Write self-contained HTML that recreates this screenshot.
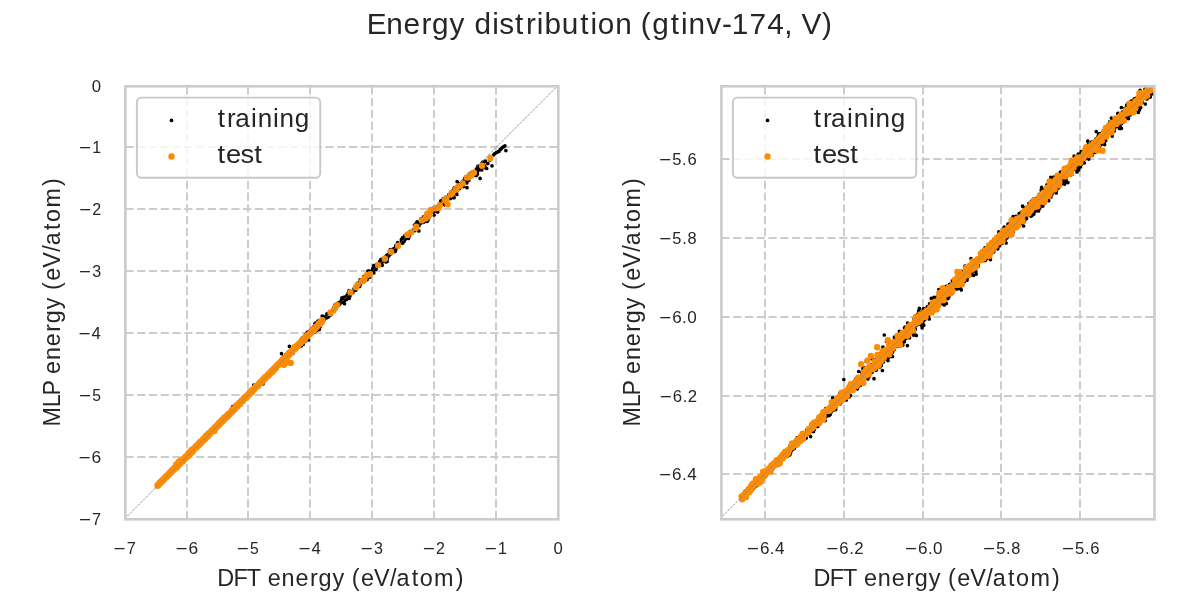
<!DOCTYPE html>
<html><head><meta charset="utf-8"><title>Energy distribution</title><style>html,body{margin:0;padding:0;background:#fff;overflow:hidden}svg{display:block;will-change:transform}</style></head>
<body><svg width="1200" height="600" viewBox="0 0 1200 600">
<style>
.g{stroke:#cccccc;stroke-width:1.95;stroke-dasharray:8.2 3.57;fill:none}
.gv{stroke:#cccccc;stroke-width:1.95;stroke-dasharray:8.23 3.567;fill:none}
.sp{stroke:#cccccc;stroke-width:2.6;fill:none}
text{font-family:"Liberation Sans", sans-serif;fill:#262626}
.tr{fill:none;stroke:#000;stroke-width:3.7;stroke-linecap:round}
.te{fill:none;stroke:#ff8c00;stroke-width:6.4;stroke-linecap:round}
.dg{stroke:#808080;stroke-width:0.85;stroke-dasharray:2.6 1.1;fill:none}
</style>
<rect width="1200" height="600" fill="#fff"/>
<defs><clipPath id="cl"><rect x="125.4" y="86.3" width="432.9" height="433"/></clipPath><clipPath id="cr"><rect x="721.4" y="86.3" width="433.1" height="433"/></clipPath></defs>
<line x1="187" y1="86.3" x2="187" y2="519.3" class="gv"/>
<line x1="248" y1="86.3" x2="248" y2="519.3" class="gv"/>
<line x1="310" y1="86.3" x2="310" y2="519.3" class="gv"/>
<line x1="372" y1="86.3" x2="372" y2="519.3" class="gv"/>
<line x1="434" y1="86.3" x2="434" y2="519.3" class="gv"/>
<line x1="496" y1="86.3" x2="496" y2="519.3" class="gv"/>
<line x1="125.4" y1="147" x2="558.3" y2="147" class="g"/>
<line x1="125.4" y1="209" x2="558.3" y2="209" class="g"/>
<line x1="125.4" y1="271" x2="558.3" y2="271" class="g"/>
<line x1="125.4" y1="333" x2="558.3" y2="333" class="g"/>
<line x1="125.4" y1="395" x2="558.3" y2="395" class="g"/>
<line x1="125.4" y1="457" x2="558.3" y2="457" class="g"/>
<line x1="765" y1="86.3" x2="765" y2="519.3" class="gv"/>
<line x1="844" y1="86.3" x2="844" y2="519.3" class="gv"/>
<line x1="923" y1="86.3" x2="923" y2="519.3" class="gv"/>
<line x1="1001" y1="86.3" x2="1001" y2="519.3" class="gv"/>
<line x1="1080" y1="86.3" x2="1080" y2="519.3" class="gv"/>
<line x1="721.4" y1="159" x2="1154.5" y2="159" class="g"/>
<line x1="721.4" y1="238" x2="1154.5" y2="238" class="g"/>
<line x1="721.4" y1="317" x2="1154.5" y2="317" class="g"/>
<line x1="721.4" y1="396" x2="1154.5" y2="396" class="g"/>
<line x1="721.4" y1="474" x2="1154.5" y2="474" class="g"/>
<g clip-path="url(#cl)">
<path class="tr" d="M199.2 443.5h0M207.1 437.6h0M159.5 483.3h0M217.8 425.7h0M189.0 455.0h0M158.5 484.7h0M176.3 466.8h0M210.9 432.7h0M198.9 443.0h0M171.6 471.5h0M223.3 420.3h0M193.6 447.9h0M171.3 472.2h0M217.3 427.4h0M181.7 461.2h0M177.7 465.2h0M157.8 485.3h0M212.3 430.4h0M178.7 464.5h0M222.8 420.6h0M207.7 434.3h0M182.1 460.9h0M158.2 484.7h0M170.7 471.5h0M219.7 423.8h0M192.7 450.0h0M164.8 478.1h0M160.1 483.4h0M163.7 479.8h0M180.3 463.6h0M194.0 449.3h0M162.8 480.1h0M203.7 439.4h0M223.6 419.5h0M184.7 459.4h0M188.1 455.7h0M161.3 481.5h0M213.6 429.4h0M206.5 437.4h0M164.7 478.7h0M167.6 475.6h0M224.4 418.1h0M222.8 421.4h0M189.6 453.4h0M184.6 459.9h0M221.8 420.1h0M191.0 451.7h0M209.9 433.0h0M181.8 461.2h0M202.0 442.2h0M181.9 461.4h0M209.1 433.4h0M177.2 466.3h0M158.4 484.9h0M174.4 469.6h0M200.9 442.0h0M180.9 462.3h0M181.0 463.3h0M215.7 425.8h0M192.2 451.1h0M168.7 474.0h0M203.8 439.6h0M206.4 436.6h0M202.1 441.9h0M199.3 444.5h0M159.5 483.9h0M187.1 455.9h0M199.8 442.4h0M189.1 453.7h0M178.8 464.2h0M170.5 472.9h0M198.5 444.5h0M173.5 469.1h0M176.2 466.9h0M165.3 477.8h0M198.6 444.4h0M194.0 450.5h0M212.3 431.7h0M211.9 431.5h0M197.4 445.4h0M221.6 422.1h0M217.3 426.7h0M164.8 478.4h0M199.7 443.7h0M182.7 460.3h0M222.6 420.1h0M221.8 421.8h0M223.2 420.3h0M185.4 457.0h0M176.7 466.4h0M165.8 477.6h0M209.9 433.1h0M158.5 484.7h0M209.9 431.8h0M175.5 467.2h0M198.2 444.9h0M200.7 442.5h0M208.4 435.1h0M193.3 450.1h0M188.6 453.7h0M207.4 435.3h0M188.1 455.0h0M217.0 425.1h0M186.2 456.8h0M204.9 439.6h0M183.4 459.6h0M214.5 429.0h0M162.0 480.7h0M204.0 439.4h0M218.5 423.6h0M189.6 454.1h0M167.9 475.2h0M211.9 431.2h0M210.5 431.4h0M159.3 483.1h0M204.5 439.0h0M213.9 430.3h0M205.2 439.2h0M177.2 465.5h0M185.3 457.1h0M199.2 443.4h0M162.4 480.5h0M196.1 446.8h0M186.5 456.9h0M197.7 444.8h0M161.3 481.8h0M167.7 476.1h0M194.7 448.5h0M175.2 467.9h0M192.2 449.9h0M173.3 469.9h0M205.3 438.3h0M163.3 479.7h0M197.3 445.7h0M216.2 427.5h0M159.6 483.2h0M161.2 481.6h0M172.5 470.8h0M222.6 420.4h0M199.4 444.1h0M173.3 470.1h0M183.4 460.1h0M213.2 429.8h0M214.5 429.3h0M197.2 446.0h0M164.1 479.2h0M171.1 471.6h0M208.4 435.8h0M189.0 454.6h0M188.7 454.9h0M167.9 475.4h0M216.4 426.3h0M174.6 468.3h0M173.3 469.5h0M159.7 483.6h0M203.6 438.5h0M189.1 453.3h0M177.1 465.5h0M206.3 436.8h0M173.0 470.0h0M184.4 459.1h0M188.9 453.8h0M206.6 436.4h0M202.5 440.2h0M200.8 442.3h0M161.7 481.4h0M185.0 460.0h0M192.3 451.4h0M163.9 479.0h0M220.1 423.5h0M173.9 469.4h0M174.7 468.3h0M178.1 463.6h0M169.6 473.3h0M184.5 458.1h0M164.8 478.2h0M219.2 423.7h0M158.8 484.4h0M190.1 453.7h0M206.1 436.4h0M178.2 464.8h0M165.3 477.9h0M163.5 479.5h0M166.3 477.0h0M174.0 469.7h0M174.0 468.8h0M204.4 438.6h0M182.6 460.0h0M185.7 457.4h0M217.5 426.5h0M208.4 435.9h0M201.4 441.3h0M206.3 437.0h0M183.2 458.8h0M162.0 481.1h0M176.7 465.6h0M208.7 434.3h0M166.3 476.8h0M215.1 428.5h0M186.3 457.2h0M179.7 465.5h0M206.2 437.6h0M193.0 450.3h0M220.3 423.5h0M165.5 477.3h0M186.6 456.9h0M208.9 435.9h0M197.4 446.1h0M212.0 429.4h0M159.8 483.1h0M189.8 453.7h0M176.1 466.8h0M195.2 447.9h0M181.1 462.5h0M223.3 419.4h0M184.4 459.5h0M213.2 429.6h0M164.2 478.9h0M217.8 425.2h0M203.2 440.5h0M199.2 444.0h0M191.8 451.3h0M170.0 473.2h0M178.5 464.5h0M189.4 455.2h0M212.1 430.0h0M203.9 440.4h0M181.9 461.5h0M203.0 440.2h0M163.4 479.6h0M196.4 446.9h0M219.7 424.0h0M205.5 437.7h0M221.6 422.6h0M203.6 439.7h0M171.6 472.1h0M217.5 424.9h0M183.9 459.5h0M183.7 460.2h0M218.4 425.9h0M183.4 460.0h0M205.4 438.5h0M216.9 426.5h0M199.2 443.5h0M168.8 474.3h0M161.8 481.4h0M213.1 430.2h0M186.0 457.8h0M218.1 425.3h0M222.2 420.1h0M159.6 483.7h0M169.9 473.4h0M197.3 446.2h0M161.7 481.7h0M213.4 430.3h0M200.7 441.3h0M172.9 469.9h0M164.3 479.0h0M168.1 474.8h0M164.6 478.2h0M206.8 436.0h0M219.4 424.8h0M199.4 443.5h0M161.9 481.1h0M182.6 460.9h0M163.2 480.2h0M193.9 448.6h0M182.6 459.9h0M190.7 452.2h0M208.4 434.9h0M177.4 466.2h0M206.9 436.2h0M183.1 461.0h0M210.3 432.8h0M177.4 465.4h0M161.0 482.3h0M173.5 469.3h0M164.0 479.0h0M223.4 420.9h0M163.7 479.0h0M211.8 431.2h0M158.7 484.6h0M188.2 455.1h0M172.2 470.9h0M187.2 455.5h0M221.4 421.5h0M191.5 452.5h0M186.7 455.8h0M217.9 425.4h0M159.2 483.9h0M185.2 457.2h0M182.9 461.5h0M208.1 434.3h0M185.8 456.4h0M224.1 419.6h0M189.0 453.9h0M202.2 440.6h0M162.5 480.3h0M217.6 425.6h0M213.0 430.1h0M197.6 445.4h0M220.3 421.5h0M170.0 473.2h0M182.5 459.5h0M167.8 474.8h0M163.6 479.5h0M200.6 443.0h0M196.5 446.1h0M173.7 469.4h0M206.5 435.9h0M189.8 452.3h0M185.6 457.5h0M198.4 444.0h0M160.2 482.8h0M180.7 462.6h0M201.4 441.1h0M182.4 461.1h0M221.1 423.6h0M177.8 465.1h0M187.6 455.6h0M192.9 449.7h0M194.5 448.9h0M166.8 476.7h0M171.5 471.6h0M161.6 481.5h0M222.3 420.6h0M176.0 467.1h0M213.0 430.7h0M183.6 459.5h0M216.2 426.5h0M217.6 425.5h0M207.0 436.0h0M158.2 484.7h0M215.8 428.0h0M197.0 446.3h0M198.5 445.5h0M221.0 421.2h0M163.8 479.1h0M188.4 454.0h0M162.2 481.1h0M214.0 429.2h0M177.6 466.5h0M208.3 434.3h0M168.0 475.3h0M175.2 467.8h0M181.2 461.7h0M186.0 457.3h0M166.9 476.4h0M203.5 440.9h0M167.3 476.1h0M190.6 451.9h0M201.9 441.8h0M210.0 433.2h0M174.9 468.0h0M217.1 426.7h0M221.5 422.3h0M209.1 433.4h0M214.0 428.6h0M160.9 482.3h0M206.0 436.5h0M184.9 458.0h0M205.5 437.5h0M215.7 427.6h0M220.7 422.1h0M217.5 425.1h0M172.7 470.1h0M195.4 447.2h0M220.0 422.7h0M188.8 454.3h0M193.5 449.9h0M223.6 420.1h0M194.4 448.5h0M186.2 458.4h0M183.1 460.1h0M219.0 423.9h0M166.9 476.5h0M220.4 424.2h0M196.0 446.7h0M176.6 466.5h0M208.3 434.1h0M166.6 476.7h0M164.5 479.0h0M166.5 476.3h0M199.0 443.7h0M168.5 474.2h0M174.4 468.3h0M161.1 481.7h0M180.1 462.3h0M200.3 441.8h0M176.5 467.5h0M216.2 427.5h0M222.9 420.0h0M201.4 441.8h0M220.7 422.5h0M214.6 429.6h0M202.8 439.8h0M206.5 436.9h0M210.8 433.2h0M190.7 451.9h0M213.6 430.7h0M193.4 449.4h0M222.7 420.2h0M173.5 469.8h0M200.7 443.0h0M175.9 468.0h0M207.3 436.6h0M186.7 456.5h0M197.5 446.3h0M187.3 455.3h0M213.8 429.2h0M161.4 481.7h0M188.2 455.2h0M211.3 432.0h0M210.8 432.4h0M199.3 444.6h0M214.5 429.4h0M159.0 484.0h0M162.0 481.1h0M164.3 478.6h0M157.8 485.2h0M177.7 465.7h0M221.3 421.6h0M203.7 440.1h0M184.9 457.8h0M188.1 455.5h0M203.2 441.1h0M215.8 427.2h0M201.7 442.1h0M216.6 427.0h0M179.5 463.5h0M203.2 439.7h0M213.8 428.7h0M163.9 479.2h0M176.9 465.8h0M167.6 475.5h0M194.4 448.7h0M213.3 429.6h0M167.7 475.6h0M161.5 481.6h0M211.3 432.6h0M219.0 424.6h0M186.1 457.1h0M212.6 430.9h0M162.3 480.4h0M172.3 471.0h0M206.4 436.9h0M179.0 464.0h0M202.9 440.8h0M192.3 451.8h0M200.1 444.1h0M191.9 451.6h0M176.2 466.8h0M162.4 480.7h0M163.7 479.2h0M219.8 422.8h0M220.8 422.1h0M180.5 462.9h0M164.2 479.2h0M179.5 464.7h0M161.5 481.5h0M176.7 466.1h0M180.8 463.0h0M214.1 429.9h0M198.7 444.1h0M186.1 458.3h0M178.1 464.6h0M197.9 444.9h0M206.7 435.9h0M164.9 478.1h0M163.0 480.1h0M176.6 465.9h0M168.4 474.6h0M204.0 438.4h0M199.0 445.1h0M169.5 473.9h0M165.0 477.7h0M182.4 459.3h0M183.7 460.0h0M224.2 419.0h0M188.2 456.0h0M169.2 473.6h0M174.7 468.6h0M186.8 456.8h0M160.0 483.1h0M201.6 442.4h0M191.3 451.9h0M209.6 434.0h0M168.5 474.2h0M160.6 482.5h0M160.7 482.2h0M223.7 419.3h0M159.8 483.1h0M170.4 472.8h0M162.0 481.0h0M224.1 418.0h0M209.9 433.8h0M168.9 474.0h0M205.7 437.3h0M158.3 484.6h0M206.4 437.8h0M218.5 425.3h0M176.5 466.2h0M175.0 468.0h0M174.1 468.8h0M221.6 421.1h0M197.2 446.9h0M183.8 460.1h0M210.4 433.7h0M167.6 475.9h0M158.0 485.2h0M172.9 470.5h0M176.4 467.3h0M171.4 471.3h0M204.7 437.8h0M190.2 453.7h0M162.9 480.4h0M188.7 453.5h0M180.8 461.8h0M192.5 450.9h0M198.1 444.3h0M178.5 465.4h0M200.7 442.3h0M187.4 455.6h0M219.7 423.2h0M190.9 451.7h0M168.4 474.6h0M218.4 425.4h0M199.4 443.0h0M172.9 469.8h0M174.8 468.6h0M190.0 453.6h0M189.5 454.5h0M209.1 434.2h0M191.4 451.9h0M179.7 463.9h0M198.7 443.8h0M219.5 424.0h0M173.0 470.7h0M199.1 444.1h0M190.5 453.1h0M205.9 438.8h0M187.2 455.6h0M223.9 419.7h0M163.2 480.4h0M201.2 441.7h0M167.4 476.3h0M198.7 443.3h0M213.0 430.5h0M186.1 456.0h0M179.9 463.5h0M193.1 450.8h0M205.3 438.8h0M190.6 453.0h0M160.9 482.4h0M178.9 463.9h0M219.7 423.4h0M177.6 465.5h0M195.6 446.6h0M189.5 453.7h0M157.6 485.3h0M167.5 475.5h0M181.3 463.3h0M177.2 466.2h0M192.6 450.5h0M167.2 475.6h0M208.8 433.9h0M216.0 427.0h0M217.4 425.8h0M157.8 485.0h0M206.9 436.4h0M158.0 485.4h0M218.3 424.6h0M223.6 419.7h0M186.1 456.7h0M187.9 454.5h0M178.2 465.1h0M173.9 468.9h0M224.2 418.7h0M192.6 450.9h0M182.1 461.7h0M159.6 483.5h0M202.7 440.4h0M173.2 470.2h0M214.6 428.6h0M162.2 480.7h0M177.1 466.5h0M160.7 482.2h0M161.0 482.2h0M213.5 429.5h0M161.9 481.1h0M169.7 472.7h0M190.5 453.5h0M166.6 476.3h0M216.8 426.9h0M223.1 418.9h0M220.1 423.7h0M162.5 480.8h0M203.1 441.2h0M180.8 462.1h0M192.1 450.6h0M175.5 467.0h0M207.9 435.6h0M159.7 483.3h0M207.0 435.9h0M198.7 444.6h0M170.6 472.9h0M165.1 477.3h0M180.9 462.7h0M176.2 467.2h0M216.7 426.5h0M160.7 482.3h0M181.6 460.7h0M177.8 465.9h0M203.1 440.1h0M220.9 421.9h0M199.2 445.4h0M210.4 432.5h0M168.1 474.7h0M203.5 439.6h0M159.1 483.9h0M181.5 462.2h0M204.5 440.0h0M223.7 420.3h0M176.8 466.7h0M198.4 444.0h0M176.8 465.6h0M206.9 436.4h0M223.0 419.6h0M189.1 454.3h0M162.7 480.6h0M196.5 445.7h0M214.6 428.7h0M190.8 453.0h0M208.4 434.6h0M165.8 477.8h0M194.2 449.1h0M196.1 446.3h0M181.0 461.4h0M212.1 431.0h0M166.4 477.0h0M172.0 471.2h0M157.8 485.5h0M210.4 432.3h0M206.5 436.7h0M196.4 446.7h0M198.2 444.1h0M198.0 445.7h0M184.9 459.0h0M203.2 439.6h0M181.6 461.4h0M201.5 441.5h0M181.1 462.5h0M203.0 440.0h0M193.5 449.8h0M216.4 426.5h0M220.1 423.8h0M202.0 440.5h0M183.6 459.5h0M203.3 439.6h0M170.3 472.9h0M190.9 452.5h0M182.2 460.5h0M170.4 472.2h0M175.4 468.2h0M218.1 424.9h0M221.5 420.8h0M167.6 475.6h0M157.7 485.4h0M174.8 467.8h0M202.8 440.0h0M196.5 446.5h0M200.3 443.7h0M212.6 429.6h0M213.4 427.9h0M217.4 425.2h0M182.7 461.2h0M208.7 435.0h0M181.9 461.1h0M188.6 452.8h0M169.4 473.8h0M206.4 437.8h0M175.9 467.1h0M171.2 472.3h0M217.4 426.0h0M218.8 424.5h0M178.7 464.2h0M181.8 460.4h0M169.9 473.3h0M168.8 474.4h0M203.0 439.8h0M177.0 465.9h0M186.9 456.0h0M192.5 450.5h0M214.8 428.9h0M219.7 422.8h0M216.7 426.8h0M193.8 449.3h0M216.7 427.1h0M186.3 456.9h0M182.4 460.1h0M158.0 484.8h0M203.6 440.5h0M197.9 445.1h0M190.7 453.1h0M194.5 449.0h0M190.2 452.0h0M224.4 418.6h0M162.5 480.6h0M212.9 430.3h0M174.3 468.6h0M167.2 475.8h0M199.0 443.7h0M213.3 429.1h0M206.4 437.4h0M185.9 458.4h0M186.7 455.5h0M199.8 443.2h0M210.4 432.0h0M174.3 469.3h0M219.4 423.6h0M176.2 467.2h0M183.8 459.3h0M201.5 441.0h0M183.3 460.3h0M194.7 449.1h0M170.8 472.4h0M213.5 429.9h0M199.7 443.0h0M177.5 466.2h0M216.3 426.4h0M193.6 449.8h0M174.1 469.3h0M167.3 475.8h0M187.8 454.6h0M169.4 473.5h0M207.0 436.1h0M170.6 472.2h0M204.9 438.4h0M224.3 418.1h0M166.4 477.0h0M204.7 436.7h0M219.3 422.8h0M161.8 480.9h0M205.4 437.8h0M199.9 443.5h0M167.3 475.8h0M205.0 437.9h0M203.3 439.6h0M188.5 454.5h0M206.1 438.2h0M190.4 453.3h0M188.9 454.1h0M211.2 432.6h0M180.6 463.4h0M220.5 423.2h0M188.8 454.8h0M215.1 427.7h0M210.9 432.6h0M169.8 473.5h0M217.3 426.1h0M202.6 440.9h0M194.1 448.3h0M193.3 450.0h0M203.3 440.4h0M182.2 461.7h0M183.5 458.8h0M177.5 465.8h0M216.1 426.8h0M185.4 456.8h0M173.9 469.8h0M190.9 452.1h0M165.6 477.2h0M198.0 443.7h0M202.4 441.6h0M208.4 434.3h0M203.8 439.8h0M204.6 438.8h0M182.2 460.6h0M160.1 483.1h0M215.8 426.7h0M164.6 478.7h0M187.9 454.4h0M191.9 451.4h0M221.2 421.8h0M164.1 478.9h0M207.6 436.3h0M167.3 475.7h0M207.5 435.3h0M177.8 465.3h0M187.3 456.3h0M166.3 476.1h0M174.0 470.1h0M186.8 455.5h0M213.9 429.7h0M190.9 451.9h0M214.8 428.0h0M209.9 433.2h0M207.8 436.2h0M172.2 470.4h0M159.7 483.4h0M224.0 419.9h0M199.8 443.4h0M190.2 452.0h0M206.1 437.8h0M170.8 472.3h0M221.1 421.6h0M212.1 431.2h0M169.5 473.6h0M205.0 438.5h0M201.6 441.8h0M209.9 433.3h0M175.4 467.7h0M162.4 480.3h0M195.2 448.2h0M215.7 428.1h0M222.5 420.4h0M167.8 475.5h0M204.0 439.6h0M207.4 435.9h0M218.0 425.3h0M208.5 434.7h0M194.1 449.3h0M189.1 453.4h0M173.5 469.4h0M179.8 461.8h0M161.3 481.7h0M185.7 458.2h0M161.3 481.7h0M158.1 485.1h0M169.5 474.3h0M220.9 421.9h0M215.5 427.4h0M202.1 441.4h0M189.7 453.7h0M189.6 452.5h0M191.6 451.7h0M191.5 451.9h0M171.8 471.6h0M190.0 454.2h0M191.7 450.2h0M188.1 455.7h0M196.4 446.7h0M203.2 440.1h0M200.3 443.4h0M190.0 452.8h0M188.4 454.7h0M211.8 430.7h0M170.7 473.4h0M166.9 476.1h0M166.9 476.0h0M171.6 472.0h0M160.2 483.1h0M193.0 451.3h0M212.6 430.7h0M179.7 463.5h0M200.1 443.0h0M207.5 435.8h0M179.9 464.2h0M200.3 442.3h0M193.1 450.6h0M213.2 430.1h0M192.3 452.1h0M188.6 454.1h0M159.9 483.6h0M189.0 454.7h0M173.7 469.2h0M196.5 446.4h0M198.8 443.7h0M186.2 457.6h0M222.3 420.4h0M214.0 429.8h0M213.3 429.5h0M184.3 458.9h0M175.3 468.2h0M203.5 438.8h0M189.9 453.5h0M166.9 476.0h0M167.8 475.3h0M159.4 483.9h0M213.4 429.1h0M178.1 465.0h0M174.6 468.3h0M187.8 455.0h0M166.6 476.5h0M176.8 466.6h0M220.0 421.8h0M163.9 479.3h0M176.3 467.4h0M161.7 481.3h0M188.8 454.9h0M205.2 438.8h0M177.4 465.1h0M200.5 442.1h0M216.8 426.2h0M184.8 458.5h0M218.8 423.6h0M222.3 420.3h0M182.1 460.8h0M163.0 479.9h0M163.1 480.1h0M168.7 474.3h0M159.7 483.3h0M209.4 434.1h0M210.3 432.9h0M216.1 426.4h0M162.3 480.6h0M177.6 465.7h0M190.7 451.4h0M190.4 452.2h0M193.2 449.3h0M180.3 462.6h0M173.6 469.0h0M170.4 472.4h0M193.8 449.1h0M165.7 477.5h0M184.3 458.4h0M207.5 436.2h0M191.1 452.2h0M203.2 438.9h0M200.9 442.9h0M177.1 465.4h0M191.8 450.0h0M223.4 419.5h0M199.5 442.5h0M216.3 427.1h0M171.2 471.4h0M189.5 453.4h0M196.1 446.8h0M210.9 433.4h0M179.7 463.9h0M218.0 425.8h0M161.1 482.2h0M210.9 433.5h0M160.1 482.7h0M203.1 440.9h0M212.8 430.1h0M169.9 473.0h0M194.1 449.3h0M178.4 464.9h0M185.2 456.9h0M221.9 421.2h0M181.0 462.0h0M168.0 475.1h0M171.9 469.8h0M158.1 484.8h0M174.3 469.0h0M200.5 442.4h0M205.1 437.4h0M195.1 448.2h0M219.3 424.0h0M196.1 447.9h0M196.3 446.2h0M187.2 456.0h0M180.5 463.0h0M171.4 472.0h0M160.8 482.0h0M188.9 453.5h0M211.9 430.8h0M163.8 479.2h0M161.9 481.5h0M218.8 423.3h0M212.4 430.1h0M204.2 438.8h0M206.4 437.1h0M210.3 434.3h0M224.0 418.1h0M191.5 451.1h0M166.4 476.9h0M166.6 476.8h0M200.7 442.8h0M221.0 421.6h0M180.9 462.4h0M222.8 420.0h0M178.7 465.5h0M220.3 421.9h0M195.4 446.8h0M210.6 432.2h0M208.4 434.3h0M190.7 451.8h0M176.2 466.9h0M220.3 423.7h0M202.3 440.2h0M210.1 433.6h0M209.6 433.7h0M164.0 478.6h0M170.5 472.4h0M175.0 468.4h0M194.0 449.5h0M167.6 475.4h0M158.4 484.6h0M222.0 420.8h0M171.5 472.1h0M165.4 477.9h0M173.4 470.3h0M199.8 444.2h0M159.8 483.5h0M223.0 420.7h0M216.4 427.0h0M164.3 479.1h0M171.2 471.7h0M193.3 449.8h0M219.2 424.2h0M174.8 467.5h0M222.7 420.2h0M223.0 419.3h0M219.5 424.6h0M191.6 451.3h0M196.4 446.8h0M169.2 473.9h0M184.3 458.7h0M205.6 436.3h0M174.7 468.7h0M203.9 438.9h0M198.6 444.0h0M218.8 424.4h0M217.6 425.8h0M222.1 420.2h0M164.8 479.0h0M202.0 439.9h0M201.7 441.2h0M167.1 476.2h0M217.8 425.4h0M168.7 475.1h0M223.2 420.9h0M161.2 481.7h0M163.1 479.7h0M198.8 443.2h0M206.5 437.1h0M194.1 448.6h0M203.6 439.4h0M187.7 456.2h0M211.3 431.1h0M173.3 470.4h0M163.4 479.7h0M174.0 469.0h0M198.1 445.7h0M193.5 450.5h0M216.7 425.1h0M165.6 477.9h0M197.9 444.9h0M218.2 424.7h0M162.7 480.5h0M192.0 452.6h0M170.2 473.3h0M196.0 447.4h0M164.3 479.0h0M210.7 432.4h0M203.3 439.9h0M177.5 465.7h0M193.3 448.9h0M169.1 474.0h0M170.1 472.9h0M168.3 474.5h0M208.2 435.0h0M191.8 451.0h0M221.8 421.6h0M215.3 426.9h0M196.3 446.9h0M187.4 454.2h0M167.1 476.1h0M204.4 437.9h0M165.7 477.7h0M203.1 439.5h0M213.5 429.7h0M181.8 461.2h0M186.4 456.7h0M171.2 471.7h0M174.7 468.1h0M185.9 458.8h0M212.8 430.8h0M215.9 426.9h0M198.2 445.3h0M219.5 423.2h0M180.3 462.8h0M195.8 446.4h0M171.5 471.1h0M213.6 430.0h0M220.2 423.0h0M202.2 441.1h0M169.5 473.9h0M208.5 435.6h0M220.1 423.2h0M222.8 419.6h0M195.7 448.2h0M168.8 473.5h0M184.2 458.6h0M187.2 456.0h0M200.3 443.5h0M220.6 421.9h0M167.5 475.8h0M170.9 472.2h0M210.5 432.3h0M217.2 426.2h0M224.3 419.2h0M200.3 443.2h0M189.3 453.1h0M183.2 460.3h0M165.1 478.2h0M202.4 441.0h0M199.4 443.5h0M189.9 453.7h0M159.6 483.3h0M170.6 472.4h0M219.1 423.8h0M190.3 453.1h0M206.8 435.1h0M159.1 483.4h0M159.7 483.3h0M192.2 451.3h0M221.4 420.3h0M193.5 449.8h0M167.0 476.3h0M164.5 478.7h0M163.0 480.1h0M188.2 454.0h0M175.0 468.7h0M176.4 467.1h0M193.8 449.5h0M210.8 432.2h0M158.2 485.0h0M216.5 426.7h0M179.7 462.7h0M176.9 466.1h0M166.7 476.4h0M179.8 463.6h0M213.1 430.1h0M169.8 473.0h0M200.1 442.5h0M173.5 469.2h0M165.6 477.7h0M205.7 438.2h0M159.0 484.3h0M173.7 468.9h0M183.6 461.6h0M193.7 449.8h0M176.8 465.1h0M202.5 439.8h0M201.9 441.0h0M164.4 478.9h0M222.3 420.0h0M186.3 456.2h0M189.0 454.4h0M164.6 478.5h0M196.7 447.2h0M199.2 443.2h0M188.2 455.6h0M220.9 421.9h0M216.4 426.8h0M209.8 433.5h0M165.7 477.2h0M168.9 474.8h0M223.5 420.0h0M169.4 473.4h0M214.1 428.6h0M175.5 466.8h0M207.6 434.8h0M209.6 433.1h0M183.2 460.5h0M188.2 455.0h0M195.2 448.1h0M185.1 458.3h0M181.1 462.8h0M209.6 434.5h0M199.6 444.1h0M163.1 479.9h0M223.4 420.7h0M186.1 457.0h0M183.7 459.1h0M195.5 447.3h0M189.0 453.3h0M210.4 432.8h0M196.0 447.4h0M170.7 472.7h0M163.1 480.0h0M185.3 456.6h0M217.3 426.0h0M191.8 450.3h0M213.5 429.5h0M198.4 444.2h0M188.2 455.1h0M215.8 428.1h0M176.8 466.0h0M199.0 443.4h0M222.4 420.7h0M199.4 443.3h0M222.0 420.9h0M189.3 453.7h0M197.9 445.1h0M160.1 482.9h0M173.8 469.9h0M172.3 471.6h0M194.1 449.5h0M220.5 423.3h0M224.1 417.6h0M215.0 428.1h0M161.5 481.5h0M163.0 479.9h0M165.1 478.7h0M163.2 479.9h0M206.8 436.6h0M189.9 452.5h0M223.4 420.4h0M187.4 454.9h0M166.9 476.5h0M175.6 467.4h0M188.9 454.0h0M205.1 437.1h0M174.3 469.2h0M206.7 435.1h0M169.1 473.9h0M220.9 422.5h0M162.7 480.4h0M199.3 443.8h0M208.8 434.1h0M161.2 481.9h0M195.4 447.4h0M192.7 450.9h0M191.1 452.1h0M171.7 471.8h0M180.5 462.5h0M220.0 424.9h0M157.7 485.2h0M182.2 461.0h0M162.0 481.2h0M223.6 418.9h0M203.0 440.5h0M208.9 434.7h0M174.5 469.3h0M198.3 445.2h0M173.7 469.8h0M171.8 471.7h0M163.8 479.5h0M208.8 434.7h0M162.7 480.4h0M187.0 455.8h0M192.1 450.9h0M220.3 423.3h0M213.4 429.8h0M178.1 465.1h0M187.1 457.4h0M218.9 424.3h0M218.3 425.5h0M215.8 427.5h0M199.9 442.9h0M196.1 447.2h0M203.7 439.8h0M196.1 446.8h0M205.3 437.3h0M217.2 426.4h0M216.7 426.1h0M179.5 464.1h0M159.0 484.0h0M217.0 427.4h0M221.4 421.4h0M207.5 436.1h0M211.2 431.5h0M212.3 430.6h0M180.3 460.9h0M186.2 455.8h0M218.4 424.8h0M181.1 461.7h0M211.0 431.1h0M207.9 435.1h0M208.4 436.2h0M205.2 437.5h0M163.5 479.1h0M205.6 436.8h0M172.1 471.5h0M203.0 441.2h0M178.9 464.8h0M222.1 421.5h0M191.1 451.9h0M202.2 441.0h0M165.8 477.2h0M193.8 450.3h0M190.8 451.3h0M179.9 462.6h0M197.2 445.0h0M190.8 451.6h0M162.5 480.2h0M223.7 417.4h0M161.9 481.3h0M210.6 433.9h0M186.0 457.5h0M162.2 480.8h0M176.5 465.8h0M187.6 455.6h0M186.5 456.6h0M181.7 461.5h0M186.2 457.7h0M198.3 444.8h0M204.6 438.2h0M208.2 434.5h0M219.9 422.9h0M201.2 440.8h0M216.0 427.3h0M217.3 424.1h0M212.4 431.4h0M203.2 439.2h0M163.4 479.4h0M211.4 431.8h0M197.8 445.8h0M216.2 427.9h0M209.7 432.9h0M182.4 461.0h0M175.7 467.5h0M191.8 451.2h0M166.8 476.7h0M210.1 433.1h0M217.7 426.2h0M198.9 443.8h0M204.4 437.8h0M187.8 455.7h0M201.8 441.1h0M199.1 444.3h0M210.9 431.4h0M169.3 473.9h0M203.3 439.3h0M171.5 472.4h0M186.4 457.4h0M162.3 480.7h0M197.5 445.6h0M160.2 483.0h0M182.7 460.7h0M191.4 452.7h0M212.2 432.3h0M164.2 479.1h0M215.3 427.8h0M189.6 453.5h0M175.0 468.3h0M198.6 443.9h0M216.5 427.2h0M198.6 443.6h0M192.0 451.1h0M178.7 465.4h0M206.2 438.2h0M177.9 464.6h0M164.3 478.4h0M223.8 419.8h0M213.8 429.4h0M158.0 484.5h0M191.9 452.2h0M188.7 454.8h0M184.8 458.9h0M210.9 432.5h0M191.2 452.1h0M199.8 442.7h0M168.7 474.5h0M183.7 459.5h0M192.9 450.9h0M178.2 465.5h0M171.7 471.4h0M158.3 484.7h0M223.8 419.8h0M191.7 451.8h0M210.4 434.0h0M216.0 426.7h0M160.4 483.2h0M202.8 440.2h0M219.7 423.4h0M218.5 424.7h0M182.3 461.6h0M205.1 438.0h0M160.9 482.1h0M206.1 435.8h0M217.4 426.1h0M192.1 451.3h0M194.2 449.3h0M190.7 453.4h0M178.5 464.6h0M224.2 419.2h0M210.0 431.9h0M176.6 466.1h0M218.5 424.6h0M199.8 442.6h0M222.5 420.4h0M159.1 484.3h0M163.1 480.3h0M196.7 446.5h0M199.9 443.1h0M168.1 474.6h0M209.5 433.2h0M170.4 472.7h0M170.1 472.5h0M196.5 447.1h0M173.5 469.1h0M184.1 458.7h0M177.6 465.4h0M217.4 425.9h0M222.7 421.7h0M204.4 438.7h0M213.3 430.0h0M197.6 445.5h0M194.6 448.5h0M164.4 478.8h0M196.8 446.2h0M171.9 471.1h0M173.4 469.9h0M202.1 441.4h0M159.0 484.1h0M197.9 446.1h0M171.2 472.5h0M168.9 475.1h0M189.7 452.8h0M205.9 438.0h0M179.8 463.2h0M168.6 474.3h0M224.0 419.3h0M208.4 435.5h0M159.8 483.2h0M174.6 468.8h0M213.6 430.0h0M200.1 443.1h0M215.6 428.0h0M208.3 434.6h0M206.2 435.1h0M176.6 465.2h0M204.3 440.4h0M176.9 465.8h0M195.5 447.6h0M203.7 439.1h0M172.2 470.1h0M201.6 440.6h0M161.9 481.1h0M164.5 478.4h0M171.3 472.1h0M218.9 424.3h0M158.9 484.3h0M197.5 445.4h0M177.5 465.4h0M181.1 462.7h0M201.3 441.1h0M197.0 446.7h0M171.0 471.8h0M181.1 461.5h0M181.1 462.4h0M195.4 446.7h0M181.7 461.5h0M188.7 454.0h0M176.5 465.7h0M160.3 482.8h0M199.9 442.7h0M178.0 465.8h0M169.2 474.0h0M209.1 434.0h0M216.4 426.5h0M184.5 459.8h0M160.5 482.9h0M213.7 428.6h0M157.7 485.2h0M207.2 436.8h0M197.4 445.8h0M181.1 461.9h0M218.9 423.2h0M168.7 474.8h0M183.9 459.6h0M183.7 458.0h0M209.3 432.6h0M174.1 469.0h0M197.4 446.3h0M197.2 445.9h0M179.1 463.6h0M185.5 455.7h0M181.5 461.0h0M217.4 425.6h0M157.8 485.2h0M198.7 444.1h0M200.6 441.9h0M203.3 439.5h0M206.1 436.9h0M204.9 438.1h0M186.0 458.1h0M202.4 440.5h0M180.7 463.0h0M223.1 420.1h0M201.1 441.8h0M189.5 454.2h0M168.2 474.5h0M167.4 476.0h0M178.7 464.4h0M173.3 469.4h0M185.7 457.6h0M190.8 451.9h0M191.2 452.3h0M188.2 454.8h0M174.0 468.7h0M178.6 463.8h0M178.7 464.7h0M200.0 443.3h0M198.1 445.2h0M195.4 448.1h0M175.0 467.7h0M207.3 436.4h0M222.6 420.6h0M195.4 447.2h0M196.7 448.1h0M171.4 472.5h0M159.4 483.5h0M204.3 438.3h0M204.2 439.0h0M170.2 472.5h0M200.2 443.8h0M172.8 470.6h0M204.5 438.8h0M199.3 444.4h0M217.2 427.3h0M219.6 424.0h0M183.6 459.1h0M181.7 461.4h0M219.3 424.6h0M207.1 436.7h0M189.8 452.4h0M202.3 439.8h0M221.4 421.5h0M220.8 421.8h0M188.0 455.4h0M177.7 465.6h0M159.3 483.9h0M217.5 425.2h0M197.7 444.9h0M212.5 431.2h0M184.7 459.4h0M202.8 440.4h0M224.3 419.3h0M203.7 439.3h0M210.0 432.9h0M223.7 419.8h0M214.5 428.3h0M206.3 436.9h0M165.2 477.6h0M198.0 444.9h0M199.6 443.8h0M174.6 469.4h0M172.6 470.5h0M182.9 460.5h0M184.3 459.3h0M162.7 480.6h0M187.0 456.1h0M166.2 477.0h0M171.1 471.7h0M204.3 438.2h0M185.3 457.7h0M207.4 435.4h0M173.7 469.8h0M161.5 481.7h0M200.3 442.6h0M220.6 422.2h0M202.2 440.9h0M173.0 469.1h0M181.9 461.3h0M222.5 422.0h0M196.5 445.9h0M218.0 425.0h0M176.1 466.9h0M205.5 438.2h0M190.2 453.4h0M219.5 422.9h0M220.2 422.6h0M166.2 477.2h0M194.3 449.0h0M186.7 457.2h0M192.1 451.5h0M175.8 467.1h0M161.1 482.0h0M220.5 422.5h0M162.5 480.3h0M162.2 481.0h0M180.5 462.2h0M181.5 460.9h0M213.3 429.7h0M193.9 449.7h0M188.4 454.5h0M170.6 472.9h0M162.3 480.7h0M217.3 425.4h0M215.0 428.7h0M161.4 481.7h0M172.4 470.6h0M213.2 430.0h0M165.5 477.5h0M189.3 454.1h0M199.5 442.9h0M209.3 433.3h0M198.1 445.9h0M178.8 463.5h0M204.5 439.6h0M166.7 476.1h0M176.9 465.9h0M164.0 479.1h0M211.9 430.9h0M189.6 452.9h0M207.6 435.0h0M212.5 430.2h0M163.5 479.1h0M194.1 449.7h0M205.3 438.5h0M160.5 482.8h0M184.7 459.0h0M214.6 429.3h0M164.5 478.5h0M222.7 421.4h0M172.9 470.1h0M173.9 470.0h0M208.3 434.9h0M223.8 419.7h0M158.7 484.3h0M198.6 444.1h0M166.2 476.7h0M190.9 452.7h0M178.9 463.5h0M210.7 433.0h0M191.8 452.2h0M167.6 475.5h0M206.5 436.8h0M197.9 446.4h0M159.3 483.7h0M207.6 435.0h0M160.8 482.3h0M223.5 419.6h0M203.2 440.0h0M177.7 465.8h0M219.1 424.5h0M169.1 474.0h0M215.7 428.2h0M174.2 468.7h0M198.4 445.2h0M193.9 448.4h0M187.3 455.0h0M193.8 449.4h0M179.3 464.3h0M160.5 482.7h0M189.2 455.0h0M184.7 458.2h0M189.0 454.6h0M161.3 481.6h0M158.4 484.9h0M166.2 476.9h0M208.3 434.8h0M212.7 430.4h0M166.0 477.2h0M198.3 444.2h0M214.5 428.1h0M214.4 428.4h0M189.3 454.6h0M212.4 431.0h0M173.4 468.9h0M210.9 432.1h0M191.6 451.4h0M201.1 442.3h0M181.7 461.4h0M223.6 420.1h0M199.0 444.9h0M165.0 478.0h0M177.8 464.8h0M163.9 479.2h0M160.9 482.2h0M183.7 460.3h0M219.4 424.3h0M187.8 455.0h0M214.4 428.0h0M168.4 475.9h0M200.3 441.3h0M222.4 421.6h0M222.6 420.3h0M180.7 463.3h0M178.3 465.4h0M206.0 436.6h0M163.0 480.4h0M165.9 476.6h0M164.6 478.6h0M200.0 442.9h0M170.8 472.6h0M223.3 420.9h0M170.2 473.3h0M201.1 442.1h0M196.6 447.3h0M182.9 459.9h0M194.6 449.1h0M173.1 470.5h0M213.5 429.3h0M190.9 451.7h0M209.1 434.0h0M163.2 479.6h0M208.1 436.0h0M175.2 468.1h0M170.6 472.4h0M214.1 428.8h0M212.8 429.9h0M177.2 466.0h0M197.2 446.7h0M194.4 449.9h0M219.8 422.8h0M198.6 444.1h0M180.1 462.7h0M209.6 434.6h0M181.6 461.9h0M208.9 434.2h0M198.8 444.5h0M204.1 440.0h0M205.1 438.1h0M165.1 478.0h0M187.0 456.3h0M199.9 443.0h0M180.3 462.6h0M190.4 452.8h0M161.7 481.4h0M170.3 473.0h0M195.7 447.3h0M174.0 469.2h0M201.2 441.7h0M221.9 421.0h0M211.5 431.2h0M211.6 432.2h0M192.8 449.8h0M209.5 432.3h0M223.9 417.6h0M207.8 434.3h0M196.4 447.1h0M198.4 444.9h0M215.7 427.7h0M176.3 466.6h0M190.4 452.4h0M222.9 419.9h0M210.8 432.3h0M213.6 430.7h0M182.4 460.2h0M196.3 446.1h0M180.0 463.0h0M160.9 482.2h0M203.0 440.7h0M172.3 471.3h0M194.8 448.9h0M164.3 478.6h0M198.1 445.5h0M173.8 469.0h0M186.4 456.8h0M187.0 456.2h0M185.0 458.1h0M180.4 463.0h0M217.6 426.2h0M198.4 444.7h0M197.7 445.7h0M210.0 433.2h0M212.7 431.7h0M223.4 419.3h0M163.5 479.5h0M167.3 476.0h0M178.6 463.9h0M157.7 485.6h0M162.4 480.4h0M193.4 449.3h0M216.2 427.2h0M182.7 459.6h0M210.8 431.8h0M198.2 444.5h0M199.4 443.2h0M179.4 464.7h0M165.3 478.1h0M173.8 468.7h0M221.6 421.8h0M171.5 471.9h0M218.7 425.3h0M208.9 433.4h0M191.6 451.6h0M179.3 464.9h0M210.0 433.3h0M196.4 445.8h0M183.5 460.4h0M159.6 483.4h0M191.7 450.4h0M163.7 479.4h0M165.4 477.5h0M193.9 449.9h0M161.4 481.6h0M201.7 442.2h0M222.8 421.7h0M178.8 464.2h0M202.1 441.0h0M160.4 482.5h0M184.4 459.5h0M160.7 482.0h0M168.8 474.3h0M159.1 484.1h0M212.1 430.8h0M209.3 434.8h0M211.5 432.9h0M224.4 420.4h0M207.7 435.1h0M187.9 456.0h0M188.9 455.0h0M169.8 473.8h0M218.2 425.6h0M215.5 427.4h0M190.2 452.3h0M203.6 439.2h0M173.8 469.2h0M181.2 461.8h0M194.3 448.4h0M214.0 429.5h0M210.7 433.0h0M219.7 422.6h0M203.2 438.8h0M187.1 455.0h0M211.3 432.5h0M167.8 475.0h0M175.7 466.8h0M175.7 468.4h0M181.4 461.9h0M211.6 431.4h0M204.4 438.7h0M203.6 439.8h0M223.9 420.4h0M167.8 475.5h0M217.6 426.2h0M183.9 458.4h0M204.7 437.1h0M172.1 470.2h0M188.3 455.2h0M200.7 443.0h0M220.0 422.9h0M165.8 477.4h0M196.6 447.0h0M206.6 435.3h0M177.5 466.1h0M201.7 441.4h0M184.8 458.9h0M197.8 444.6h0M177.5 465.0h0M213.7 429.4h0M193.5 449.5h0M163.7 479.6h0M197.3 445.3h0M204.0 439.2h0M196.8 447.1h0M217.9 424.3h0M193.3 449.8h0M173.3 470.2h0M218.8 424.0h0M187.6 455.8h0M183.7 458.9h0M177.1 466.5h0M200.3 442.7h0M189.3 454.8h0M181.4 461.8h0M211.6 431.3h0M198.9 443.8h0M187.7 455.5h0M222.6 420.6h0M182.9 459.9h0M200.4 441.8h0M214.6 428.2h0M206.2 436.2h0M202.9 441.1h0M206.7 436.6h0M209.7 432.9h0M168.7 474.5h0M220.5 422.8h0M203.7 439.2h0M166.7 476.2h0M222.0 422.0h0M169.1 474.2h0M178.4 466.8h0M213.3 429.4h0M221.4 421.2h0M193.8 448.7h0M193.9 449.3h0M220.6 423.3h0M212.0 432.1h0M213.5 430.1h0M194.6 447.9h0M202.7 439.9h0M169.0 474.8h0M168.7 474.4h0M222.8 420.6h0M214.7 430.0h0M180.9 462.6h0M207.1 437.2h0M161.0 482.0h0M181.1 461.2h0M167.8 475.5h0M223.1 420.5h0M165.7 476.9h0M205.3 438.2h0M198.7 443.7h0M176.9 465.0h0M166.4 476.9h0M194.4 450.3h0M180.3 463.7h0M169.0 474.1h0M219.1 423.6h0M179.9 463.3h0M217.0 425.7h0M181.3 462.6h0M201.8 442.1h0M203.7 439.3h0M170.2 473.0h0M212.5 430.9h0M203.8 439.1h0M178.7 464.4h0M165.1 477.8h0M213.6 428.9h0M190.5 453.1h0M204.3 438.9h0M201.5 440.8h0M186.6 456.3h0M201.9 441.0h0M179.7 463.6h0M201.2 441.5h0M159.6 483.4h0M159.3 483.7h0M200.5 442.7h0M220.1 422.7h0M177.4 466.8h0M192.8 450.7h0M163.0 480.0h0M172.0 471.7h0M190.5 451.9h0M210.2 432.8h0M210.8 432.3h0M218.3 423.6h0M192.7 449.1h0M170.3 472.7h0M186.2 456.9h0M213.8 429.0h0M187.0 457.0h0M184.0 460.4h0M162.3 480.9h0M193.1 449.8h0M218.7 425.3h0M202.8 439.2h0M182.6 460.8h0M189.1 455.0h0M191.6 452.0h0M162.5 480.6h0M199.2 444.0h0M223.7 419.6h0M159.6 483.3h0M203.7 439.1h0M189.8 454.9h0M203.7 439.2h0M214.8 427.9h0M181.6 460.2h0M201.9 442.8h0M204.7 439.0h0M199.0 443.8h0M218.7 424.8h0M180.9 462.0h0M213.9 430.2h0M168.9 474.8h0M182.2 460.9h0M190.0 452.3h0M192.1 452.8h0M170.7 471.9h0M173.9 469.1h0M213.0 429.6h0M223.3 420.7h0M175.9 465.6h0M180.8 462.6h0M211.2 431.5h0M210.2 433.0h0M188.8 454.3h0M173.1 469.3h0M199.1 443.8h0M201.5 442.4h0M218.4 424.1h0M217.5 425.4h0M168.7 474.4h0M167.2 476.1h0M172.7 469.8h0M221.9 422.5h0M221.8 421.3h0M191.6 452.1h0M206.4 436.8h0M193.3 450.5h0M223.6 419.1h0M204.3 438.9h0M165.2 478.5h0M172.3 470.9h0M179.9 462.0h0M159.5 483.7h0M181.4 461.4h0M158.4 484.8h0M211.6 430.7h0M212.4 430.8h0M208.4 434.0h0M163.0 479.7h0M220.3 423.0h0M201.8 439.7h0M194.3 448.6h0M192.9 450.4h0M199.9 442.7h0M195.8 446.2h0M160.9 482.3h0M215.3 428.2h0M216.9 425.5h0M187.5 455.5h0M221.3 421.4h0M182.3 461.3h0M178.8 464.2h0M223.4 419.8h0M205.0 437.8h0M167.7 475.5h0M187.8 455.9h0M201.2 441.6h0M214.0 428.2h0M220.1 424.5h0M205.3 437.3h0M177.2 466.4h0M222.5 419.8h0M216.1 426.1h0M207.5 435.5h0M217.4 426.1h0M167.8 475.1h0M215.9 428.6h0M218.9 423.9h0M166.5 476.7h0M171.0 472.6h0M174.5 469.6h0M222.7 420.5h0M187.8 454.0h0M178.8 463.2h0M196.1 447.2h0M168.3 474.8h0M172.6 469.6h0M183.4 460.0h0M158.7 484.4h0M195.9 448.2h0M177.8 465.6h0M222.0 420.9h0M222.8 420.8h0M157.7 485.4h0M189.4 452.4h0M174.3 469.5h0M203.3 440.7h0M159.1 483.6h0M192.9 450.6h0M213.7 428.3h0M201.1 442.1h0M200.2 443.8h0M180.4 462.5h0M187.8 455.1h0M222.8 418.7h0M185.2 457.6h0M199.4 443.7h0M218.2 423.8h0M211.2 432.7h0M175.1 467.7h0M212.7 431.1h0M205.5 437.7h0M168.2 474.9h0M170.1 472.9h0M187.3 455.3h0M170.1 472.5h0M185.4 456.1h0M213.4 429.2h0M163.6 479.6h0M211.0 431.3h0M214.8 429.3h0M207.3 434.7h0M160.5 482.9h0M223.7 420.3h0M211.0 433.1h0M213.6 429.7h0M214.1 429.6h0M164.3 478.9h0M222.7 420.2h0M202.5 441.0h0M189.4 454.2h0M159.1 484.3h0M187.3 456.2h0M210.3 432.8h0M213.1 431.2h0M191.6 451.5h0M163.5 479.8h0M219.5 423.0h0M220.8 422.7h0M190.5 452.6h0M181.2 461.0h0M165.3 477.4h0M174.1 468.9h0M190.6 452.8h0M182.7 460.4h0M224.3 419.1h0M187.2 456.0h0M199.8 444.2h0M198.1 444.4h0M219.8 423.7h0M183.7 459.0h0M185.6 456.5h0M214.7 429.0h0M217.8 425.3h0M221.8 421.5h0M167.2 476.3h0M191.5 452.6h0M174.3 468.9h0M195.5 447.2h0M212.8 429.5h0M204.7 438.1h0M160.1 483.2h0M220.6 422.9h0M206.9 436.3h0M169.2 474.3h0M196.0 446.7h0M202.5 440.1h0M160.8 482.0h0M184.3 458.4h0M171.3 472.0h0M187.8 455.8h0M183.2 460.0h0M161.9 481.1h0M212.1 431.5h0M193.6 449.9h0M175.6 467.1h0M204.5 438.3h0M167.2 475.6h0M223.2 419.6h0M195.4 447.8h0M187.6 454.8h0M187.3 456.4h0M217.9 424.4h0M209.4 433.3h0M220.2 423.9h0M164.1 478.8h0M173.5 469.7h0M170.6 472.9h0M209.0 434.5h0M183.4 460.4h0M185.3 457.4h0M195.7 446.8h0M191.7 452.0h0M182.4 460.0h0M158.3 485.0h0M177.0 466.1h0M215.5 426.4h0M168.5 474.6h0M161.4 481.6h0M183.3 458.7h0M207.4 436.8h0M190.2 453.9h0M160.9 481.8h0M171.5 472.3h0M183.3 458.7h0M168.9 473.9h0M197.8 444.5h0M164.5 478.7h0M161.2 481.9h0M220.3 422.1h0M161.1 482.2h0M170.5 471.9h0M159.5 483.7h0M180.1 462.8h0M182.8 461.0h0M182.6 460.8h0M208.8 434.5h0M224.2 419.7h0M171.0 472.1h0M162.1 480.7h0M206.0 436.8h0M208.9 433.5h0M181.6 461.6h0M211.7 431.6h0M203.0 440.2h0M167.1 476.4h0M182.8 459.4h0M223.9 419.1h0M169.5 474.2h0M213.3 430.5h0M221.9 421.0h0M223.0 420.6h0M205.1 437.9h0M191.6 452.4h0M217.1 425.7h0M196.3 446.8h0M160.7 482.6h0M176.2 467.8h0M221.3 422.8h0M213.9 428.8h0M192.6 451.5h0M215.3 426.9h0M164.1 479.2h0M180.6 463.9h0M159.6 483.2h0M191.7 451.9h0M177.2 466.0h0M184.7 457.4h0M198.7 443.4h0M176.4 467.0h0M185.5 458.2h0M166.9 476.0h0M197.8 445.1h0M161.0 482.1h0M208.6 435.5h0M219.9 423.4h0M166.5 476.1h0M168.1 475.4h0M177.5 466.3h0M203.2 440.8h0M160.1 483.1h0M221.1 421.7h0M168.7 474.5h0M177.1 464.1h0M180.0 459.9h0M173.6 466.9h0M314.7 328.9h0M224.5 418.6h0M267.7 374.6h0M277.7 365.1h0M268.0 374.0h0M322.1 321.5h0M226.9 415.7h0M280.1 362.5h0M321.8 321.6h0M316.0 327.6h0M312.7 329.9h0M292.9 350.7h0M276.1 366.3h0M246.7 396.3h0M225.8 417.3h0M263.0 380.3h0M247.4 395.1h0M315.7 328.6h0M317.0 325.9h0M259.2 383.8h0M314.4 329.7h0M268.3 374.8h0M297.8 344.7h0M256.5 385.5h0M228.6 414.3h0M254.9 388.8h0M267.4 376.0h0M303.5 340.2h0M255.6 388.1h0M261.1 381.1h0M286.3 356.9h0M276.3 367.6h0M280.6 362.9h0M247.5 395.2h0M243.5 399.2h0M277.8 365.5h0M278.4 366.0h0M270.6 373.8h0M245.9 397.7h0M242.7 399.9h0M309.8 333.2h0M288.8 354.2h0M316.6 325.1h0M317.6 328.0h0M228.0 415.6h0M300.7 341.5h0M299.0 344.7h0M279.3 363.0h0M321.7 319.7h0M258.9 385.3h0M279.0 364.1h0M238.6 403.6h0M230.9 412.5h0M234.1 409.5h0M300.3 342.9h0M300.1 341.6h0M308.5 333.7h0M262.4 381.0h0M317.5 327.3h0M236.0 406.8h0M279.7 363.0h0M279.8 362.6h0M302.2 341.3h0M233.0 410.1h0M242.6 400.1h0M259.9 383.4h0M289.7 352.9h0M317.1 330.2h0M283.6 360.1h0M278.1 364.4h0M253.2 389.7h0M270.4 373.0h0M291.5 350.1h0M266.4 377.9h0M310.9 330.6h0M257.3 385.5h0M293.3 351.6h0M240.9 402.3h0M259.4 383.7h0M304.0 338.3h0M253.5 390.1h0M289.5 353.7h0M266.8 376.3h0M319.0 322.1h0M228.9 414.0h0M250.3 393.2h0M289.3 354.8h0M304.1 339.1h0M273.5 369.5h0M247.2 395.5h0M250.4 392.2h0M243.3 400.6h0M307.0 337.2h0M231.5 411.8h0M282.0 361.9h0M255.9 387.4h0M239.0 404.6h0M256.6 386.3h0M254.5 387.7h0M314.3 329.1h0M266.6 376.2h0M319.0 323.7h0M254.1 389.1h0M262.1 381.4h0M294.1 349.6h0M290.8 353.3h0M311.9 330.0h0M296.7 347.8h0M305.0 341.3h0M294.7 346.8h0M260.6 382.5h0M264.3 379.4h0M247.6 395.9h0M316.8 325.0h0M320.3 323.2h0M245.6 398.0h0M240.2 402.8h0M260.2 382.4h0M309.1 333.9h0M313.8 328.5h0M289.2 355.5h0M291.1 352.7h0M231.0 413.0h0M249.7 392.5h0M248.3 393.9h0M293.5 348.9h0M318.9 323.8h0M265.9 377.4h0M305.5 338.1h0M297.2 347.3h0M282.8 358.0h0M303.0 341.1h0M260.5 382.6h0M310.7 331.6h0M283.4 360.8h0M293.0 351.7h0M232.7 410.1h0M290.4 351.0h0M236.0 407.4h0M287.0 356.0h0M228.7 414.7h0M247.5 395.9h0M247.9 394.7h0M311.8 331.1h0M236.4 406.7h0M269.9 374.3h0M246.8 396.0h0M318.4 322.8h0M249.2 394.2h0M283.6 359.0h0M300.2 344.1h0M301.4 342.2h0M236.8 405.6h0M291.1 351.3h0M236.0 407.4h0M277.7 366.8h0M281.5 360.8h0M257.2 386.2h0M261.7 382.0h0M318.6 323.2h0M233.5 409.6h0M311.0 333.9h0M309.5 331.4h0M316.1 327.3h0M311.7 333.1h0M291.6 353.2h0M255.1 387.4h0M304.4 341.4h0M290.8 353.2h0M232.0 411.4h0M240.3 402.3h0M264.9 378.7h0M284.3 359.6h0M319.4 326.8h0M224.5 419.0h0M250.5 391.6h0M249.2 393.3h0M290.2 351.4h0M232.6 410.4h0M315.9 329.1h0M304.2 339.5h0M282.7 360.6h0M258.2 385.1h0M252.4 390.4h0M263.0 380.8h0M306.1 337.5h0M283.5 356.8h0M307.8 336.2h0M310.9 332.8h0M270.0 374.2h0M284.3 358.3h0M245.4 398.0h0M315.8 330.0h0M314.4 332.2h0M296.4 344.8h0M268.9 374.5h0M290.1 354.6h0M264.4 378.4h0M232.6 410.5h0M282.2 360.1h0M266.5 377.0h0M312.8 329.2h0M259.3 383.8h0M252.5 390.9h0M256.3 386.5h0M269.2 374.1h0M276.8 365.8h0M234.3 408.7h0M240.4 403.3h0M317.0 324.4h0M255.2 389.3h0M302.4 340.5h0M252.6 389.6h0M258.2 386.4h0M231.1 411.3h0M318.1 326.0h0M243.0 400.0h0M315.7 327.1h0M318.6 322.9h0M291.0 352.8h0M301.1 342.5h0M246.2 396.5h0M250.7 392.3h0M274.5 368.1h0M225.6 417.8h0M239.2 403.4h0M302.7 341.3h0M294.9 348.3h0M276.2 367.8h0M241.1 401.7h0M291.8 350.6h0M310.9 332.6h0M309.5 334.2h0M255.7 387.8h0M270.1 372.6h0M239.2 403.4h0M250.3 392.4h0M296.2 348.7h0M315.6 323.1h0M270.9 372.0h0M261.2 381.9h0M276.7 368.4h0M303.2 340.7h0M303.7 342.2h0M241.6 402.3h0M267.6 376.3h0M226.5 416.7h0M291.8 352.1h0M302.3 338.0h0M264.0 379.4h0M258.7 385.0h0M301.6 340.6h0M258.7 383.9h0M254.0 389.7h0M287.5 354.7h0M289.2 354.8h0M321.8 321.6h0M249.6 393.4h0M290.2 352.8h0M241.2 402.2h0M293.2 351.1h0M287.9 355.2h0M296.2 345.6h0M299.2 342.8h0M257.2 385.6h0M248.3 395.4h0M269.4 374.4h0M262.9 381.3h0M303.2 338.1h0M304.1 337.3h0M230.3 412.5h0M277.5 366.4h0M279.4 363.3h0M271.7 372.3h0M234.2 408.5h0M254.0 389.6h0M316.1 326.0h0M252.7 391.7h0M301.8 340.7h0M306.0 336.5h0M225.5 417.4h0M259.8 382.4h0M283.6 360.5h0M237.6 406.0h0M277.1 365.3h0M249.2 394.0h0M288.5 355.4h0M224.9 417.7h0M310.0 331.0h0M260.5 383.8h0M260.8 383.0h0M309.2 333.5h0M240.7 403.2h0M259.1 383.8h0M262.0 380.6h0M300.7 340.9h0M237.0 406.6h0M298.9 344.2h0M255.5 387.5h0M307.1 335.6h0M260.5 383.1h0M293.5 348.2h0M308.6 333.1h0M232.9 409.8h0M315.8 330.0h0M237.8 405.3h0M281.8 364.5h0M308.5 336.6h0M285.5 354.9h0M239.0 404.3h0M267.5 376.0h0M233.0 410.2h0M301.2 346.0h0M245.3 397.8h0M318.3 323.4h0M251.9 390.8h0M306.6 336.3h0M313.4 326.9h0M282.5 362.0h0M278.8 363.9h0M243.5 399.7h0M240.9 403.1h0M284.1 358.9h0M304.2 340.2h0M321.3 322.5h0M275.1 368.0h0M316.5 327.1h0M303.3 339.9h0M312.4 331.8h0M259.9 382.9h0M245.2 397.4h0M262.9 379.7h0M314.9 329.3h0M260.2 383.1h0M308.5 334.3h0M302.0 342.4h0M242.0 401.8h0M295.6 347.6h0M314.9 331.6h0M297.7 346.4h0M240.0 403.5h0M316.0 328.2h0M273.8 368.6h0M269.9 373.7h0M245.7 396.3h0M255.5 387.7h0M293.0 353.1h0M287.5 353.9h0M300.8 342.7h0M302.5 340.8h0M285.3 357.3h0M236.1 407.5h0M253.8 389.0h0M265.2 377.1h0M313.0 329.0h0M253.7 385.1h0M305.8 337.2h0M310.5 332.1h0M295.4 348.6h0M305.2 337.6h0M276.7 367.9h0M286.7 357.6h0M279.5 363.2h0M294.4 349.0h0M287.0 355.4h0M295.0 349.1h0M268.1 374.2h0M233.1 410.2h0M251.0 392.4h0M261.9 380.0h0M283.0 359.7h0M288.4 354.1h0M225.4 416.8h0M255.1 387.7h0M273.2 370.3h0M301.1 342.5h0M319.2 325.0h0M288.7 353.4h0M242.7 400.2h0M304.3 340.2h0M242.8 399.9h0M307.2 332.6h0M269.1 375.3h0M248.0 395.1h0M246.1 396.0h0M303.7 340.2h0M317.0 328.6h0M264.1 379.0h0M232.1 410.4h0M297.4 346.5h0M266.5 376.3h0M299.6 345.4h0M233.6 410.4h0M240.6 402.5h0M272.2 371.1h0M276.6 368.2h0M252.3 391.4h0M234.6 408.3h0M288.1 353.2h0M228.5 414.7h0M252.9 390.3h0M321.8 321.9h0M272.4 370.7h0M242.3 401.4h0M319.9 326.2h0M259.3 384.6h0M256.4 386.0h0M229.1 414.3h0M269.9 371.8h0M280.7 363.2h0M300.9 342.6h0M287.7 354.6h0M268.7 372.9h0M269.4 374.5h0M247.0 396.8h0M271.2 371.9h0M233.9 409.7h0M252.3 391.7h0M285.1 358.8h0M235.7 408.3h0M234.9 408.1h0M246.7 396.4h0M277.8 365.9h0M233.5 409.8h0M260.1 382.4h0M298.3 345.1h0M301.2 343.3h0M279.9 362.9h0M281.2 361.7h0M294.8 347.0h0M316.1 326.7h0M312.1 328.4h0M265.7 377.0h0M230.8 412.3h0M230.6 412.2h0M303.7 340.8h0M263.1 383.8h0M312.0 331.3h0M261.4 382.1h0M228.3 414.1h0M297.4 345.2h0M296.8 345.0h0M260.4 383.4h0M240.1 403.5h0M235.5 406.9h0M276.5 365.4h0M230.5 412.4h0M310.8 333.9h0M269.4 374.2h0M322.2 322.5h0M263.4 379.6h0M311.1 331.8h0M282.4 360.9h0M262.3 381.2h0M237.7 405.8h0M259.4 384.1h0M266.8 376.5h0M305.7 338.8h0M287.6 355.2h0M260.3 382.8h0M308.0 334.6h0M320.8 319.9h0M229.7 413.5h0M261.0 381.9h0M317.9 321.2h0M272.0 370.8h0M279.8 363.1h0M230.8 412.2h0M319.3 329.5h0M298.6 345.6h0M257.8 384.9h0M318.8 326.9h0M251.2 391.6h0M276.7 366.7h0M250.6 392.3h0M252.5 390.6h0M224.5 418.7h0M280.4 362.7h0M289.4 346.3h0M250.7 392.2h0M272.9 369.3h0M300.4 342.7h0M235.5 407.9h0M316.1 326.8h0M303.1 344.5h0M228.1 415.0h0M230.4 413.3h0M307.6 332.0h0M273.6 371.0h0M316.1 328.8h0M300.3 346.1h0M303.8 339.6h0M271.0 371.6h0M312.3 332.2h0M236.2 406.8h0M225.5 417.3h0M231.3 412.0h0M313.0 330.7h0M230.6 412.1h0M237.3 405.1h0M304.0 339.1h0M284.0 359.0h0M292.3 352.7h0M315.3 324.5h0M246.5 397.4h0M270.4 371.0h0M307.2 338.7h0M284.8 359.7h0M310.1 333.5h0M259.4 383.8h0M258.1 385.8h0M242.6 400.8h0M283.0 360.4h0M284.5 358.3h0M250.1 393.4h0M268.0 374.2h0M286.1 355.9h0M265.3 377.1h0M285.9 356.8h0M287.6 354.9h0M253.3 389.8h0M256.0 387.1h0M321.7 320.7h0M310.0 330.9h0M249.3 393.4h0M285.3 357.1h0M280.1 364.1h0M225.2 417.4h0M312.2 329.0h0M301.3 339.2h0M262.3 380.4h0M288.1 355.3h0M320.0 320.9h0M255.0 388.3h0M266.5 377.0h0M303.1 343.2h0M316.1 330.6h0M306.1 335.6h0M234.5 408.3h0M242.6 399.6h0M273.5 368.8h0M264.7 377.2h0M314.8 323.8h0M308.8 334.9h0M283.5 360.6h0M279.0 363.9h0M321.3 322.4h0M314.0 330.1h0M260.6 382.8h0M300.5 343.8h0M248.1 395.3h0M226.6 416.9h0M287.1 354.6h0M231.0 412.1h0M249.7 393.6h0M250.6 391.5h0M271.2 370.7h0M252.9 390.4h0M272.6 371.0h0M284.9 356.9h0M243.7 399.8h0M293.0 349.4h0M251.3 391.7h0M255.8 386.3h0M266.9 377.1h0M231.0 412.7h0M292.0 351.0h0M312.1 329.3h0M248.8 394.2h0M278.3 364.8h0M235.5 407.4h0M257.8 385.2h0M267.9 375.0h0M256.2 386.8h0M275.7 367.5h0M245.2 397.8h0M308.1 333.9h0M302.5 340.3h0M302.8 341.0h0M256.1 387.0h0M302.1 340.9h0M232.7 406.7h0M297.3 348.1h0M302.5 343.1h0M301.6 340.0h0M301.3 342.2h0M271.1 372.3h0M277.4 367.0h0M228.5 413.9h0M284.3 358.8h0M304.5 338.1h0M236.6 406.4h0M240.3 403.2h0M322.2 321.4h0M257.0 386.7h0M265.9 376.7h0M232.6 410.0h0M272.7 370.2h0M227.4 415.8h0M320.2 326.8h0M243.4 399.6h0M273.8 370.6h0M285.8 356.2h0M249.8 393.0h0M230.0 412.9h0M312.2 332.1h0M248.9 394.5h0M313.8 331.1h0M277.1 366.6h0M247.4 396.2h0M317.5 329.2h0M244.2 399.1h0M287.3 357.4h0M280.8 362.6h0M322.0 321.0h0M299.3 345.0h0M308.0 333.1h0M272.9 370.6h0M229.0 413.9h0M262.7 380.3h0M314.3 328.4h0M287.4 355.3h0M251.3 392.0h0M240.0 403.4h0M316.0 329.2h0M234.5 408.8h0M245.4 398.1h0M316.1 328.2h0M233.8 408.9h0M321.5 320.7h0M265.6 378.2h0M317.8 324.9h0M293.3 350.0h0M268.1 374.9h0M230.0 412.3h0M291.4 351.5h0M231.5 412.1h0M252.7 390.1h0M254.5 389.1h0M304.5 337.6h0M274.7 369.9h0M239.5 403.3h0M284.2 357.0h0M267.0 375.7h0M262.9 380.3h0M308.5 340.0h0M271.8 370.3h0M307.8 336.3h0M310.1 331.3h0M298.2 345.2h0M233.2 409.7h0M278.0 364.7h0M232.4 411.1h0M283.3 361.9h0M293.1 350.0h0M277.1 366.1h0M314.7 328.8h0M263.3 379.7h0M314.8 328.5h0M261.8 381.9h0M293.0 349.1h0M230.9 413.1h0M287.5 353.0h0M305.6 334.6h0M287.2 353.8h0M235.1 408.2h0M238.2 404.3h0M264.4 378.8h0M261.2 382.5h0M306.5 335.0h0M305.5 336.6h0M306.2 337.1h0M294.3 348.8h0M267.9 376.5h0M263.4 379.2h0M251.6 392.0h0M224.9 418.3h0M313.4 330.2h0M244.7 398.5h0M322.0 322.3h0M301.2 343.9h0M316.5 328.9h0M286.1 357.8h0M290.8 353.0h0M231.3 412.1h0M294.9 346.8h0M290.4 352.0h0M321.6 321.5h0M290.4 353.5h0M237.9 405.1h0M242.0 401.8h0M269.3 374.2h0M255.3 386.8h0M318.9 323.2h0M245.2 397.7h0M266.6 376.6h0M249.2 393.2h0M246.6 396.4h0M239.1 404.2h0M232.2 410.8h0M281.5 353.6h0M321.1 322.4h0M323.6 318.4h0M323.5 320.1h0M323.7 316.9h0M323.6 319.0h0M324.0 319.7h0M322.3 319.4h0M322.2 316.0h0M324.1 318.5h0M323.7 316.6h0M321.2 321.5h0M323.9 319.7h0M326.9 313.8h0M328.7 315.8h0M326.6 317.8h0M327.4 315.6h0M325.8 317.3h0M326.8 314.3h0M328.5 316.0h0M329.7 314.2h0M329.2 314.1h0M330.1 314.7h0M331.2 314.2h0M329.9 315.1h0M329.9 312.4h0M328.6 316.8h0M328.9 313.1h0M330.6 315.1h0M328.3 313.7h0M335.1 304.9h0M333.7 307.7h0M334.9 309.6h0M337.0 305.0h0M338.9 302.6h0M338.3 303.9h0M337.6 303.4h0M337.1 303.5h0M339.3 302.5h0M341.3 300.0h0M339.4 304.6h0M340.7 303.0h0M339.9 302.5h0M342.0 299.1h0M341.8 302.2h0M343.4 298.6h0M344.3 297.0h0M344.5 303.7h0M341.9 297.9h0M344.0 299.9h0M345.6 297.2h0M344.7 298.9h0M342.7 298.1h0M346.6 299.4h0M344.9 300.3h0M344.9 298.2h0M347.0 295.4h0M347.7 296.4h0M348.1 293.4h0M347.0 297.6h0M349.3 298.3h0M348.5 296.5h0M346.4 296.7h0M347.1 296.0h0M346.3 297.6h0M349.1 297.2h0M352.2 291.7h0M349.9 294.2h0M349.2 295.8h0M349.4 295.0h0M349.0 290.6h0M351.2 293.6h0M349.9 296.2h0M352.7 292.7h0M348.9 296.1h0M352.0 292.9h0M355.2 286.5h0M355.7 290.2h0M355.0 288.1h0M354.1 288.7h0M355.3 287.8h0M354.4 288.0h0M353.7 290.5h0M356.9 284.9h0M357.6 287.1h0M354.9 290.4h0M357.9 283.2h0M359.7 286.5h0M359.5 282.8h0M358.2 285.4h0M357.3 287.2h0M357.3 284.4h0M357.6 286.5h0M360.3 284.3h0M359.4 286.5h0M363.7 276.5h0M364.1 277.4h0M360.1 281.9h0M363.6 279.5h0M360.1 279.8h0M359.9 283.3h0M362.9 280.0h0M364.3 277.5h0M363.8 279.2h0M364.1 279.5h0M364.8 276.6h0M365.1 278.8h0M362.5 279.5h0M363.0 281.2h0M364.0 279.7h0M364.5 279.8h0M364.1 277.2h0M364.8 277.7h0M363.2 282.2h0M364.8 279.0h0M366.0 279.9h0M366.0 277.6h0M366.9 278.2h0M367.1 276.6h0M366.6 277.9h0M364.0 281.5h0M365.8 277.8h0M366.1 277.2h0M368.0 271.1h0M367.5 274.5h0M369.0 275.8h0M367.1 279.5h0M366.6 278.5h0M369.4 274.2h0M368.6 274.6h0M369.6 273.9h0M367.9 275.4h0M370.4 272.1h0M371.3 272.9h0M371.6 271.9h0M367.7 274.7h0M369.4 271.0h0M369.8 277.1h0M374.9 268.8h0M373.1 271.3h0M373.8 272.9h0M372.5 270.6h0M372.7 268.7h0M373.7 270.1h0M373.9 269.7h0M375.2 268.4h0M373.7 265.5h0M375.9 269.5h0M376.4 264.7h0M380.2 262.0h0M377.3 265.7h0M376.3 268.1h0M382.3 261.8h0M379.6 261.6h0M379.3 265.0h0M381.9 263.0h0M381.3 260.5h0M380.8 259.7h0M382.1 261.6h0M379.5 262.3h0M379.7 265.4h0M382.7 258.9h0M383.2 260.8h0M380.0 261.4h0M380.1 263.6h0M379.1 263.2h0M382.2 265.3h0M385.0 260.6h0M386.1 257.7h0M385.1 257.2h0M386.0 262.0h0M384.6 258.0h0M386.0 256.6h0M384.0 258.0h0M388.8 255.9h0M389.4 251.5h0M387.0 255.1h0M387.3 257.0h0M386.4 255.8h0M387.2 261.5h0M388.8 255.6h0M387.3 258.8h0M390.9 253.8h0M389.0 254.1h0M390.3 249.6h0M392.7 249.4h0M390.4 254.1h0M392.0 252.3h0M391.7 249.8h0M394.1 248.4h0M394.8 251.5h0M394.6 250.6h0M394.3 249.1h0M395.8 248.6h0M395.4 251.2h0M394.2 251.7h0M396.8 245.4h0M395.8 249.3h0M395.7 247.1h0M397.9 246.8h0M397.4 245.3h0M395.8 247.6h0M395.7 247.6h0M395.8 246.1h0M397.9 244.4h0M396.0 249.1h0M396.7 245.5h0M398.0 243.8h0M395.9 245.3h0M395.9 247.1h0M397.7 246.3h0M398.9 245.0h0M397.6 242.6h0M401.9 238.8h0M404.8 235.8h0M402.6 239.1h0M401.3 239.9h0M403.0 238.5h0M401.6 241.7h0M404.7 236.1h0M402.7 243.2h0M403.1 239.7h0M404.2 241.2h0M405.1 239.5h0M404.0 241.0h0M406.1 235.9h0M402.7 237.7h0M404.9 239.8h0M404.5 239.2h0M406.0 236.5h0M407.2 238.0h0M409.4 235.9h0M406.7 236.1h0M406.6 234.3h0M406.6 237.0h0M409.1 232.4h0M408.5 238.5h0M410.0 231.9h0M406.8 236.8h0M409.3 234.5h0M413.2 230.0h0M410.7 231.5h0M411.8 233.3h0M411.3 232.3h0M416.8 225.6h0M414.5 228.0h0M416.6 228.1h0M416.8 224.1h0M414.8 227.7h0M416.8 225.0h0M418.8 222.6h0M414.5 230.7h0M416.3 229.5h0M417.3 225.5h0M414.4 225.0h0M416.4 223.0h0M417.1 221.8h0M417.4 226.5h0M417.1 227.1h0M414.9 225.8h0M419.0 225.7h0M418.5 222.7h0M420.3 222.0h0M418.8 230.9h0M418.6 225.3h0M420.7 219.2h0M421.2 222.0h0M422.1 220.5h0M421.0 223.1h0M423.5 216.8h0M421.5 221.0h0M422.9 220.2h0M422.7 220.0h0M423.5 222.3h0M424.4 220.0h0M421.2 218.9h0M426.7 221.5h0M425.8 221.1h0M425.8 216.0h0M427.6 221.0h0M427.6 217.3h0M425.7 218.2h0M428.8 212.2h0M427.9 220.2h0M430.5 215.0h0M429.2 216.9h0M429.9 215.9h0M429.9 212.6h0M428.4 218.8h0M427.7 213.6h0M432.6 212.1h0M431.5 213.7h0M433.5 209.6h0M433.5 208.1h0M431.6 211.5h0M432.0 209.9h0M431.6 210.8h0M434.1 215.0h0M434.9 209.4h0M434.6 211.3h0M436.1 207.4h0M435.8 208.3h0M436.1 208.8h0M435.9 210.4h0M434.2 210.3h0M438.7 206.8h0M441.0 202.8h0M439.7 207.2h0M442.2 201.6h0M440.5 202.0h0M440.8 200.8h0M438.0 207.7h0M442.2 203.4h0M445.0 204.7h0M444.8 198.6h0M442.5 204.3h0M442.6 202.4h0M443.2 198.8h0M446.7 202.0h0M445.6 199.1h0M446.7 199.6h0M445.1 205.1h0M445.0 202.9h0M446.5 198.8h0M445.6 198.5h0M448.9 194.8h0M450.6 194.0h0M448.0 198.4h0M449.2 196.7h0M451.6 195.8h0M451.9 195.9h0M451.7 196.8h0M451.9 195.2h0M450.9 195.5h0M450.3 198.6h0M450.6 192.8h0M451.4 191.6h0M454.1 192.0h0M453.8 192.8h0M454.8 189.7h0M453.5 189.7h0M454.2 187.9h0M454.1 197.7h0M453.8 193.8h0M457.1 190.0h0M457.6 190.0h0M457.1 181.6h0M456.4 188.3h0M454.8 192.7h0M453.0 197.6h0M455.0 191.5h0M456.4 192.6h0M456.7 186.8h0M458.9 183.5h0M459.6 188.5h0M458.4 188.6h0M458.7 185.0h0M459.1 187.9h0M460.4 187.4h0M460.1 184.7h0M462.3 184.4h0M463.1 181.0h0M464.0 180.9h0M463.0 184.1h0M464.6 178.3h0M463.6 186.6h0M467.1 181.8h0M466.2 179.2h0M466.0 180.4h0M467.3 176.4h0M469.1 174.2h0M468.6 177.2h0M468.8 176.5h0M466.8 182.9h0M467.5 180.0h0M468.8 180.3h0M468.4 179.5h0M469.9 176.9h0M466.2 179.7h0M469.8 177.3h0M467.6 178.4h0M474.4 174.8h0M472.3 173.4h0M471.9 172.4h0M476.3 175.6h0M477.4 173.9h0M476.6 175.2h0M474.5 172.3h0M477.4 173.2h0M477.4 169.7h0M476.5 168.9h0M476.1 172.7h0M475.9 171.4h0M475.4 171.5h0M477.6 166.9h0M478.3 168.6h0M477.9 166.3h0M478.9 166.1h0M480.7 165.9h0M480.1 178.4h0M478.7 168.7h0M482.0 163.0h0M483.4 162.6h0M482.6 166.5h0M481.7 169.9h0M484.0 161.8h0M483.8 167.5h0M483.6 164.2h0M503.4 146.9h0M502.2 147.5h0M500.3 149.4h0M499.1 151.2h0M496.6 152.5h0M493.5 154.9h0M491.0 157.4h0M489.8 159.9h0M485.5 161.1h0M483.6 164.2h0M481.1 167.9h0M479.3 169.8h0M477.4 171.0h0M484.8 166.1h0M482.4 162.4h0M504.9 145.8h0M505.9 150.6h0M501.3 148.7h0M497.9 151.8h0M494.8 153.7h0M492.0 165.8h0M487.9 163.6h0M486.7 168.5h0M467.0 187.7h0M456.9 194.5h0M437.7 211.9h0M427.2 221.2h0"/>
<path class="te" d="M190.0 453.0h0M198.6 445.2h0M214.6 428.4h0M178.9 464.1h0M193.4 449.7h0M173.7 469.4h0M211.7 430.8h0M220.9 422.4h0M171.9 470.7h0M194.1 449.2h0M210.7 432.2h0M185.5 457.4h0M205.3 437.7h0M178.4 465.1h0M187.9 455.2h0M175.0 467.9h0M158.6 484.1h0M202.6 440.7h0M190.1 452.5h0M179.5 463.9h0M206.7 435.9h0M206.1 436.2h0M172.6 470.5h0M170.0 472.7h0M160.6 482.4h0M183.4 459.6h0M179.6 463.7h0M192.9 449.6h0M223.2 419.6h0M203.1 440.0h0M159.0 484.1h0M200.3 442.4h0M160.5 482.2h0M187.6 455.6h0M178.9 463.1h0M169.0 473.7h0M173.4 469.7h0M223.6 418.8h0M208.8 434.6h0M178.5 464.8h0M172.0 470.7h0M162.6 480.1h0M187.2 456.0h0M196.5 447.5h0M206.7 436.1h0M184.8 458.1h0M220.2 422.1h0M181.8 461.3h0M219.2 423.8h0M214.4 428.7h0M210.8 432.8h0M195.3 448.1h0M209.8 433.6h0M195.4 447.5h0M199.0 443.6h0M194.2 448.6h0M164.8 478.2h0M204.5 438.3h0M164.8 478.4h0M185.7 457.2h0M159.0 484.1h0M206.8 437.0h0M209.4 433.6h0M197.6 445.5h0M184.3 458.6h0M196.9 446.7h0M163.5 480.1h0M170.1 472.8h0M162.1 481.3h0M202.2 440.8h0M159.3 483.3h0M160.4 482.7h0M174.7 468.2h0M165.4 477.4h0M221.5 421.4h0M174.0 469.6h0M175.9 466.6h0M183.3 459.6h0M192.1 450.6h0M200.0 441.9h0M167.1 475.7h0M194.0 449.0h0M168.7 474.3h0M198.6 443.9h0M185.6 457.3h0M167.4 475.6h0M219.8 423.4h0M173.1 469.7h0M223.7 418.4h0M175.9 467.5h0M201.8 442.0h0M175.4 467.7h0M172.9 470.3h0M211.5 431.8h0M187.1 456.3h0M168.2 474.7h0M214.1 428.7h0M191.1 451.2h0M219.9 423.4h0M197.2 445.4h0M177.1 466.3h0M177.3 465.2h0M159.0 483.7h0M161.1 481.4h0M179.8 462.5h0M166.1 477.2h0M174.1 468.8h0M190.2 452.5h0M221.6 421.5h0M185.7 457.6h0M173.0 469.6h0M195.2 447.7h0M201.4 441.6h0M210.4 432.1h0M212.2 430.8h0M196.4 446.3h0M189.2 453.5h0M161.0 481.7h0M217.7 425.2h0M200.0 444.1h0M222.8 419.9h0M215.0 428.7h0M205.5 437.4h0M181.8 461.4h0M209.3 434.5h0M182.0 460.8h0M165.5 476.9h0M164.8 478.1h0M204.3 438.9h0M200.2 443.2h0M180.8 463.0h0M169.0 474.0h0M222.2 421.2h0M178.2 464.8h0M184.9 458.1h0M197.6 445.4h0M184.1 458.6h0M215.7 427.2h0M164.2 478.5h0M193.9 449.0h0M213.6 430.2h0M187.7 455.1h0M159.1 484.0h0M187.2 455.6h0M195.5 447.1h0M215.8 426.6h0M181.2 461.5h0M178.1 465.1h0M178.5 464.1h0M203.9 439.1h0M224.1 417.7h0M178.5 464.6h0M164.0 479.3h0M195.3 447.6h0M198.8 444.1h0M221.1 422.4h0M199.0 444.3h0M208.7 434.1h0M206.0 437.8h0M187.5 455.4h0M189.6 453.6h0M166.8 476.3h0M216.9 425.9h0M203.1 440.2h0M157.5 485.3h0M215.6 427.8h0M196.5 446.4h0M185.0 458.0h0M185.2 457.5h0M200.4 442.5h0M178.5 464.5h0M179.1 463.9h0M195.1 447.9h0M193.3 449.9h0M208.5 434.3h0M193.5 449.0h0M212.5 431.0h0M177.5 465.4h0M190.0 452.7h0M169.0 474.0h0M192.4 450.5h0M206.1 436.1h0M203.6 438.7h0M189.2 454.1h0M177.4 465.4h0M206.6 436.7h0M186.3 456.4h0M191.9 451.6h0M204.5 438.1h0M180.8 462.8h0M188.2 455.9h0M161.1 481.7h0M167.5 475.4h0M176.1 466.9h0M201.0 441.6h0M188.1 454.7h0M185.9 457.0h0M201.4 441.4h0M196.3 446.8h0M191.6 452.0h0M218.6 423.5h0M161.4 481.6h0M220.4 422.7h0M220.2 422.0h0M198.6 444.6h0M210.7 432.0h0M181.5 461.5h0M168.7 474.4h0M166.2 476.7h0M204.2 439.1h0M193.1 449.7h0M209.5 432.6h0M193.8 449.6h0M192.3 450.5h0M207.5 436.4h0M202.2 440.8h0M203.6 439.3h0M204.6 438.0h0M190.3 452.5h0M191.4 451.8h0M199.1 443.6h0M196.3 446.3h0M200.6 442.5h0M163.6 479.6h0M185.5 457.4h0M194.2 448.8h0M195.3 447.7h0M210.3 432.6h0M173.7 469.0h0M217.4 425.4h0M161.5 481.5h0M215.7 426.8h0M210.1 432.7h0M198.1 444.4h0M171.8 471.1h0M209.4 434.2h0M195.8 447.6h0M176.7 466.7h0M193.2 449.4h0M160.1 483.3h0M183.7 458.8h0M218.9 423.9h0M161.2 482.0h0M201.9 440.7h0M159.9 482.9h0M173.4 469.7h0M192.2 450.9h0M194.6 448.2h0M170.4 472.9h0M177.8 465.3h0M169.4 473.4h0M174.6 468.6h0M202.7 440.8h0M192.4 451.1h0M157.6 485.7h0M218.8 424.5h0M195.4 447.5h0M204.9 438.4h0M165.4 477.6h0M196.9 446.1h0M179.9 462.6h0M177.6 466.1h0M184.0 459.0h0M173.2 469.1h0M209.5 433.0h0M194.0 449.4h0M171.1 471.9h0M176.8 465.8h0M192.3 450.6h0M193.8 449.1h0M197.7 444.7h0M175.4 467.2h0M212.9 429.8h0M206.2 437.0h0M181.5 461.4h0M204.7 438.6h0M203.9 439.7h0M176.4 466.9h0M179.9 463.4h0M220.2 423.5h0M175.8 467.5h0M173.2 470.2h0M203.7 438.8h0M162.7 480.2h0M158.8 484.3h0M182.7 460.3h0M216.4 425.9h0M198.1 445.1h0M224.1 418.3h0M184.6 458.2h0M180.5 462.6h0M215.2 427.9h0M171.3 471.5h0M222.9 419.8h0M188.4 454.7h0M205.3 438.6h0M199.2 443.7h0M222.5 419.7h0M172.2 470.6h0M160.7 482.5h0M211.9 431.2h0M217.3 425.3h0M222.6 420.7h0M185.6 457.4h0M198.2 444.2h0M160.6 482.9h0M205.7 437.1h0M184.8 458.0h0M214.9 427.7h0M211.6 431.6h0M220.3 422.2h0M196.5 446.2h0M214.2 429.4h0M188.9 454.3h0M159.0 483.9h0M195.6 447.4h0M202.9 440.4h0M194.5 448.5h0M169.8 472.9h0M218.2 424.7h0M171.6 471.5h0M201.6 441.6h0M171.8 470.6h0M166.3 477.0h0M168.1 474.8h0M178.2 465.1h0M185.7 457.4h0M194.2 448.4h0M215.0 427.8h0M207.8 434.9h0M182.2 460.7h0M182.1 460.0h0M193.2 449.3h0M189.2 452.6h0M183.7 458.8h0M178.2 465.3h0M160.1 482.9h0M187.4 456.4h0M178.5 464.7h0M189.3 453.9h0M218.9 424.2h0M219.6 423.1h0M211.9 430.8h0M165.3 477.5h0M188.5 455.1h0M205.8 438.0h0M171.7 471.2h0M197.4 445.0h0M174.2 468.6h0M223.1 420.6h0M163.0 479.6h0M203.4 439.5h0M194.3 449.3h0M178.9 464.1h0M161.6 481.4h0M182.2 461.3h0M180.9 462.6h0M195.3 447.1h0M205.0 438.6h0M166.0 477.2h0M215.8 428.1h0M195.5 447.5h0M195.5 446.8h0M212.7 430.7h0M196.7 445.9h0M201.7 441.4h0M208.4 435.0h0M178.8 464.2h0M187.5 456.1h0M194.5 449.1h0M171.1 471.6h0M166.7 476.1h0M213.6 429.6h0M219.2 424.8h0M175.0 468.1h0M175.8 467.7h0M179.6 463.2h0M191.5 451.6h0M194.1 449.0h0M205.4 437.6h0M204.7 438.7h0M171.6 471.3h0M210.4 432.5h0M172.7 470.5h0M210.2 432.8h0M188.5 454.8h0M209.2 433.7h0M193.1 450.1h0M168.6 474.6h0M213.4 429.4h0M198.9 443.8h0M208.7 434.0h0M199.5 443.0h0M178.7 464.9h0M165.4 477.1h0M218.8 423.7h0M218.2 425.0h0M161.8 480.9h0M172.4 470.2h0M185.4 457.0h0M168.2 474.6h0M178.5 464.2h0M183.9 459.4h0M167.1 475.4h0M222.1 421.1h0M197.7 445.4h0M219.1 424.2h0M160.4 483.1h0M212.4 430.2h0M163.5 479.3h0M222.7 420.7h0M172.9 470.0h0M192.4 451.1h0M208.9 434.2h0M220.2 422.6h0M168.7 474.3h0M192.1 451.2h0M211.9 431.0h0M180.1 462.3h0M221.8 420.8h0M176.1 466.7h0M208.4 433.8h0M184.4 458.5h0M179.1 463.3h0M196.5 445.8h0M158.4 484.5h0M184.5 458.5h0M185.9 457.0h0M215.7 427.6h0M177.0 465.7h0M214.9 427.3h0M170.0 472.7h0M177.9 465.3h0M218.5 424.3h0M185.0 457.8h0M223.3 420.1h0M165.9 477.1h0M214.2 428.6h0M207.6 435.9h0M196.9 446.0h0M180.4 462.9h0M209.4 434.5h0M166.9 475.8h0M170.8 471.9h0M168.1 475.1h0M158.2 484.7h0M200.9 441.6h0M173.7 469.0h0M160.3 482.7h0M162.2 480.4h0M212.0 431.3h0M193.1 449.7h0M179.6 463.3h0M157.8 485.5h0M206.5 436.9h0M168.6 474.0h0M159.8 483.1h0M221.9 420.1h0M221.1 421.8h0M173.3 469.7h0M181.6 461.6h0M189.3 454.5h0M162.4 480.5h0M176.3 467.0h0M211.5 431.7h0M210.3 432.8h0M169.6 473.8h0M182.9 459.7h0M188.2 455.8h0M172.2 471.1h0M212.0 430.6h0M191.7 451.0h0M165.5 477.2h0M180.7 462.5h0M166.8 476.5h0M157.9 485.0h0M173.0 469.8h0M186.9 456.4h0M177.2 465.3h0M211.8 430.4h0M159.8 482.6h0M161.7 481.4h0M194.2 449.0h0M212.5 430.8h0M204.0 438.7h0M171.1 471.9h0M160.6 482.6h0M189.3 453.9h0M180.7 461.5h0M197.1 446.4h0M165.3 477.4h0M163.3 479.6h0M193.8 449.5h0M174.7 467.6h0M199.7 443.9h0M220.4 423.0h0M196.4 446.6h0M216.4 426.5h0M162.7 480.3h0M223.9 418.5h0M165.5 477.5h0M198.3 444.6h0M161.9 480.8h0M177.3 465.9h0M174.4 468.5h0M180.7 462.7h0M212.2 430.9h0M187.4 456.2h0M191.9 451.2h0M192.9 449.8h0M174.4 468.1h0M214.3 430.9h0M193.9 448.4h0M194.1 448.5h0M210.9 432.5h0M167.2 476.2h0M218.0 424.6h0M191.5 450.9h0M199.8 443.6h0M161.8 481.4h0M220.0 422.6h0M181.4 461.8h0M223.2 419.5h0M182.8 459.9h0M217.7 426.2h0M214.2 428.7h0M174.1 469.4h0M185.7 456.7h0M193.0 450.1h0M212.8 430.5h0M197.5 445.6h0M202.5 440.1h0M172.7 469.8h0M212.7 430.5h0M184.4 459.1h0M224.3 419.3h0M192.0 451.4h0M169.8 473.0h0M197.5 445.6h0M165.0 478.0h0M188.7 454.0h0M192.1 450.7h0M159.9 483.0h0M177.5 465.6h0M206.2 437.3h0M212.8 430.5h0M176.1 466.7h0M195.2 448.1h0M182.3 460.2h0M184.1 458.4h0M176.6 466.6h0M179.7 463.0h0M209.9 432.9h0M181.1 462.0h0M219.1 424.0h0M204.3 438.6h0M159.3 483.6h0M159.0 483.8h0M158.0 485.1h0M195.5 447.3h0M170.4 472.5h0M169.7 472.9h0M182.3 460.9h0M164.4 478.3h0M167.1 476.2h0M183.8 459.4h0M158.5 484.4h0M182.2 460.7h0M170.4 472.6h0M193.0 449.9h0M166.3 476.5h0M191.5 450.0h0M180.3 462.6h0M207.0 435.6h0M200.3 442.7h0M164.0 478.8h0M215.9 427.5h0M193.0 449.3h0M182.9 459.6h0M159.7 483.0h0M171.1 471.8h0M212.3 431.6h0M211.4 431.5h0M189.6 453.0h0M213.5 430.9h0M191.2 452.0h0M183.4 460.0h0M171.1 471.7h0M208.4 434.5h0M185.0 457.9h0M165.9 477.1h0M223.3 420.4h0M206.9 435.5h0M163.8 479.1h0M207.4 436.3h0M205.1 439.0h0M167.0 476.2h0M217.1 426.1h0M184.8 457.8h0M195.9 447.3h0M215.3 427.2h0M188.6 453.3h0M218.9 424.7h0M176.1 466.9h0M219.4 423.4h0M220.7 422.3h0M196.9 445.4h0M178.5 464.9h0M200.4 442.7h0M206.4 436.0h0M197.9 445.1h0M185.2 457.2h0M208.8 433.6h0M183.4 459.7h0M188.3 454.9h0M215.3 427.7h0M202.9 440.0h0M210.4 432.5h0M184.4 459.0h0M166.7 476.3h0M179.5 463.8h0M168.2 474.6h0M177.9 464.9h0M171.9 471.4h0M177.3 465.3h0M218.9 424.3h0M210.1 433.0h0M219.3 423.8h0M203.1 439.7h0M180.8 462.2h0M188.4 454.8h0M213.8 429.0h0M216.6 426.6h0M198.1 444.8h0M195.6 447.8h0M183.9 459.5h0M195.5 447.8h0M206.0 435.8h0M181.6 461.2h0M160.8 482.1h0M194.9 448.2h0M157.8 485.5h0M200.2 442.9h0M178.8 464.3h0M163.8 479.3h0M165.6 477.0h0M164.9 477.9h0M210.1 432.6h0M179.1 464.0h0M196.8 445.9h0M158.1 485.0h0M213.2 429.5h0M183.6 460.0h0M168.0 475.2h0M215.0 428.1h0M168.8 474.4h0M210.0 432.4h0M182.8 459.6h0M203.7 439.7h0M208.5 434.5h0M209.4 434.1h0M208.9 434.2h0M170.0 473.0h0M221.1 422.3h0M191.6 451.2h0M220.4 421.9h0M211.4 431.4h0M179.1 464.4h0M162.9 479.9h0M176.8 466.4h0M172.8 470.6h0M208.8 434.3h0M193.2 450.5h0M224.2 418.5h0M170.3 473.2h0M179.6 462.8h0M170.9 471.7h0M169.4 473.8h0M223.1 420.2h0M172.2 471.0h0M191.4 451.6h0M185.3 457.9h0M223.4 420.0h0M197.5 445.9h0M200.6 443.0h0M199.7 443.2h0M181.1 461.2h0M176.6 466.5h0M202.3 440.7h0M215.6 427.4h0M206.8 436.2h0M223.8 418.8h0M193.5 449.6h0M206.2 436.9h0M204.1 439.7h0M181.1 461.8h0M202.2 440.8h0M208.2 434.4h0M201.0 442.7h0M200.6 442.0h0M219.4 424.3h0M208.9 434.1h0M181.8 460.9h0M179.1 463.5h0M173.0 470.0h0M189.8 453.4h0M173.1 469.8h0M200.8 443.0h0M179.1 464.6h0M217.1 426.3h0M159.6 483.3h0M196.0 446.6h0M160.9 481.4h0M222.9 420.2h0M191.8 450.8h0M205.6 436.8h0M164.6 478.8h0M209.4 433.0h0M191.8 451.3h0M205.1 437.5h0M214.1 428.8h0M180.3 462.4h0M203.1 440.3h0M184.9 457.7h0M222.2 420.9h0M179.7 463.4h0M197.2 446.3h0M205.6 437.9h0M183.8 458.6h0M175.6 467.9h0M205.3 437.6h0M186.5 457.1h0M168.2 474.8h0M221.4 422.3h0M163.0 480.2h0M189.6 453.2h0M175.8 466.8h0M211.5 431.8h0M198.8 443.5h0M207.3 434.9h0M177.7 465.4h0M218.1 424.9h0M159.0 484.1h0M204.2 438.7h0M158.9 483.9h0M207.5 435.2h0M215.0 427.6h0M199.8 443.9h0M190.4 452.4h0M192.4 450.5h0M186.6 456.1h0M212.2 430.9h0M195.9 446.7h0M193.2 449.7h0M200.9 442.3h0M177.6 464.9h0M219.4 423.7h0M176.1 467.0h0M192.2 451.9h0M205.4 437.4h0M220.1 422.8h0M214.6 428.0h0M216.5 426.7h0M172.9 469.9h0M190.2 453.3h0M181.4 461.9h0M208.9 434.0h0M221.5 420.6h0M209.3 434.3h0M173.7 469.5h0M173.5 469.0h0M194.7 448.3h0M174.8 468.2h0M176.7 466.2h0M192.0 451.1h0M168.6 474.0h0M202.8 439.9h0M212.9 430.8h0M208.6 434.6h0M178.3 464.8h0M216.4 426.7h0M222.7 420.7h0M211.3 432.1h0M181.6 461.1h0M171.7 471.3h0M204.7 438.2h0M203.1 439.8h0M180.9 461.8h0M220.9 422.2h0M158.8 484.4h0M172.3 470.5h0M183.5 459.5h0M166.1 476.8h0M206.0 436.6h0M180.9 461.8h0M160.3 482.6h0M182.5 461.5h0M183.6 459.0h0M184.1 458.6h0M183.4 459.9h0M202.1 440.6h0M196.8 445.9h0M215.3 427.0h0M166.3 476.4h0M221.9 421.5h0M158.2 485.4h0M184.5 459.2h0M197.4 445.8h0M184.0 458.8h0M204.3 438.8h0M187.9 455.9h0M162.8 480.3h0M220.5 422.4h0M183.1 459.9h0M218.6 423.8h0M173.5 469.8h0M185.0 457.1h0M212.6 430.4h0M194.7 448.3h0M170.3 472.7h0M219.0 424.9h0M197.9 444.5h0M195.2 447.1h0M175.0 468.6h0M180.4 462.3h0M200.8 442.1h0M190.4 453.3h0M194.0 449.4h0M176.7 467.5h0M188.5 455.3h0M168.5 474.5h0M174.0 469.0h0M213.2 430.2h0M172.6 470.4h0M217.1 425.6h0M191.5 450.8h0M185.8 457.1h0M197.2 446.0h0M193.9 449.0h0M187.9 454.8h0M205.8 436.8h0M223.9 419.0h0M183.9 459.6h0M168.7 474.1h0M187.2 456.4h0M158.9 484.2h0M171.7 471.2h0M208.4 434.8h0M191.8 450.0h0M173.3 469.0h0M200.0 442.7h0M222.8 420.9h0M192.1 451.4h0M158.5 484.4h0M221.4 421.5h0M202.1 440.4h0M219.6 423.8h0M177.2 465.3h0M173.6 468.9h0M190.7 453.0h0M199.1 443.9h0M171.3 471.8h0M188.2 455.6h0M198.1 445.3h0M190.8 452.1h0M188.3 454.8h0M187.6 454.8h0M214.8 427.9h0M213.2 430.0h0M161.0 481.9h0M203.2 439.2h0M162.1 480.9h0M213.2 430.0h0M217.4 425.6h0M170.4 472.1h0M213.4 429.7h0M181.0 462.1h0M177.3 466.1h0M192.8 450.5h0M192.3 450.5h0M206.7 436.3h0M164.6 478.5h0M205.1 437.6h0M202.6 440.0h0M199.5 443.6h0M163.9 478.8h0M210.8 432.5h0M220.7 422.1h0M158.6 484.6h0M171.7 470.5h0M158.7 484.6h0M162.3 480.8h0M205.6 437.2h0M202.9 440.2h0M169.9 473.5h0M175.7 467.6h0M210.5 432.7h0M200.5 442.7h0M194.6 448.0h0M182.4 460.7h0M176.3 464.5h0M177.9 463.2h0M178.9 461.8h0M180.5 460.7h0M177.3 463.9h0M235.5 407.6h0M228.8 414.2h0M315.9 327.5h0M263.7 379.6h0M225.6 416.9h0M224.8 418.8h0M295.8 347.0h0M281.8 360.5h0M268.5 375.1h0M264.2 378.2h0M254.4 388.6h0M288.7 354.9h0M272.5 370.2h0M300.4 343.0h0M287.4 355.4h0M276.1 366.7h0M244.3 398.7h0M228.8 414.5h0M318.3 324.6h0M297.0 346.4h0M254.4 388.4h0M257.1 385.9h0M235.7 407.4h0M248.0 394.8h0M234.1 409.2h0M275.1 367.4h0M262.3 380.6h0M231.8 411.2h0M273.6 370.1h0M251.4 391.6h0M284.9 357.8h0M303.4 340.2h0M253.1 389.8h0M305.3 337.0h0M273.9 369.1h0M227.3 415.2h0M290.9 352.2h0M318.6 323.9h0M227.3 415.8h0M303.7 339.8h0M320.0 323.9h0M261.2 381.9h0M311.1 332.8h0M245.6 397.5h0M296.7 346.0h0M240.7 402.2h0M294.4 347.3h0M260.3 382.2h0M249.7 393.1h0M280.4 362.6h0M309.3 333.9h0M287.7 355.7h0M297.6 346.1h0M279.5 363.6h0M271.7 370.8h0M306.1 337.2h0M267.0 376.2h0M235.4 407.7h0M246.1 397.0h0M250.5 392.1h0M305.9 336.9h0M291.8 351.4h0M315.9 327.4h0M254.1 388.9h0M321.0 322.6h0M320.9 323.1h0M260.5 382.9h0M232.1 410.6h0M228.4 414.0h0M267.9 375.7h0M311.5 330.6h0M243.6 399.2h0M315.3 327.7h0M233.5 409.6h0M287.4 355.9h0M282.1 361.0h0M259.5 383.4h0M301.4 341.9h0M305.9 337.5h0M255.3 387.1h0M263.0 379.4h0M321.9 321.8h0M286.5 356.4h0M226.5 416.9h0M238.5 404.1h0M225.9 417.3h0M240.1 404.0h0M227.2 415.3h0M263.2 379.8h0M240.6 402.1h0M322.4 320.8h0M316.9 326.3h0M312.7 331.0h0M306.5 336.5h0M273.6 369.7h0M300.5 343.3h0M296.7 346.6h0M322.2 321.1h0M298.7 344.8h0M321.0 322.6h0M224.9 418.8h0M307.0 336.0h0M313.6 329.7h0M227.4 416.2h0M259.7 383.8h0M302.3 341.0h0M258.9 383.9h0M242.2 400.6h0M278.6 364.8h0M290.3 353.0h0M304.2 339.3h0M226.5 416.8h0M289.3 353.8h0M270.5 372.3h0M287.4 355.3h0M293.8 349.6h0M303.5 339.2h0M296.3 347.4h0M304.8 338.3h0M297.8 346.1h0M312.3 330.8h0M309.2 334.6h0M229.3 414.5h0M244.4 398.6h0M242.4 401.3h0M244.2 398.8h0M300.6 342.1h0M317.0 326.6h0M287.7 355.1h0M306.1 337.2h0M283.2 360.8h0M293.7 349.6h0M282.8 360.5h0M296.7 346.4h0M309.3 334.5h0M277.1 365.3h0M286.8 356.0h0M320.5 322.6h0M249.5 394.2h0M226.5 416.5h0M239.8 403.3h0M239.2 403.9h0M276.6 366.3h0M227.4 416.8h0M314.6 329.0h0M269.1 373.7h0M320.5 322.4h0M306.7 336.2h0M304.9 339.0h0M318.9 324.4h0M293.6 349.1h0M255.5 388.1h0M233.6 409.0h0M315.6 327.0h0M313.9 330.6h0M245.3 397.5h0M237.6 405.8h0M245.2 398.1h0M231.9 411.1h0M277.6 365.4h0M236.8 406.7h0M297.9 345.1h0M224.6 418.3h0M253.7 389.0h0M269.1 373.7h0M231.0 412.5h0M245.3 397.6h0M283.0 359.9h0M278.3 364.9h0M256.9 386.3h0M258.3 385.2h0M228.6 414.9h0M261.7 381.8h0M307.8 336.1h0M280.5 363.2h0M263.5 380.0h0M258.8 384.3h0M225.6 418.0h0M235.6 407.3h0M315.2 327.7h0M320.3 322.5h0M303.3 339.9h0M289.9 353.6h0M266.0 377.1h0M251.7 391.2h0M228.3 415.3h0M279.8 363.7h0M279.6 363.5h0M322.4 320.3h0M291.1 352.4h0M260.7 382.8h0M246.2 397.3h0M272.2 370.9h0M298.9 344.0h0M316.8 326.8h0M302.2 340.8h0M296.5 346.1h0M274.0 369.9h0M321.0 322.1h0M268.4 375.0h0M319.3 323.5h0M248.0 395.1h0M294.6 349.5h0M229.3 414.3h0M256.2 386.5h0M305.5 337.3h0M272.8 370.9h0M284.2 358.8h0M284.4 358.1h0M264.7 378.9h0M290.4 352.9h0M321.4 321.0h0M310.4 333.0h0M289.5 354.3h0M316.8 326.8h0M291.1 352.9h0M251.6 391.5h0M304.8 338.1h0M291.0 351.7h0M313.3 329.9h0M231.6 411.3h0M235.6 406.8h0M231.9 412.1h0M310.2 333.7h0M272.8 369.7h0M251.8 392.3h0M307.7 335.4h0M268.1 374.5h0M305.2 337.6h0M243.1 400.4h0M268.5 374.7h0M300.7 342.7h0M315.7 327.3h0M233.0 410.3h0M258.3 385.7h0M259.5 383.2h0M251.5 391.0h0M302.0 341.2h0M292.2 350.7h0M302.6 340.5h0M255.0 388.2h0M261.3 381.9h0M312.9 330.7h0M255.5 387.5h0M239.8 403.2h0M272.2 370.9h0M268.3 375.3h0M295.0 348.0h0M288.5 354.8h0M236.2 405.8h0M265.4 377.5h0M236.0 407.0h0M271.7 372.5h0M263.0 379.7h0M275.5 367.5h0M280.1 362.6h0M289.4 353.8h0M319.3 323.8h0M312.5 330.9h0M245.5 398.1h0M256.7 386.5h0M312.2 331.6h0M230.1 412.9h0M280.5 363.4h0M260.8 382.7h0M319.2 324.0h0M269.1 374.1h0M316.7 326.4h0M256.8 386.6h0M313.4 330.5h0M248.0 394.9h0M283.9 360.4h0M244.3 398.8h0M282.9 359.2h0M268.0 375.9h0M306.9 336.0h0M230.2 413.2h0M315.7 327.3h0M253.5 389.4h0M303.0 340.0h0M237.8 405.0h0M287.8 354.7h0M305.8 337.2h0M275.9 366.9h0M304.0 339.2h0M273.7 370.2h0M226.3 416.6h0M250.8 391.6h0M251.4 391.5h0M262.3 381.3h0M284.6 358.2h0M316.1 326.7h0M315.0 328.8h0M238.5 405.0h0M250.1 392.1h0M279.7 363.4h0M230.8 412.3h0M256.4 387.0h0M226.3 416.7h0M265.9 376.6h0M271.8 371.9h0M231.9 410.5h0M237.6 406.2h0M273.2 370.1h0M290.5 352.1h0M321.3 321.4h0M299.9 343.2h0M313.2 329.5h0M317.8 325.4h0M254.4 388.2h0M282.6 360.8h0M226.5 416.8h0M264.8 377.4h0M288.2 355.8h0M279.2 364.3h0M244.4 398.2h0M291.4 351.1h0M235.6 407.3h0M262.8 380.0h0M241.0 401.3h0M232.5 409.9h0M279.6 363.0h0M290.6 352.6h0M251.1 392.3h0M271.2 372.5h0M280.4 362.3h0M278.0 365.2h0M242.0 400.1h0M265.6 377.9h0M271.7 371.1h0M244.1 397.6h0M250.4 392.4h0M257.9 385.6h0M276.1 367.6h0M309.1 334.2h0M265.5 377.2h0M270.7 372.4h0M304.4 338.6h0M268.4 375.0h0M235.7 407.5h0M266.4 376.5h0M261.2 381.4h0M311.6 331.3h0M294.3 348.7h0M267.6 376.0h0M311.7 331.0h0M232.5 410.2h0M225.6 416.9h0M231.9 411.5h0M268.0 375.5h0M228.4 415.5h0M311.4 331.9h0M278.6 363.9h0M305.6 336.8h0M303.9 339.3h0M305.5 338.1h0M272.6 371.5h0M279.0 364.5h0M248.5 394.4h0M274.5 368.5h0M289.0 354.1h0M256.9 385.9h0M320.5 322.4h0M271.1 372.1h0M292.0 351.7h0M227.9 415.0h0M285.5 357.4h0M231.3 411.9h0M265.6 377.7h0M277.8 365.1h0M259.1 383.5h0M286.8 357.2h0M270.8 372.2h0M254.5 389.0h0M259.6 383.2h0M242.3 400.5h0M316.1 327.1h0M232.2 411.1h0M310.3 332.9h0M321.6 322.2h0M230.4 412.4h0M289.3 353.8h0M290.3 352.6h0M313.1 330.2h0M249.1 394.0h0M257.1 385.6h0M226.9 416.0h0M265.4 377.7h0M302.2 341.0h0M239.6 404.1h0M246.3 396.6h0M256.0 386.2h0M237.8 405.2h0M231.9 410.7h0M234.6 409.5h0M311.1 332.4h0M277.3 364.9h0M279.8 363.5h0M285.9 356.9h0M236.1 406.5h0M237.4 404.6h0M290.9 352.3h0M249.0 393.8h0M321.5 321.3h0M239.4 402.6h0M297.5 345.7h0M240.4 403.0h0M322.0 321.2h0M228.5 414.6h0M228.7 414.5h0M241.4 401.8h0M280.7 362.2h0M232.6 411.0h0M281.5 361.3h0M253.3 389.9h0M246.4 397.3h0M302.5 341.0h0M275.3 368.2h0M247.5 395.5h0M313.5 329.8h0M275.2 368.7h0M232.3 409.7h0M303.3 340.0h0M283.0 359.8h0M272.0 370.9h0M266.5 376.4h0M303.6 339.6h0M266.3 376.5h0M267.7 375.7h0M228.4 414.8h0M321.1 321.9h0M238.4 404.7h0M248.1 394.9h0M254.2 388.9h0M267.1 375.6h0M252.6 389.8h0M249.4 393.0h0M271.4 371.7h0M285.1 358.2h0M248.9 393.8h0M258.3 384.9h0M319.5 323.8h0M280.5 362.9h0M303.3 339.6h0M301.6 341.2h0M244.1 399.0h0M316.7 326.9h0M289.3 352.6h0M233.7 410.1h0M231.7 411.1h0M290.9 352.2h0M230.6 412.4h0M291.4 351.9h0M283.4 359.0h0M247.5 394.9h0M228.5 414.9h0M306.8 336.2h0M271.7 371.6h0M300.2 342.8h0M291.5 352.1h0M270.7 372.5h0M314.4 328.6h0M269.8 374.0h0M292.5 351.0h0M258.2 384.6h0M276.4 366.0h0M262.9 380.8h0M247.3 396.6h0M260.6 383.3h0M262.3 380.9h0M316.3 326.5h0M308.4 335.3h0M274.4 368.3h0M297.6 345.3h0M270.1 372.7h0M308.7 334.6h0M287.2 356.1h0M226.3 417.6h0M263.1 380.3h0M261.8 381.9h0M273.0 370.4h0M239.6 403.5h0M255.5 387.1h0M269.0 374.4h0M314.4 329.1h0M240.2 403.4h0M313.3 329.5h0M265.5 377.6h0M300.9 342.0h0M293.0 350.2h0M289.5 353.7h0M246.7 396.2h0M255.4 387.9h0M279.7 363.4h0M256.7 386.5h0M266.0 377.6h0M242.1 401.3h0M297.6 345.2h0M229.0 414.2h0M231.3 411.4h0M290.8 362.9h0M284.0 364.8h0M287.7 362.3h0M330.6 313.3h0M330.5 312.5h0M333.3 310.6h0M335.4 307.5h0M337.2 305.1h0M350.5 292.2h0M356.1 287.3h0M357.6 284.6h0M363.9 279.4h0M362.1 281.2h0M364.2 279.4h0M364.5 278.5h0M366.8 275.3h0M370.1 274.3h0M378.2 265.1h0M384.9 258.8h0M391.1 251.8h0M398.1 245.8h0M407.4 234.9h0M411.2 232.1h0M416.2 226.6h0M415.9 228.1h0M425.6 218.0h0M425.4 218.6h0M427.7 216.7h0M427.8 216.6h0M430.0 213.9h0M435.9 207.9h0M435.9 208.4h0M439.9 205.1h0M446.3 198.3h0M444.7 200.2h0M451.8 193.5h0M452.4 192.7h0M456.6 188.8h0M455.5 189.7h0M460.0 185.9h0M462.7 183.4h0M470.0 175.1h0M468.0 177.6h0M470.9 175.7h0M471.7 173.8h0M473.9 172.7h0M490.4 158.0h0M482.0 165.8h0M466.7 177.6h0M458.7 186.2h0M451.1 194.6h0M445.2 200.4h0M447.6 204.4h0M438.6 207.9h0M430.9 210.0h0M427.2 213.7h0M421.8 220.4h0"/>
</g>
<g clip-path="url(#cr)">
<path class="tr" d="M1006.6 230.5h0M1056.2 193.0h0M754.5 483.7h0M1124.6 117.3h0M941.3 303.7h0M747.7 492.5h0M860.8 378.8h0M1080.5 161.7h0M1004.2 227.2h0M831.1 408.7h0M1159.2 83.2h0M971.0 258.5h0M829.1 413.1h0M1121.5 128.3h0M895.5 343.4h0M870.1 368.7h0M743.6 496.7h0M1089.6 147.2h0M876.2 363.9h0M1156.1 85.1h0M1060.4 172.1h0M897.6 341.4h0M746.0 492.5h0M825.6 408.6h0M1136.8 105.2h0M964.9 271.7h0M788.0 450.8h0M757.7 484.3h0M780.9 461.5h0M886.5 358.8h0M973.6 267.3h0M775.4 463.6h0M1034.7 204.4h0M1161.0 77.7h0M914.4 331.8h0M935.6 308.5h0M765.8 472.6h0M1098.0 140.8h0M1052.7 192.0h0M787.4 454.5h0M805.5 434.9h0M1166.3 69.1h0M1156.4 90.0h0M945.5 293.8h0M913.6 335.1h0M1149.6 81.6h0M954.1 282.9h0M1074.1 163.9h0M895.5 343.3h0M1024.0 222.1h0M896.4 344.2h0M1068.9 166.2h0M866.9 375.5h0M747.1 494.0h0M848.6 396.5h0M1017.0 221.1h0M889.8 350.5h0M890.7 356.3h0M1111.4 118.1h0M962.1 279.2h0M812.7 424.8h0M1035.6 205.9h0M1052.2 186.6h0M1024.7 220.5h0M1006.9 237.2h0M753.9 487.3h0M929.4 309.2h0M1009.9 223.7h0M942.3 295.4h0M876.9 362.3h0M824.2 417.9h0M1001.8 237.1h0M843.1 393.8h0M860.4 379.4h0M791.0 449.1h0M1002.6 236.4h0M973.6 275.3h0M1089.6 155.3h0M1087.2 154.1h0M995.1 243.0h0M1148.5 94.3h0M1121.4 123.7h0M788.0 452.5h0M1009.3 232.0h0M901.7 337.6h0M1154.9 81.5h0M1150.1 92.3h0M1158.6 83.1h0M918.5 316.5h0M863.7 376.4h0M793.9 447.3h0M1074.0 164.6h0M747.8 492.4h0M1074.1 156.2h0M855.8 381.4h0M1000.3 239.8h0M1015.9 224.0h0M1064.9 176.9h0M968.6 272.6h0M939.3 295.7h0M1058.4 178.3h0M935.6 303.5h0M1119.1 113.6h0M923.7 315.4h0M1042.8 206.1h0M905.8 333.0h0M1103.8 138.3h0M770.2 467.3h0M1037.0 204.4h0M1128.7 104.1h0M945.2 298.3h0M807.3 432.4h0M1086.8 152.1h0M1078.2 154.0h0M753.0 482.6h0M1039.8 201.9h0M1099.6 146.4h0M1044.6 203.3h0M866.3 370.8h0M917.9 317.3h0M1006.4 230.3h0M772.7 466.2h0M986.3 251.8h0M925.4 315.9h0M996.9 239.1h0M765.8 474.4h0M806.3 438.0h0M977.7 262.4h0M853.9 386.0h0M961.6 271.3h0M841.7 398.3h0M1044.9 197.4h0M778.3 460.8h0M994.3 244.3h0M1114.4 128.7h0M754.7 483.2h0M764.9 473.1h0M836.9 404.2h0M1155.0 83.8h0M1007.4 234.5h0M841.9 399.8h0M905.9 336.4h0M1094.9 143.4h0M1103.6 140.3h0M993.7 246.3h0M783.3 458.0h0M828.1 409.5h0M1064.9 181.6h0M941.7 301.2h0M939.8 303.0h0M807.8 433.4h0M1115.8 121.1h0M850.0 388.5h0M842.0 395.8h0M755.8 485.9h0M1034.1 198.6h0M942.4 292.9h0M865.7 370.7h0M1051.7 187.8h0M840.0 399.2h0M912.4 329.7h0M940.8 296.3h0M1053.0 185.2h0M1027.5 209.7h0M1016.3 223.0h0M768.0 471.8h0M916.3 335.4h0M962.4 281.1h0M782.0 456.4h0M1139.3 103.3h0M845.5 395.1h0M850.6 388.6h0M872.0 358.7h0M818.3 420.0h0M912.9 323.7h0M788.0 451.1h0M1133.2 104.8h0M749.6 490.9h0M948.7 295.2h0M1050.2 185.6h0M872.7 365.9h0M791.3 449.6h0M779.4 459.9h0M797.3 444.0h0M846.1 397.1h0M846.3 391.8h0M1039.5 199.2h0M900.8 335.8h0M920.7 319.0h0M1122.5 122.5h0M1064.6 182.3h0M1020.4 216.7h0M1051.2 189.4h0M904.5 327.8h0M770.1 469.8h0M863.4 371.5h0M1066.4 172.1h0M797.4 442.3h0M1107.1 135.0h0M924.2 317.5h0M882.4 370.5h0M1050.7 193.0h0M967.3 273.7h0M1140.5 103.6h0M792.3 445.8h0M926.4 315.7h0M1067.9 182.6h0M995.1 246.9h0M1087.8 141.2h0M756.1 482.6h0M946.8 295.3h0M859.8 378.6h0M980.9 258.9h0M891.5 351.2h0M1159.2 77.3h0M912.3 332.1h0M1095.2 142.2h0M784.1 455.5h0M1124.3 114.5h0M1032.0 211.3h0M1006.6 233.6h0M959.4 280.0h0M820.6 419.4h0M874.6 364.4h0M944.3 305.0h0M1088.3 144.5h0M1036.2 210.8h0M896.2 345.3h0M1030.6 209.6h0M779.2 460.0h0M988.5 252.1h0M1136.6 106.7h0M1046.1 193.5h0M1148.3 97.6h0M1034.1 206.1h0M830.8 412.6h0M1122.5 112.1h0M909.2 332.4h0M907.8 337.1h0M1128.5 118.6h0M906.3 335.5h0M1045.8 198.9h0M1118.6 122.3h0M1006.3 230.5h0M813.2 426.4h0M768.8 471.9h0M1094.6 145.8h0M922.7 321.3h0M1126.2 114.7h0M1152.4 81.8h0M755.1 486.2h0M820.2 420.8h0M994.5 247.7h0M768.2 473.4h0M1096.4 146.7h0M1016.0 216.4h0M839.4 398.7h0M784.9 456.4h0M808.7 429.4h0M786.7 451.2h0M1054.7 183.0h0M1134.4 111.6h0M1007.5 230.8h0M769.5 469.9h0M901.1 341.5h0M777.7 464.2h0M972.8 262.8h0M901.1 335.0h0M952.5 285.8h0M1064.7 175.7h0M867.8 375.2h0M1055.1 184.2h0M904.3 341.8h0M1077.1 162.7h0M867.8 369.6h0M763.6 477.4h0M843.1 394.6h0M782.9 456.3h0M1160.1 87.0h0M781.1 456.3h0M1086.3 152.6h0M749.1 491.8h0M936.7 304.5h0M834.9 404.9h0M930.0 306.9h0M1147.4 90.7h0M957.7 287.7h0M926.7 308.6h0M1125.2 115.3h0M752.3 487.8h0M917.6 318.0h0M902.8 345.1h0M1063.2 172.3h0M921.3 312.7h0M1164.2 78.5h0M941.6 296.6h0M1025.1 212.5h0M773.5 464.9h0M1123.1 116.4h0M1093.7 145.3h0M996.4 242.6h0M1140.1 90.4h0M820.6 419.6h0M900.5 332.5h0M806.7 429.9h0M780.4 459.8h0M1015.3 227.7h0M989.1 247.3h0M844.4 395.7h0M1052.6 182.0h0M946.4 286.3h0M919.9 319.5h0M1001.3 233.9h0M758.4 480.9h0M888.9 352.1h0M1020.1 215.3h0M899.4 342.6h0M1145.3 104.0h0M870.3 368.3h0M932.6 307.8h0M966.6 270.1h0M976.3 265.0h0M800.7 441.6h0M830.2 409.5h0M767.6 472.6h0M1152.8 85.0h0M859.2 380.7h0M1094.1 148.9h0M907.1 332.6h0M1114.2 122.3h0M1123.0 115.9h0M1056.2 182.6h0M746.3 492.9h0M1112.0 132.1h0M992.1 248.7h0M1002.0 243.4h0M1145.0 89.0h0M781.6 457.3h0M937.5 297.1h0M771.6 469.5h0M1100.3 139.4h0M868.9 376.7h0M1064.0 172.0h0M808.1 433.0h0M853.9 385.5h0M891.9 346.3h0M922.6 318.6h0M801.1 439.7h0M1033.9 214.1h0M803.7 438.0h0M951.7 283.8h0M1023.3 219.6h0M1075.1 165.3h0M852.2 386.2h0M1119.8 124.1h0M1148.0 96.0h0M1068.9 166.2h0M1100.6 135.7h0M763.3 477.7h0M1049.5 186.4h0M915.5 323.1h0M1046.4 192.5h0M1111.3 129.3h0M1142.6 94.7h0M1122.6 113.8h0M838.2 399.9h0M982.0 254.0h0M1138.3 98.4h0M940.0 299.5h0M970.3 271.5h0M1161.2 81.6h0M976.0 262.5h0M923.8 325.2h0M904.2 336.4h0M1132.1 105.8h0M801.4 440.7h0M1140.7 107.7h0M985.8 250.8h0M862.8 377.2h0M1064.1 171.0h0M799.1 441.7h0M785.7 456.5h0M798.8 439.3h0M1005.2 232.2h0M811.4 426.1h0M849.1 388.3h0M764.4 473.9h0M885.0 350.4h0M1013.4 219.8h0M861.9 383.1h0M1114.4 129.1h0M1156.6 81.1h0M1020.2 219.6h0M1142.7 97.3h0M1104.3 142.5h0M1029.0 207.0h0M1052.8 188.4h0M1080.0 165.3h0M952.1 283.7h0M1097.5 149.2h0M969.3 268.4h0M1155.7 82.1h0M843.3 398.2h0M1015.8 227.3h0M858.4 386.5h0M1057.7 186.6h0M926.7 313.4h0M995.5 248.3h0M930.8 306.0h0M1099.0 139.6h0M766.3 473.4h0M936.6 305.1h0M1083.0 157.7h0M1079.7 160.2h0M1006.8 237.9h0M1103.4 140.7h0M750.8 488.2h0M770.2 469.6h0M784.7 454.2h0M743.6 495.8h0M869.5 371.9h0M1146.8 91.3h0M1034.7 208.8h0M915.6 321.5h0M935.6 307.0h0M1032.0 215.4h0M1111.8 126.9h0M1022.2 221.7h0M1116.8 125.5h0M881.2 357.8h0M1031.6 206.4h0M1098.8 136.2h0M782.4 458.0h0M864.4 372.3h0M805.4 434.3h0M975.6 263.9h0M1096.2 142.1h0M806.0 434.6h0M767.0 472.7h0M1083.1 161.3h0M1132.1 110.1h0M923.2 317.2h0M1091.4 150.5h0M772.3 465.2h0M835.4 405.4h0M1052.1 188.7h0M878.3 360.9h0M1029.8 213.5h0M962.4 283.2h0M1012.3 234.6h0M960.0 282.0h0M860.3 378.9h0M772.3 467.4h0M780.7 457.8h0M1137.4 99.3h0M1143.3 94.3h0M887.5 354.0h0M783.9 457.5h0M881.4 365.5h0M766.8 472.2h0M863.4 374.7h0M889.3 354.5h0M1101.2 144.4h0M1003.2 234.7h0M923.1 324.5h0M872.1 365.1h0M998.2 239.5h0M1053.7 182.1h0M788.3 450.9h0M776.7 463.4h0M862.9 373.3h0M810.8 428.5h0M1036.5 198.4h0M1005.1 241.0h0M817.5 423.7h0M789.4 448.2h0M899.4 331.3h0M907.8 335.4h0M1165.4 74.5h0M936.4 310.0h0M815.8 421.9h0M850.6 390.5h0M927.8 315.2h0M757.2 482.3h0M1021.9 223.4h0M955.9 283.9h0M1072.7 170.1h0M811.1 426.2h0M761.4 478.6h0M761.5 476.8h0M1162.0 77.0h0M755.9 482.6h0M823.6 416.9h0M769.9 469.0h0M1164.6 68.2h0M1074.4 169.2h0M813.9 424.6h0M1047.7 191.0h0M746.6 491.8h0M1051.8 194.5h0M1129.2 114.6h0M862.0 374.9h0M852.5 386.4h0M847.1 391.8h0M1148.4 87.8h0M993.6 252.0h0M908.8 336.4h0M1077.7 168.1h0M805.6 437.0h0M744.5 495.7h0M839.1 402.5h0M861.7 381.7h0M829.8 407.5h0M1041.4 194.7h0M949.0 295.2h0M775.7 465.6h0M939.9 294.3h0M889.3 347.0h0M963.7 277.8h0M999.2 235.6h0M874.7 369.8h0M1015.8 222.9h0M931.5 307.6h0M1136.5 101.5h0M953.8 282.7h0M810.7 428.8h0M1128.3 115.2h0M1007.4 227.3h0M839.3 398.2h0M851.5 390.3h0M948.1 295.0h0M944.7 300.8h0M1069.2 171.5h0M956.6 284.0h0M882.6 360.6h0M1002.9 232.7h0M1135.0 106.4h0M840.0 404.0h0M1005.5 234.2h0M951.0 291.7h0M1048.7 200.7h0M930.2 307.6h0M1163.0 79.1h0M778.0 465.3h0M1018.9 218.9h0M804.4 439.3h0M1003.4 229.2h0M1093.8 147.9h0M923.1 310.1h0M883.8 358.1h0M967.8 277.3h0M1045.3 200.8h0M951.7 291.1h0M763.0 478.1h0M877.5 360.1h0M1136.4 102.7h0M868.9 370.6h0M983.4 250.2h0M944.6 295.5h0M742.2 496.5h0M805.3 433.9h0M892.5 356.5h0M866.6 374.8h0M964.5 275.0h0M803.3 434.8h0M1067.3 169.8h0M1113.0 125.6h0M1122.1 118.1h0M743.5 494.4h0M1055.1 185.1h0M744.9 497.4h0M1127.6 110.3h0M1161.3 79.1h0M923.3 314.9h0M934.6 300.7h0M872.8 368.3h0M845.9 392.2h0M1165.3 72.6h0M964.4 277.7h0M897.8 346.3h0M754.7 485.3h0M1028.5 210.9h0M841.3 400.4h0M1104.0 135.7h0M771.3 467.2h0M865.8 376.8h0M761.7 476.5h0M763.6 476.9h0M1097.4 141.6h0M769.2 469.7h0M819.2 416.6h0M950.9 294.3h0M799.1 439.3h0M1118.2 125.1h0M1158.3 74.5h0M1138.8 104.6h0M773.3 468.2h0M1031.2 216.1h0M889.7 348.8h0M961.3 275.9h0M855.5 380.3h0M1061.3 180.3h0M755.3 483.8h0M1056.0 182.2h0M1003.1 237.4h0M824.7 417.7h0M790.0 445.8h0M890.1 352.5h0M860.5 381.3h0M1117.5 122.2h0M761.9 477.6h0M894.4 339.8h0M870.5 373.2h0M1031.0 208.8h0M1144.1 93.2h0M1006.1 243.0h0M1077.4 160.9h0M808.8 429.0h0M1033.9 205.9h0M751.7 487.8h0M894.1 349.6h0M1039.7 208.2h0M1162.0 83.0h0M864.2 377.9h0M1001.1 233.7h0M864.1 370.9h0M1055.0 185.2h0M1157.4 78.7h0M942.2 299.4h0M774.4 466.3h0M989.2 244.8h0M1104.2 136.3h0M952.9 290.8h0M1064.8 174.3h0M794.2 448.6h0M974.5 266.4h0M986.7 248.5h0M890.5 344.7h0M1088.3 151.1h0M798.1 443.6h0M833.7 406.8h0M743.1 497.6h0M1077.6 159.2h0M1052.5 187.6h0M988.5 250.7h0M1000.0 234.6h0M998.5 244.7h0M915.3 329.2h0M1031.8 205.5h0M894.5 344.7h0M1020.7 217.6h0M891.2 351.8h0M1030.5 208.6h0M969.8 270.6h0M1115.3 122.7h0M1139.1 105.4h0M1024.2 211.8h0M907.5 332.5h0M1032.4 206.1h0M823.1 417.8h0M953.7 287.8h0M898.6 338.7h0M823.6 413.4h0M855.0 388.0h0M1126.3 112.4h0M1148.2 86.0h0M805.6 434.7h0M742.7 497.3h0M851.4 384.9h0M1028.9 208.5h0M989.1 249.4h0M1013.0 232.0h0M1091.5 142.1h0M1096.2 131.6h0M1121.7 114.1h0M901.8 343.0h0M1066.8 176.3h0M896.7 342.5h0M938.8 289.6h0M817.2 423.1h0M1051.9 194.1h0M858.1 380.9h0M828.8 413.6h0M1121.9 119.2h0M1131.1 109.8h0M876.3 362.0h0M895.8 337.9h0M820.4 419.9h0M813.1 427.4h0M1030.7 206.9h0M865.6 373.1h0M928.4 309.8h0M964.0 275.4h0M1105.5 137.5h0M1136.8 98.8h0M1117.7 124.1h0M971.8 267.8h0M1117.3 126.4h0M924.2 316.1h0M899.3 336.2h0M744.4 493.1h0M1034.5 211.7h0M998.0 240.6h0M952.5 291.7h0M976.4 265.6h0M949.5 284.6h0M1166.5 72.1h0M773.1 466.8h0M1093.1 146.8h0M848.3 390.1h0M803.1 436.3h0M1005.3 232.2h0M1095.9 139.1h0M1052.3 192.1h0M921.6 325.3h0M927.2 306.8h0M1009.9 228.6h0M1077.2 157.3h0M848.2 394.6h0M1134.8 103.9h0M860.2 381.5h0M908.5 331.4h0M1020.8 214.5h0M905.4 337.7h0M978.0 266.5h0M825.9 414.6h0M1097.1 144.2h0M1009.7 227.4h0M868.6 375.1h0M1115.0 121.6h0M970.5 270.8h0M847.0 394.7h0M803.9 436.1h0M933.7 301.2h0M816.9 421.6h0M1055.8 183.5h0M825.0 413.1h0M1042.2 197.9h0M1165.7 69.3h0M798.0 443.5h0M1041.6 187.4h0M1134.2 98.9h0M769.1 468.5h0M1045.8 194.5h0M1010.5 230.9h0M803.8 436.0h0M1043.3 195.3h0M1032.1 206.1h0M938.7 300.5h0M1050.3 196.7h0M950.5 292.9h0M941.2 297.8h0M1082.4 161.1h0M888.5 357.5h0M1141.3 101.3h0M940.2 302.5h0M1107.0 130.4h0M1080.4 161.4h0M819.6 421.7h0M1121.4 119.8h0M1028.2 214.0h0M974.1 261.1h0M968.8 272.0h0M1032.3 210.6h0M898.7 346.1h0M906.8 327.9h0M868.3 372.3h0M1113.5 124.4h0M918.8 315.0h0M845.9 397.8h0M953.3 285.5h0M792.9 445.2h0M998.8 231.9h0M1026.6 218.6h0M1064.6 172.2h0M1035.8 207.1h0M1040.4 200.7h0M898.6 339.3h0M757.8 482.4h0M1111.7 123.9h0M786.4 454.8h0M934.3 299.8h0M959.8 281.0h0M1146.2 92.9h0M783.6 455.8h0M1060.0 184.6h0M803.9 435.5h0M1059.4 178.3h0M870.7 369.4h0M931.0 312.3h0M797.2 437.8h0M846.3 400.0h0M927.9 307.1h0M1099.5 142.7h0M953.8 283.9h0M1105.7 132.0h0M1074.1 164.9h0M1061.1 184.3h0M835.1 401.7h0M755.8 484.7h0M1163.9 80.4h0M1009.9 229.7h0M949.5 284.9h0M1050.1 194.4h0M826.0 414.0h0M1145.4 91.6h0M1088.1 152.4h0M817.4 422.1h0M1043.3 198.5h0M1021.4 219.8h0M1074.4 165.7h0M855.2 384.6h0M772.9 464.9h0M980.9 260.6h0M1111.0 132.5h0M1154.1 83.9h0M806.6 434.3h0M1037.0 205.8h0M1058.6 182.4h0M1125.6 115.0h0M1065.2 174.9h0M974.1 267.7h0M942.2 293.6h0M843.0 395.5h0M882.9 347.0h0M765.6 473.7h0M920.3 323.9h0M765.8 473.4h0M745.3 495.1h0M817.7 426.4h0M1144.3 93.2h0M1109.6 128.1h0M1024.6 217.1h0M946.2 295.4h0M945.6 287.9h0M958.0 282.7h0M957.4 284.0h0M832.3 409.4h0M948.0 298.6h0M958.6 273.1h0M936.1 307.9h0M988.6 251.3h0M1031.9 208.9h0M1013.2 230.3h0M948.1 289.6h0M937.6 302.0h0M1086.6 149.5h0M825.2 420.6h0M801.0 438.1h0M800.9 437.3h0M831.1 412.1h0M758.5 482.3h0M967.1 280.1h0M1091.3 149.2h0M882.6 358.0h0M1012.3 227.3h0M1059.1 181.4h0M883.4 362.0h0M1013.6 223.0h0M967.6 275.6h0M1095.0 145.2h0M962.5 285.2h0M938.8 298.1h0M756.9 485.4h0M941.6 301.7h0M844.4 394.4h0M989.0 249.4h0M1004.0 231.9h0M923.8 320.0h0M1152.7 83.5h0M1100.6 143.6h0M1096.0 141.7h0M911.8 328.4h0M854.6 387.8h0M1033.7 201.0h0M947.4 294.5h0M801.0 437.0h0M806.7 433.2h0M753.8 487.9h0M1096.7 139.0h0M872.3 367.6h0M850.4 388.7h0M934.2 303.6h0M799.1 440.8h0M864.3 377.9h0M1138.7 92.8h0M782.1 458.3h0M861.1 382.7h0M768.3 470.9h0M940.1 303.4h0M1044.7 200.5h0M868.1 367.8h0M1014.7 221.5h0M1118.2 120.3h0M915.0 326.1h0M1130.6 103.9h0M1153.3 83.1h0M897.7 340.6h0M776.7 462.5h0M777.0 463.2h0M812.9 426.6h0M755.4 483.6h0M1071.4 170.6h0M1076.5 163.1h0M1113.5 122.1h0M771.8 466.4h0M869.3 371.7h0M952.4 280.8h0M950.7 286.2h0M968.1 267.4h0M886.3 352.0h0M843.9 392.5h0M823.2 414.8h0M971.9 266.4h0M793.5 446.8h0M911.6 325.5h0M1059.1 184.3h0M954.9 285.9h0M1031.8 201.2h0M1016.8 226.9h0M865.9 369.8h0M959.6 271.9h0M1159.9 78.0h0M1008.0 224.1h0M1114.7 126.0h0M828.5 408.1h0M944.6 293.4h0M986.7 251.4h0M1080.4 166.1h0M882.4 360.1h0M1125.7 117.9h0M764.3 476.6h0M1080.5 167.0h0M758.3 480.3h0M1031.1 213.9h0M1092.6 145.5h0M820.0 418.6h0M974.3 267.6h0M874.1 366.9h0M917.1 315.6h0M1150.5 88.5h0M891.0 348.2h0M808.0 431.9h0M832.7 397.9h0M745.2 493.4h0M848.1 392.6h0M1014.5 223.4h0M1044.0 191.7h0M980.4 260.5h0M1133.8 106.4h0M986.6 258.7h0M987.7 247.9h0M930.3 310.0h0M887.3 354.8h0M829.6 411.8h0M762.8 475.2h0M941.1 294.3h0M1086.7 149.6h0M781.6 457.8h0M769.4 472.5h0M1130.8 101.9h0M1090.2 145.3h0M1037.9 200.5h0M1052.1 190.0h0M1077.0 171.9h0M1163.8 68.9h0M957.1 279.2h0M798.2 443.2h0M799.3 442.5h0M1015.5 226.3h0M1144.7 91.5h0M890.1 350.6h0M1156.3 81.2h0M875.9 370.3h0M1140.5 93.4h0M982.5 251.4h0M1078.8 158.5h0M1065.0 171.8h0M952.4 283.7h0M860.2 379.6h0M1140.2 104.7h0M1025.8 209.4h0M1075.6 167.3h0M1072.2 168.4h0M782.5 454.2h0M824.0 414.4h0M852.5 388.8h0M973.0 268.6h0M805.6 433.8h0M747.4 491.9h0M1151.0 86.1h0M830.3 412.5h0M791.5 449.6h0M842.7 401.0h0M1010.0 235.1h0M756.0 485.0h0M1157.7 85.4h0M1115.7 125.8h0M784.6 457.2h0M828.7 409.9h0M969.0 270.8h0M1133.1 107.8h0M851.2 383.4h0M1155.3 82.7h0M1157.4 77.0h0M1135.1 110.6h0M958.0 280.1h0M988.8 251.5h0M816.1 423.8h0M911.9 327.3h0M1047.0 184.8h0M850.9 390.8h0M1036.2 201.2h0M1002.8 234.1h0M1130.8 109.4h0M1123.3 118.0h0M1151.8 82.1h0M787.6 456.3h0M1024.2 207.9h0M1022.4 215.9h0M802.7 438.4h0M1124.2 115.5h0M812.5 431.5h0M1158.7 86.7h0M765.3 473.4h0M777.2 460.7h0M1003.5 228.4h0M1052.9 189.7h0M974.2 262.9h0M1034.5 204.8h0M933.6 311.2h0M1083.4 152.0h0M841.8 401.7h0M778.8 460.6h0M846.4 392.8h0M999.2 244.6h0M970.2 275.4h0M1117.8 113.4h0M792.6 449.5h0M998.2 239.6h0M1126.7 111.0h0M774.4 466.2h0M960.7 288.7h0M822.4 420.4h0M985.7 255.7h0M784.9 456.7h0M1079.4 160.3h0M1032.6 207.6h0M868.3 371.7h0M968.7 265.3h0M815.1 424.9h0M821.6 417.5h0M809.8 428.0h0M1063.7 176.7h0M959.1 278.0h0M1149.6 91.2h0M1108.8 125.0h0M988.1 252.2h0M931.3 298.4h0M802.2 438.2h0M1039.4 195.0h0M793.4 448.3h0M1031.1 205.4h0M1097.0 142.8h0M895.9 343.1h0M924.8 314.3h0M828.7 410.0h0M850.9 387.3h0M922.1 327.8h0M1092.8 149.7h0M1112.2 125.0h0M1000.2 242.2h0M1135.0 101.8h0M886.4 353.4h0M984.9 249.0h0M830.1 405.9h0M1097.6 144.7h0M1139.5 100.0h0M1025.7 215.1h0M818.0 424.0h0M1065.5 180.3h0M1138.8 101.5h0M1156.4 78.6h0M984.3 260.4h0M813.4 421.8h0M911.2 326.9h0M930.0 310.1h0M1013.2 230.5h0M1142.4 93.0h0M804.8 436.3h0M826.6 413.3h0M1078.1 159.5h0M1120.8 120.5h0M1165.8 75.9h0M1013.2 228.7h0M943.2 291.9h0M904.6 337.5h0M790.0 451.0h0M1026.5 215.0h0M1007.9 230.9h0M947.4 295.7h0M754.9 483.8h0M824.6 414.6h0M1132.4 105.6h0M950.0 291.5h0M1054.5 177.2h0M751.5 484.2h0M755.3 484.1h0M962.2 280.5h0M1147.2 83.2h0M970.2 270.5h0M801.6 439.5h0M786.2 454.4h0M776.7 463.7h0M936.4 297.4h0M852.6 390.8h0M861.4 380.7h0M971.8 268.7h0M1080.3 159.0h0M745.9 494.7h0M1116.4 123.5h0M882.7 352.7h0M864.5 374.4h0M799.9 439.9h0M883.2 358.7h0M1094.3 145.4h0M819.6 418.0h0M1012.3 224.3h0M843.3 393.8h0M793.0 447.9h0M1047.6 196.9h0M750.8 490.3h0M844.4 392.4h0M907.4 345.6h0M971.7 270.4h0M864.3 368.0h0M1027.5 207.2h0M1023.2 214.5h0M785.4 455.7h0M1153.3 81.1h0M924.6 311.1h0M941.8 299.8h0M786.9 453.4h0M990.2 254.1h0M1006.1 228.7h0M936.5 307.8h0M1143.8 93.5h0M1115.5 124.3h0M1073.6 166.7h0M793.7 445.0h0M814.1 430.0h0M1160.9 80.9h0M817.1 420.6h0M1100.8 135.8h0M855.9 378.7h0M1059.5 175.5h0M1072.2 164.6h0M905.0 339.0h0M936.2 303.9h0M981.0 259.9h0M916.7 324.9h0M891.5 353.5h0M1072.4 173.1h0M1008.9 234.2h0M777.2 462.2h0M1160.2 85.3h0M923.0 316.6h0M907.9 329.9h0M983.1 254.5h0M941.4 293.1h0M1077.7 162.9h0M985.8 255.7h0M825.1 416.6h0M777.1 462.8h0M917.9 314.0h0M1121.1 119.4h0M959.5 273.8h0M1097.1 141.5h0M1001.0 234.8h0M936.8 304.7h0M1111.7 132.4h0M863.9 373.8h0M1005.1 229.8h0M1153.5 85.7h0M1007.5 229.7h0M1150.8 86.6h0M943.7 295.4h0M998.1 241.1h0M758.1 481.5h0M845.3 398.4h0M835.7 409.6h0M973.6 269.0h0M1141.8 102.1h0M1164.2 65.6h0M1106.7 132.3h0M766.8 472.1h0M776.6 462.0h0M789.9 454.8h0M777.4 461.9h0M1054.8 186.8h0M947.0 288.1h0M1160.0 83.4h0M931.6 302.8h0M801.1 440.8h0M856.7 382.3h0M940.6 297.7h0M1043.9 190.0h0M848.1 394.2h0M1053.8 177.0h0M815.2 424.1h0M1144.1 97.3h0M774.8 465.1h0M1006.7 232.5h0M1067.1 171.1h0M765.0 475.0h0M982.2 255.2h0M965.2 277.7h0M955.1 285.5h0M831.7 410.8h0M887.5 351.3h0M1138.3 112.4h0M742.5 496.2h0M898.2 342.0h0M770.3 470.5h0M1161.3 73.9h0M1030.5 211.3h0M1067.7 174.6h0M849.2 394.9h0M1000.8 241.5h0M844.1 397.6h0M832.1 410.2h0M781.3 459.4h0M1067.4 174.3h0M774.6 465.1h0M928.8 308.8h0M961.1 277.6h0M1140.4 102.3h0M1096.2 143.8h0M872.1 368.2h0M929.2 318.9h0M1131.2 108.2h0M1127.5 115.8h0M1112.1 128.8h0M1010.7 226.5h0M986.9 253.9h0M1034.6 206.9h0M986.5 251.5h0M1045.3 191.3h0M1120.6 122.1h0M1117.5 119.8h0M881.4 361.5h0M751.1 488.4h0M1119.5 128.4h0M1147.5 89.8h0M1058.9 183.3h0M1082.5 154.4h0M1089.6 148.3h0M886.5 341.4h0M923.6 308.7h0M1128.1 111.4h0M891.5 346.7h0M1081.3 151.6h0M1061.4 177.3h0M1064.6 184.1h0M1044.5 192.5h0M779.7 456.9h0M1047.0 187.9h0M834.1 408.5h0M1030.8 216.1h0M877.2 366.0h0M1151.8 90.8h0M954.6 284.0h0M1025.4 214.9h0M794.3 444.7h0M971.9 274.0h0M953.1 280.5h0M884.1 352.2h0M993.4 240.2h0M952.9 282.0h0M773.3 463.8h0M1162.2 64.9h0M769.5 471.4h0M1078.7 169.8h0M922.3 319.8h0M771.4 467.9h0M862.1 372.6h0M932.8 307.4h0M925.8 314.0h0M895.1 345.0h0M923.6 320.9h0M1000.5 239.1h0M1040.7 196.9h0M1063.3 173.3h0M1137.9 99.8h0M1019.1 213.5h0M1112.7 127.4h0M1121.4 107.5h0M1089.9 153.9h0M1031.5 203.3h0M779.2 459.1h0M1084.1 155.9h0M997.7 245.5h0M1114.2 131.1h0M1072.9 163.3h0M899.4 342.1h0M857.2 383.2h0M959.6 279.7h0M800.4 442.0h0M1075.6 164.7h0M1123.7 120.8h0M1004.5 232.7h0M1039.2 194.4h0M933.7 307.9h0M1022.8 215.3h0M1005.7 235.4h0M1080.7 153.6h0M816.6 423.9h0M1032.6 203.9h0M830.2 414.5h0M925.0 319.2h0M772.2 467.1h0M995.8 243.8h0M758.7 481.7h0M901.2 339.8h0M956.7 288.9h0M1088.8 159.1h0M784.3 457.2h0M1108.6 131.0h0M945.7 294.5h0M852.8 388.1h0M1002.5 233.2h0M1116.1 126.7h0M1002.7 231.0h0M960.6 279.0h0M876.4 369.7h0M1050.9 196.9h0M871.2 364.8h0M784.8 452.4h0M1162.6 80.0h0M1098.7 140.9h0M745.0 491.3h0M960.2 286.0h0M939.7 302.4h0M914.8 328.3h0M1080.5 160.5h0M955.5 285.0h0M1009.9 225.4h0M812.9 428.0h0M908.0 332.4h0M966.5 277.4h0M873.3 370.5h0M831.9 407.8h0M746.5 492.6h0M1162.7 79.8h0M958.4 283.7h0M1077.2 170.0h0M1112.8 123.9h0M759.7 483.3h0M1029.4 209.8h0M1136.3 102.8h0M1129.1 110.8h0M898.7 345.5h0M1043.6 195.6h0M763.2 476.4h0M1049.9 181.5h0M1121.7 120.0h0M961.1 280.4h0M974.4 267.3h0M952.1 293.3h0M874.9 365.1h0M1165.1 76.1h0M1075.2 157.0h0M862.8 374.5h0M1128.8 110.7h0M1010.2 224.7h0M1154.1 84.0h0M751.9 490.0h0M777.4 464.6h0M990.4 249.8h0M1011.0 227.9h0M808.8 428.6h0M1071.9 164.8h0M823.2 416.5h0M821.7 414.9h0M989.3 253.7h0M843.0 393.2h0M910.6 327.3h0M869.3 369.9h0M1121.7 118.6h0M1155.7 91.8h0M1039.4 200.4h0M1096.1 144.9h0M995.9 243.5h0M977.1 262.5h0M785.2 455.3h0M990.8 247.7h0M833.2 406.3h0M842.5 398.5h0M1024.9 217.0h0M750.7 488.8h0M997.9 247.0h0M828.7 414.8h0M813.6 431.4h0M946.0 289.7h0M1048.7 195.6h0M882.8 355.9h0M811.8 426.8h0M1164.0 76.9h0M1064.6 179.5h0M756.3 483.3h0M849.8 391.6h0M1097.5 144.8h0M1011.8 228.3h0M1110.6 132.0h0M1064.3 174.3h0M1050.8 177.4h0M862.9 368.5h0M1038.6 211.0h0M864.5 372.3h0M982.6 257.0h0M1034.9 202.6h0M835.0 399.6h0M1021.4 212.0h0M769.5 470.1h0M786.1 452.3h0M828.9 412.5h0M1131.5 108.5h0M750.5 490.2h0M995.4 243.0h0M868.5 369.8h0M891.2 352.8h0M1019.5 215.1h0M992.1 251.3h0M827.0 410.5h0M891.3 344.9h0M891.6 350.7h0M982.4 251.1h0M894.9 345.1h0M939.4 297.4h0M862.4 372.0h0M759.4 480.8h0M1011.1 225.8h0M872.0 372.3h0M815.8 424.6h0M1069.0 170.0h0M1115.7 122.5h0M913.0 334.1h0M760.3 480.9h0M1098.3 135.9h0M742.7 495.8h0M1057.2 188.2h0M994.8 245.5h0M891.2 347.9h0M1131.3 101.2h0M812.3 429.5h0M909.3 332.9h0M907.6 323.0h0M1070.7 161.1h0M847.2 393.1h0M994.6 248.2h0M993.8 246.1h0M878.5 358.5h0M919.4 308.4h0M893.6 341.9h0M1122.0 116.6h0M743.4 495.6h0M1003.2 234.2h0M1015.1 220.2h0M1032.7 205.3h0M1049.9 188.8h0M1042.8 196.1h0M922.6 323.6h0M1026.6 211.5h0M888.5 354.4h0M1158.3 82.0h0M1018.2 219.7h0M945.0 298.5h0M809.6 428.1h0M804.5 437.4h0M876.0 363.7h0M842.0 395.2h0M920.6 320.0h0M953.3 284.2h0M955.4 286.4h0M936.3 302.3h0M846.4 391.1h0M875.7 359.5h0M876.2 365.2h0M1011.3 229.6h0M999.1 241.2h0M982.1 260.1h0M852.6 384.8h0M1058.0 185.2h0M1155.3 84.7h0M981.9 254.4h0M990.4 259.6h0M829.5 415.3h0M753.7 485.4h0M1038.4 197.7h0M1037.8 201.8h0M821.9 415.2h0M1012.6 232.3h0M838.8 403.2h0M1040.2 201.0h0M1006.8 236.3h0M1120.4 127.3h0M1135.6 106.8h0M907.5 330.1h0M895.0 344.7h0M1134.0 110.3h0M1056.6 187.5h0M946.8 287.5h0M1026.3 207.3h0M1147.3 90.5h0M1143.5 92.5h0M935.3 306.2h0M870.1 371.4h0M753.0 487.7h0M1122.5 114.0h0M996.8 239.3h0M1091.1 152.7h0M913.9 331.9h0M1029.3 210.7h0M1165.6 76.5h0M1035.1 203.7h0M1074.6 163.4h0M1161.8 80.1h0M1103.3 133.9h0M1051.3 189.0h0M790.6 447.4h0M998.9 239.4h0M1009.1 232.3h0M850.4 395.5h0M837.5 402.7h0M902.5 339.0h0M912.0 331.1h0M774.7 466.5h0M929.1 310.5h0M797.0 443.4h0M827.9 410.2h0M1038.7 196.7h0M918.4 320.7h0M1058.2 178.9h0M844.5 398.1h0M766.8 473.3h0M1013.1 225.2h0M1142.3 94.9h0M1025.2 213.9h0M839.8 393.6h0M896.8 343.9h0M1154.1 94.1h0M989.4 245.7h0M1125.4 113.2h0M859.8 379.2h0M1046.3 197.1h0M948.9 293.6h0M1135.0 99.5h0M1139.8 98.0h0M796.6 444.9h0M975.0 265.8h0M926.7 317.5h0M961.5 281.3h0M857.5 380.9h0M764.3 475.7h0M1141.7 97.1h0M773.0 465.0h0M771.1 469.4h0M887.5 349.7h0M893.9 341.5h0M1096.0 142.8h0M972.7 270.2h0M938.0 300.9h0M825.0 417.4h0M772.0 467.5h0M1121.5 115.3h0M1106.6 136.6h0M766.1 473.9h0M836.0 403.1h0M1095.3 144.8h0M792.0 446.9h0M943.6 298.0h0M1008.3 226.9h0M1070.7 165.7h0M999.3 245.7h0M877.0 357.7h0M1040.1 205.6h0M800.2 437.7h0M865.0 373.1h0M783.0 457.1h0M1087.2 150.2h0M945.1 290.5h0M1059.5 176.5h0M1090.5 146.1h0M779.7 456.9h0M973.6 269.8h0M1045.4 198.8h0M760.5 480.9h0M914.0 328.9h0M1104.0 140.0h0M786.1 453.5h0M1155.7 90.0h0M839.1 399.7h0M845.9 399.1h0M1064.3 175.9h0M1162.5 79.2h0M748.9 490.4h0M1002.3 234.2h0M796.7 441.6h0M953.7 289.4h0M877.4 357.7h0M1079.6 164.0h0M959.6 285.9h0M805.8 434.3h0M1053.0 187.7h0M997.8 248.8h0M753.1 486.6h0M1059.5 176.5h0M762.7 477.7h0M1160.6 78.6h0M1031.8 208.6h0M870.0 372.6h0M1132.4 109.6h0M815.2 424.4h0M1111.2 133.3h0M847.7 390.7h0M1001.2 241.6h0M972.5 261.9h0M930.9 303.8h0M971.8 268.1h0M880.2 362.9h0M760.7 480.2h0M942.7 303.6h0M914.0 324.4h0M941.8 301.2h0M765.7 472.9h0M747.4 494.1h0M796.6 443.4h0M1063.9 175.4h0M1091.9 147.3h0M795.3 445.0h0M1000.8 235.2h0M1103.4 132.6h0M1103.1 134.7h0M943.3 301.0h0M1090.0 150.9h0M842.4 392.1h0M1080.9 158.0h0M958.2 280.7h0M1018.7 223.0h0M895.0 344.6h0M1161.5 81.9h0M1005.1 239.5h0M788.9 450.3h0M870.3 366.0h0M782.0 457.9h0M763.3 476.9h0M908.2 337.4h0M1134.7 108.7h0M934.0 303.7h0M1103.1 131.8h0M810.6 436.6h0M1013.1 216.6h0M1153.6 91.5h0M1154.9 83.1h0M888.8 356.8h0M873.6 369.8h0M1049.8 186.8h0M776.2 465.2h0M795.0 441.2h0M786.8 454.0h0M1011.7 226.7h0M826.3 415.7h0M1159.7 87.0h0M822.1 420.5h0M1018.6 221.4h0M989.5 254.5h0M903.1 335.2h0M976.8 266.0h0M840.8 402.3h0M1097.0 140.1h0M953.6 282.7h0M1068.9 170.0h0M777.8 460.0h0M1062.8 182.6h0M853.9 386.8h0M824.8 414.5h0M1101.2 137.1h0M1093.0 144.1h0M866.5 373.8h0M993.9 251.3h0M975.8 271.4h0M1137.3 98.7h0M1002.6 234.4h0M884.9 352.6h0M1072.2 174.2h0M894.6 347.8h0M1068.2 171.5h0M1003.8 236.7h0M1037.3 208.3h0M1044.0 196.4h0M789.8 450.2h0M929.0 311.8h0M1010.6 227.3h0M886.5 352.0h0M950.2 290.0h0M767.9 471.7h0M823.0 418.2h0M984.2 254.5h0M846.5 394.2h0M1019.2 219.3h0M1150.3 87.8h0M1084.2 152.6h0M1085.0 159.0h0M965.9 270.9h0M1071.4 159.6h0M1163.2 65.7h0M1061.2 172.1h0M988.9 253.5h0M1001.4 239.8h0M1111.1 129.9h0M860.8 377.8h0M950.4 287.1h0M1156.5 80.7h0M1080.0 159.6h0M1097.7 149.1h0M899.5 337.0h0M987.9 247.2h0M884.1 355.0h0M763.0 476.9h0M1030.8 212.6h0M835.8 407.4h0M978.1 264.9h0M784.8 453.9h0M999.2 243.5h0M844.8 392.7h0M925.0 315.0h0M928.6 311.5h0M916.0 323.5h0M886.9 354.7h0M1123.3 120.5h0M1001.3 238.5h0M997.0 244.4h0M1075.1 164.9h0M1092.0 155.3h0M1160.2 76.7h0M779.3 459.8h0M803.9 437.5h0M875.5 360.5h0M742.8 498.3h0M772.8 465.7h0M969.2 267.7h0M1114.4 126.8h0M901.3 333.3h0M1080.0 156.5h0M1000.0 237.0h0M1007.4 229.0h0M880.7 365.7h0M791.2 450.9h0M844.7 391.0h0M1148.6 92.3h0M830.3 411.3h0M1130.2 115.0h0M1067.9 166.4h0M957.8 281.9h0M880.0 366.9h0M1075.2 166.0h0M988.7 245.2h0M906.7 337.8h0M754.5 484.3h0M958.9 274.7h0M780.6 458.9h0M791.7 447.1h0M973.0 271.1h0M766.1 473.0h0M1022.1 222.4h0M1156.0 91.7h0M876.6 362.0h0M1024.5 214.6h0M760.1 478.7h0M912.2 332.5h0M762.1 475.4h0M813.5 426.6h0M751.5 488.8h0M1088.1 149.9h0M1070.4 175.3h0M1084.2 162.9h0M1166.4 83.4h0M1060.4 177.3h0M934.9 310.2h0M941.1 303.7h0M819.9 423.5h0M1126.8 116.5h0M1110.0 128.4h0M948.9 286.7h0M1034.1 203.5h0M845.0 394.4h0M891.7 347.1h0M975.2 262.0h0M1100.5 141.6h0M1079.4 164.1h0M1136.8 97.9h0M1031.6 201.0h0M929.5 303.9h0M1083.4 160.7h0M807.1 431.0h0M857.2 378.7h0M857.4 388.8h0M893.3 347.8h0M1084.8 153.9h0M1039.1 199.9h0M1034.4 207.1h0M1163.0 83.5h0M806.7 433.9h0M1123.1 120.5h0M909.0 325.2h0M1041.2 190.2h0M834.3 400.4h0M937.4 305.1h0M1016.1 227.5h0M1138.3 99.6h0M794.3 446.3h0M989.6 252.7h0M1053.2 178.7h0M868.8 374.7h0M1022.4 217.6h0M915.1 328.3h0M997.5 237.4h0M868.6 367.6h0M1098.5 141.1h0M970.4 268.5h0M780.6 460.4h0M994.3 242.2h0M1037.1 203.2h0M991.1 253.4h0M1125.0 108.3h0M968.6 270.6h0M842.0 400.3h0M1130.8 106.9h0M932.4 308.9h0M908.2 328.9h0M866.2 377.2h0M1013.1 225.6h0M943.3 302.5h0M893.4 346.9h0M1084.9 153.1h0M1004.7 232.8h0M933.3 306.8h0M1155.2 84.8h0M903.1 335.0h0M1014.1 220.0h0M1103.9 133.6h0M1050.6 184.3h0M1029.5 215.1h0M1053.9 186.6h0M1072.8 163.4h0M812.7 427.7h0M1141.5 99.1h0M1034.6 203.4h0M800.1 438.6h0M1151.2 93.9h0M815.3 426.1h0M874.0 378.7h0M1095.9 140.6h0M1147.4 89.0h0M971.9 264.0h0M972.9 267.3h0M1142.2 102.0h0M1087.7 158.2h0M1097.1 145.4h0M977.4 258.4h0M1028.4 207.5h0M814.3 429.5h0M812.6 427.1h0M1155.9 84.9h0M1104.6 144.6h0M890.0 351.8h0M1056.5 190.7h0M763.9 475.5h0M891.6 343.0h0M807.0 434.2h0M1157.9 84.0h0M793.7 443.0h0M1045.3 196.9h0M1003.1 231.9h0M864.8 367.5h0M798.0 443.1h0M976.2 274.1h0M886.5 359.0h0M814.5 425.1h0M1132.5 104.2h0M883.6 356.3h0M1119.3 117.6h0M892.5 352.3h0M1022.8 221.8h0M1035.0 204.0h0M822.3 418.4h0M1091.0 150.6h0M1035.8 202.5h0M876.0 363.8h0M789.8 448.9h0M1097.5 137.7h0M950.9 291.5h0M1038.8 201.3h0M1020.7 213.2h0M926.6 312.0h0M1023.5 214.8h0M882.3 358.3h0M1019.1 217.7h0M754.6 484.4h0M752.8 486.3h0M1014.4 225.6h0M1139.2 98.2h0M867.8 378.9h0M965.8 276.4h0M776.1 462.8h0M833.9 409.8h0M950.9 284.0h0M1075.9 162.8h0M1080.3 159.4h0M1127.5 104.1h0M965.0 266.0h0M822.8 416.6h0M924.1 316.0h0M1098.9 138.2h0M928.6 316.4h0M909.5 337.8h0M771.7 468.3h0M967.7 270.9h0M1130.2 115.0h0M1029.0 203.3h0M900.6 340.7h0M942.1 303.7h0M958.1 284.6h0M773.2 466.6h0M1006.4 234.1h0M1162.1 78.5h0M754.8 484.0h0M1035.0 202.6h0M946.4 303.4h0M1034.6 203.4h0M1105.4 131.7h0M894.4 337.1h0M1023.6 226.0h0M1041.2 202.0h0M1005.2 232.5h0M1130.3 111.5h0M889.8 348.6h0M1099.6 146.2h0M813.6 429.9h0M898.6 341.6h0M947.8 286.6h0M961.3 289.9h0M825.4 411.0h0M845.9 393.7h0M1093.8 142.5h0M1159.2 85.4h0M858.7 371.5h0M889.3 351.9h0M1082.4 154.6h0M1076.3 163.9h0M940.3 299.3h0M840.7 394.7h0M1005.9 232.6h0M1020.7 223.5h0M1128.0 107.4h0M1122.6 115.6h0M812.7 427.1h0M802.8 437.9h0M837.9 398.2h0M1150.3 97.0h0M1150.2 89.3h0M958.3 285.3h0M1052.0 188.0h0M968.7 275.4h0M1161.3 75.4h0M1038.5 201.2h0M790.4 453.3h0M835.6 404.6h0M883.6 348.3h0M754.0 486.7h0M893.5 344.6h0M747.1 493.5h0M1085.1 149.2h0M1090.1 149.9h0M1064.7 170.0h0M776.6 460.9h0M1140.5 100.4h0M1022.6 206.2h0M975.4 262.9h0M966.4 274.3h0M1011.0 225.3h0M985.0 247.9h0M763.3 477.3h0M1108.7 133.2h0M1119.0 116.2h0M932.1 307.0h0M1146.7 89.9h0M899.1 343.6h0M876.6 362.1h0M1159.9 79.6h0M1043.3 194.1h0M806.4 434.1h0M934.0 309.7h0M1019.2 218.3h0M1100.0 133.5h0M1139.3 110.1h0M1045.3 191.4h0M866.7 376.5h0M1154.0 79.6h0M1113.9 119.7h0M1059.2 179.6h0M1121.9 119.7h0M807.1 431.4h0M1112.2 136.1h0M1131.6 105.9h0M798.6 441.7h0M827.3 415.9h0M849.2 396.8h0M1155.3 84.3h0M934.0 297.4h0M876.9 355.8h0M986.3 253.9h0M810.2 429.7h0M837.6 396.7h0M906.1 335.7h0M749.0 491.0h0M985.2 260.5h0M870.2 371.0h0M1151.3 87.0h0M1156.4 86.2h0M742.5 497.5h0M944.3 287.3h0M848.1 395.8h0M1032.6 212.9h0M751.9 485.4h0M966.3 275.9h0M1098.6 134.2h0M1018.6 221.5h0M1012.4 232.2h0M887.1 351.4h0M934.2 304.3h0M1156.3 73.0h0M917.4 320.2h0M1007.3 231.7h0M1126.7 105.0h0M1082.4 162.0h0M853.6 384.8h0M1092.0 151.8h0M1046.6 194.0h0M809.7 430.5h0M821.5 417.8h0M930.5 305.5h0M821.5 415.3h0M918.7 310.9h0M1096.6 139.4h0M780.5 460.3h0M1081.3 153.3h0M1105.7 140.6h0M1057.8 174.7h0M760.4 481.4h0M1162.0 83.0h0M1081.4 164.6h0M1098.1 142.6h0M1100.9 142.3h0M784.5 455.8h0M1155.6 82.4h0M1027.5 215.0h0M944.1 298.6h0M751.4 489.8h0M930.8 311.2h0M1077.0 162.6h0M1094.8 152.4h0M958.1 281.2h0M779.8 461.5h0M1135.1 100.4h0M1143.2 98.6h0M951.0 288.8h0M892.3 342.0h0M790.8 446.3h0M847.1 392.1h0M951.5 289.8h0M901.5 338.0h0M1165.8 75.6h0M930.0 310.4h0M1010.1 234.8h0M999.6 236.3h0M1137.0 104.4h0M907.9 329.0h0M920.1 313.4h0M1104.6 138.5h0M1124.5 114.7h0M1150.0 90.6h0M802.9 439.1h0M957.4 288.8h0M848.2 392.2h0M982.8 254.1h0M1093.0 141.9h0M1041.2 196.0h0M757.8 483.4h0M1142.4 99.5h0M1055.0 185.1h0M815.6 426.7h0M986.3 250.7h0M1027.3 209.1h0M762.6 475.7h0M911.5 325.5h0M829.4 412.0h0M933.7 309.1h0M904.8 335.5h0M769.4 470.1h0M1088.1 154.6h0M971.0 271.2h0M856.5 380.6h0M1040.1 197.3h0M803.0 434.6h0M1158.5 78.7h0M982.3 257.9h0M932.7 302.6h0M930.8 312.6h0M1125.3 109.3h0M1071.2 165.4h0M1139.5 105.7h0M783.2 455.4h0M842.8 397.1h0M824.9 417.5h0M1068.4 173.6h0M905.9 338.2h0M917.8 319.3h0M984.1 251.6h0M958.8 284.5h0M899.9 335.5h0M746.6 494.8h0M865.5 374.7h0M1109.6 121.9h0M811.2 428.4h0M766.3 472.9h0M905.1 327.1h0M1058.7 187.8h0M948.9 297.0h0M762.8 474.3h0M830.3 413.7h0M905.1 327.5h0M814.1 423.8h0M997.5 237.0h0M786.0 454.5h0M765.3 474.9h0M1140.2 94.4h0M764.6 476.9h0M824.3 411.1h0M754.5 486.3h0M885.3 353.4h0M901.9 341.6h0M901.0 341.0h0M1067.3 173.1h0M1165.2 79.1h0M827.3 412.7h0M770.9 467.6h0M1049.3 187.7h0M1068.1 167.1h0M894.4 345.9h0M1085.4 154.8h0M1030.4 209.5h0M802.5 440.0h0M902.4 331.5h0M1163.3 75.6h0M817.6 425.8h0M1095.6 148.2h0M1150.2 87.2h0M1157.2 85.1h0M1043.8 194.9h0M958.0 287.4h0M1119.9 117.6h0M987.9 251.3h0M762.0 479.1h0M860.4 385.3h0M1147.0 98.9h0M1099.6 137.1h0M964.4 281.5h0M1108.8 125.2h0M783.7 458.0h0M888.0 360.6h0M754.8 482.9h0M958.6 284.1h0M866.9 374.0h0M914.1 319.0h0M1003.4 229.9h0M861.7 379.9h0M919.2 323.9h0M801.2 437.5h0M997.4 240.7h0M763.9 476.3h0M1066.1 179.9h0M1137.7 102.9h0M798.8 438.0h0M809.0 433.7h0M868.5 376.0h0M1031.5 213.4h0M757.9 482.7h0M1145.4 91.8h0M812.4 428.1h0M866.2 361.4h0M884.3 335.0h0M843.8 379.5h0M1166.8 72.0h0M1167.0 74.6h0M1173.7 67.2h0M1173.2 64.5h0M1169.3 66.5h0M1167.0 72.6h0M1171.2 64.9h0M1169.6 70.1h0"/>
<path class="te" d="M947.7 291.3h0M1002.6 241.3h0M1104.2 134.5h0M877.3 361.4h0M969.6 270.3h0M844.2 395.3h0M1085.5 149.5h0M1144.1 96.5h0M832.8 403.5h0M973.7 266.6h0M1079.3 159.0h0M919.1 319.1h0M1044.8 194.0h0M874.4 367.9h0M934.9 305.0h0M852.4 386.1h0M748.7 489.1h0M1028.2 212.7h0M948.7 287.6h0M881.3 360.5h0M1053.7 182.4h0M1050.1 184.3h0M837.4 402.3h0M820.9 416.2h0M761.3 478.4h0M905.8 333.3h0M882.1 359.3h0M966.2 269.2h0M1158.6 78.7h0M1031.0 208.4h0M751.3 489.2h0M1013.5 223.7h0M760.4 476.9h0M932.7 307.9h0M877.4 355.0h0M814.3 422.4h0M842.7 397.2h0M1161.1 73.7h0M1067.3 174.0h0M875.2 366.1h0M833.9 403.9h0M773.6 463.6h0M930.2 309.9h0M989.5 255.8h0M1053.8 183.9h0M914.9 323.4h0M1139.8 94.6h0M895.9 344.2h0M1133.2 105.2h0M1102.6 136.4h0M1080.2 162.7h0M981.6 260.1h0M1073.6 167.6h0M981.9 256.0h0M1005.0 231.0h0M974.6 263.1h0M788.2 451.1h0M1039.7 197.4h0M788.1 452.9h0M920.7 318.1h0M751.0 488.6h0M1054.6 189.3h0M1071.1 167.6h0M996.3 243.6h0M911.7 326.9h0M991.5 251.0h0M779.7 463.2h0M821.4 416.8h0M770.7 471.3h0M1025.7 213.5h0M752.7 483.6h0M759.8 479.8h0M850.7 387.5h0M791.6 446.5h0M1147.9 90.2h0M846.1 396.8h0M858.1 377.8h0M905.1 332.9h0M961.2 275.7h0M1011.6 220.2h0M802.6 435.4h0M973.4 265.7h0M812.9 426.8h0M1002.5 232.9h0M919.7 318.5h0M804.4 434.7h0M1136.9 102.6h0M840.8 397.5h0M1162.1 71.0h0M858.5 383.0h0M1022.7 221.2h0M854.9 384.3h0M839.2 400.9h0M1084.2 156.2h0M929.3 312.1h0M809.7 428.9h0M1101.1 136.5h0M954.9 279.7h0M1137.7 102.9h0M993.4 242.8h0M866.0 375.4h0M867.3 368.8h0M751.0 486.2h0M764.6 471.4h0M882.8 351.5h0M796.1 444.9h0M846.7 391.9h0M948.9 288.1h0M1148.7 90.5h0M920.5 320.4h0M839.8 396.7h0M981.1 257.6h0M1020.5 218.8h0M1077.2 158.0h0M1088.8 150.2h0M988.3 248.6h0M942.6 293.9h0M763.8 473.6h0M1124.0 114.3h0M1011.5 234.5h0M1156.5 80.3h0M1106.4 136.4h0M1046.5 192.0h0M895.6 344.3h0M1070.5 173.7h0M897.3 340.6h0M792.1 443.4h0M788.0 450.5h0M1039.0 201.4h0M1012.9 228.7h0M889.2 354.6h0M814.2 424.9h0M1152.4 88.5h0M872.9 366.2h0M915.2 323.6h0M995.9 242.6h0M910.4 326.9h0M1110.9 126.9h0M784.0 453.4h0M972.5 265.4h0M1097.7 145.8h0M933.0 304.5h0M751.4 488.1h0M930.3 307.4h0M982.7 253.3h0M1111.5 123.0h0M892.1 345.3h0M872.6 368.3h0M874.7 361.8h0M1036.1 202.9h0M1164.6 66.7h0M875.0 364.9h0M782.8 458.2h0M981.7 256.9h0M1003.9 234.2h0M1145.3 96.5h0M1005.3 235.5h0M1066.6 171.1h0M1049.5 194.1h0M932.2 306.1h0M945.3 294.7h0M800.7 439.1h0M1119.0 118.7h0M1031.4 209.4h0M741.6 496.5h0M1110.6 130.4h0M989.4 249.4h0M916.1 322.6h0M917.5 319.7h0M1013.8 224.0h0M874.6 364.0h0M878.4 360.4h0M980.3 258.7h0M968.7 271.2h0M1065.7 171.9h0M969.9 265.8h0M1090.6 151.2h0M868.6 370.2h0M948.2 289.1h0M814.6 424.6h0M963.4 274.9h0M1050.0 183.2h0M1034.2 200.3h0M942.5 297.8h0M868.1 370.0h0M1053.1 187.6h0M924.3 312.8h0M960.0 282.1h0M1039.7 196.2h0M889.3 353.4h0M936.7 309.2h0M764.4 473.8h0M805.1 433.8h0M859.7 379.4h0M1017.7 218.6h0M935.5 301.6h0M922.0 316.8h0M1020.4 217.4h0M988.1 251.7h0M958.1 284.9h0M1129.5 103.7h0M766.2 472.8h0M1141.1 98.5h0M1139.4 93.5h0M1002.8 237.7h0M1079.5 157.5h0M893.7 345.4h0M812.9 427.1h0M796.8 442.1h0M1038.3 202.6h0M967.3 270.3h0M1071.7 161.2h0M971.8 269.4h0M962.7 275.3h0M1059.1 185.2h0M1025.1 213.5h0M1034.2 204.0h0M1040.5 195.8h0M949.8 288.1h0M956.7 283.3h0M1005.5 231.1h0M988.2 248.3h0M1015.3 224.6h0M780.0 460.5h0M919.3 318.9h0M974.3 264.4h0M981.4 257.6h0M1076.9 161.2h0M844.4 393.1h0M1121.6 115.2h0M766.7 472.6h0M1111.1 124.2h0M1075.5 162.1h0M999.7 236.4h0M832.0 406.2h0M1071.0 171.3h0M984.6 256.9h0M863.3 378.3h0M967.9 267.9h0M757.9 483.6h0M908.2 327.8h0M1131.5 105.9h0M765.0 475.2h0M1023.4 212.6h0M757.0 481.3h0M842.2 397.5h0M962.0 277.4h0M977.0 260.5h0M823.4 417.9h0M870.5 369.1h0M817.2 421.1h0M850.2 390.5h0M1028.6 213.6h0M963.1 279.1h0M742.1 499.3h0M1130.8 109.6h0M982.3 255.8h0M1042.8 198.3h0M791.7 447.3h0M991.5 247.3h0M883.7 352.3h0M868.9 374.3h0M909.8 329.4h0M841.5 393.7h0M1071.8 164.0h0M973.0 268.0h0M827.8 411.0h0M864.1 372.3h0M962.3 275.6h0M972.1 266.0h0M996.7 238.3h0M855.4 381.6h0M1093.3 143.6h0M1050.7 189.2h0M893.7 344.6h0M1041.0 199.3h0M1035.9 206.8h0M861.6 379.3h0M884.0 357.3h0M1139.7 103.3h0M858.0 383.5h0M841.5 400.3h0M1035.0 200.5h0M774.3 464.0h0M749.8 490.1h0M901.8 337.7h0M1115.5 118.5h0M999.6 240.7h0M1164.7 70.6h0M913.3 324.3h0M887.3 352.2h0M1107.7 131.2h0M829.2 408.5h0M1157.0 79.6h0M937.7 301.7h0M1045.0 199.6h0M1006.6 232.1h0M1154.5 79.4h0M835.0 403.2h0M761.9 478.7h0M1086.7 152.4h0M1121.3 114.7h0M1154.6 85.7h0M920.2 319.3h0M1000.2 235.3h0M760.9 481.4h0M1047.4 190.2h0M915.0 323.2h0M1106.1 130.4h0M1085.0 155.0h0M1140.0 95.3h0M989.0 248.0h0M1101.8 140.7h0M941.1 299.3h0M751.1 487.6h0M983.6 255.7h0M1030.1 211.1h0M976.6 262.2h0M819.7 417.9h0M1127.0 111.2h0M831.3 408.4h0M1021.9 218.8h0M832.6 403.0h0M797.6 443.8h0M808.6 429.8h0M873.0 368.0h0M920.3 318.9h0M974.7 261.7h0M1106.6 130.9h0M1060.7 176.2h0M898.5 339.8h0M897.6 335.6h0M968.3 267.4h0M942.7 288.2h0M907.9 328.0h0M873.1 369.0h0M757.8 481.3h0M931.7 312.5h0M874.7 365.4h0M943.2 296.7h0M1131.5 107.8h0M1136.0 101.0h0M1087.2 149.7h0M791.3 446.7h0M938.2 304.5h0M1048.4 195.9h0M831.9 407.1h0M995.0 240.4h0M847.4 390.2h0M1157.9 84.9h0M776.7 460.1h0M1032.7 205.1h0M975.2 267.2h0M877.7 361.5h0M767.3 472.0h0M898.5 343.9h0M890.1 351.9h0M981.6 253.6h0M1043.3 199.7h0M795.3 444.8h0M1111.5 132.4h0M982.5 256.1h0M982.5 251.9h0M1091.8 148.9h0M990.7 246.1h0M1022.2 217.1h0M1064.5 176.4h0M876.5 362.1h0M932.1 310.7h0M976.2 266.2h0M828.1 409.4h0M800.1 438.2h0M1097.7 142.5h0M1133.5 111.9h0M852.8 387.1h0M857.6 384.8h0M882.1 355.6h0M957.7 282.3h0M974.1 265.5h0M1046.0 193.1h0M1041.4 200.2h0M831.3 407.6h0M1077.7 160.7h0M838.1 402.3h0M1076.5 162.6h0M938.5 302.2h0M1069.7 168.2h0M967.6 272.6h0M811.9 428.5h0M1096.3 141.1h0M1004.7 232.6h0M1066.6 170.1h0M1008.5 227.6h0M876.2 366.6h0M791.8 444.5h0M1130.7 104.8h0M1127.1 113.2h0M768.9 468.8h0M836.0 400.8h0M918.5 316.8h0M809.2 428.8h0M875.0 362.2h0M909.1 331.6h0M802.7 433.6h0M1151.7 88.2h0M997.1 242.9h0M1132.7 107.9h0M759.7 482.6h0M1090.2 146.2h0M779.9 458.4h0M1155.3 85.8h0M839.3 399.3h0M963.2 278.9h0M1068.0 171.3h0M1139.7 97.5h0M812.7 426.5h0M961.5 279.7h0M1086.7 150.8h0M885.2 350.2h0M1149.6 86.5h0M859.5 378.4h0M1064.6 168.8h0M912.1 326.1h0M878.8 356.8h0M989.2 245.3h0M747.1 491.5h0M912.7 325.8h0M921.7 316.6h0M1110.9 129.3h0M865.6 371.8h0M1105.8 127.9h0M820.9 416.4h0M871.1 369.5h0M1129.1 108.8h0M916.0 321.8h0M1159.5 82.1h0M794.8 444.3h0M1101.7 135.8h0M1059.4 182.0h0M992.0 246.5h0M887.0 354.0h0M1071.0 173.3h0M801.1 436.2h0M826.2 411.0h0M808.7 431.6h0M745.7 493.0h0M1017.1 218.7h0M844.3 392.7h0M759.0 480.0h0M771.4 465.5h0M1087.9 152.8h0M967.8 270.0h0M881.8 356.7h0M743.2 497.8h0M1053.0 188.8h0M812.0 424.8h0M755.9 482.6h0M1150.8 81.6h0M1145.1 92.7h0M841.8 397.0h0M894.5 345.7h0M943.6 300.3h0M772.8 465.9h0M861.0 379.9h0M1084.6 155.8h0M1076.7 162.3h0M818.5 423.2h0M903.1 333.6h0M936.3 309.1h0M834.7 405.9h0M1087.3 148.8h0M958.5 278.4h0M792.1 445.2h0M888.7 351.6h0M800.7 440.7h0M743.8 494.7h0M840.0 397.8h0M928.0 312.7h0M866.3 369.3h0M1086.2 147.3h0M755.9 479.3h0M767.9 471.7h0M974.3 265.5h0M1090.5 149.8h0M1036.8 200.3h0M828.0 411.1h0M761.1 479.2h0M943.2 296.5h0M889.1 345.3h0M993.1 248.8h0M791.3 446.2h0M778.6 460.2h0M972.0 268.7h0M850.8 384.1h0M1009.4 233.4h0M1140.7 100.1h0M988.6 250.2h0M1115.9 122.2h0M774.8 464.8h0M1163.3 71.7h0M792.1 447.2h0M1000.8 237.6h0M769.5 468.2h0M867.2 373.4h0M849.0 389.8h0M889.1 352.5h0M1088.6 150.5h0M931.5 311.2h0M959.8 279.5h0M966.2 270.8h0M849.1 387.1h0M1102.5 150.7h0M972.6 261.5h0M974.2 262.5h0M1080.5 160.7h0M802.9 438.4h0M1126.0 110.3h0M957.4 277.8h0M1009.9 231.4h0M768.5 472.0h0M1138.7 97.6h0M893.0 346.8h0M1158.9 78.0h0M902.3 334.9h0M1123.9 120.6h0M1101.4 136.7h0M847.0 395.4h0M920.4 314.5h0M967.1 272.9h0M1092.5 147.7h0M995.3 243.9h0M1027.4 208.7h0M837.8 397.9h0M1092.0 148.2h0M912.3 329.7h0M1165.9 76.8h0M960.8 280.9h0M819.7 418.1h0M995.4 244.0h0M789.1 450.0h0M939.3 297.2h0M961.2 276.7h0M756.9 482.1h0M868.6 371.3h0M1050.7 191.1h0M1092.7 148.1h0M859.8 378.0h0M980.8 259.9h0M899.3 336.6h0M910.2 325.2h0M862.7 377.3h0M882.6 354.4h0M1074.0 163.4h0M891.6 348.6h0M1133.0 106.4h0M1038.7 199.6h0M753.2 486.0h0M750.8 486.8h0M744.7 495.2h0M982.8 254.7h0M823.4 415.1h0M819.2 417.5h0M898.9 341.0h0M785.2 451.8h0M802.7 438.4h0M908.2 331.8h0M747.9 490.6h0M898.3 339.8h0M823.4 415.7h0M966.7 271.3h0M797.7 440.7h0M957.4 272.0h0M886.6 352.1h0M1056.0 180.5h0M1013.5 225.6h0M782.7 455.3h0M1112.2 128.9h0M966.7 267.7h0M902.7 333.1h0M755.5 481.9h0M828.2 410.6h0M1089.8 155.0h0M1083.7 154.6h0M945.2 291.0h0M1097.4 150.6h0M955.3 284.8h0M905.7 335.5h0M827.6 410.3h0M1065.0 173.1h0M916.0 322.1h0M795.0 444.2h0M1159.3 83.4h0M1055.5 180.0h0M781.4 457.1h0M1058.3 184.7h0M1043.7 202.0h0M801.6 438.6h0M1119.7 120.0h0M914.8 321.7h0M985.2 255.0h0M1108.5 127.1h0M939.3 293.0h0M1131.4 111.2h0M859.7 379.4h0M1134.8 102.7h0M1142.6 95.6h0M991.9 243.0h0M874.9 366.7h0M1013.9 225.9h0M1052.2 183.0h0M998.0 240.6h0M917.5 317.9h0M1067.4 168.0h0M906.1 333.7h0M937.3 302.9h0M1108.5 130.1h0M1029.9 208.5h0M1077.3 160.7h0M912.2 329.0h0M800.2 439.3h0M881.4 360.0h0M809.7 428.6h0M871.3 366.7h0M832.9 407.9h0M867.3 369.3h0M1131.8 108.7h0M1075.4 163.7h0M1133.7 105.4h0M1030.9 206.7h0M889.2 349.8h0M937.8 302.5h0M1099.1 138.7h0M1116.8 122.8h0M999.4 238.8h0M983.4 258.2h0M909.4 332.6h0M983.0 258.2h0M1049.6 181.5h0M894.5 343.1h0M762.5 476.5h0M978.8 260.3h0M743.4 498.0h0M1012.4 226.8h0M877.1 362.8h0M781.6 458.5h0M793.1 444.0h0M788.6 449.6h0M1075.5 161.0h0M878.6 360.9h0M991.0 245.9h0M745.0 494.6h0M1095.5 141.8h0M907.3 335.7h0M808.2 432.4h0M1106.9 132.8h0M813.3 427.0h0M1074.8 160.3h0M902.3 333.2h0M1034.7 206.2h0M1065.6 173.5h0M1070.8 171.1h0M1067.7 171.3h0M820.9 418.0h0M1145.2 96.1h0M957.8 279.7h0M1140.8 93.2h0M1084.1 153.6h0M878.7 363.3h0M775.6 462.3h0M864.2 376.1h0M838.5 403.0h0M1067.5 171.9h0M968.4 275.0h0M1164.9 71.6h0M823.0 419.5h0M882.0 353.4h0M826.8 410.2h0M817.0 423.4h0M1158.2 82.5h0M834.5 405.4h0M957.1 282.0h0M918.4 322.1h0M1160.0 81.3h0M995.6 245.7h0M1015.0 227.3h0M1009.2 228.5h0M891.5 343.2h0M862.7 377.2h0M1025.7 212.8h0M1110.8 128.3h0M1054.8 183.9h0M1162.7 73.4h0M970.3 269.6h0M1051.0 188.4h0M1037.5 206.3h0M891.7 346.7h0M1025.3 213.2h0M1063.8 172.8h0M1018.0 225.2h0M1015.2 220.8h0M1134.7 108.4h0M1067.7 170.6h0M895.7 341.6h0M878.5 358.2h0M840.0 399.2h0M946.5 293.9h0M840.9 397.8h0M1016.4 227.3h0M878.8 364.9h0M1120.1 121.4h0M754.8 484.0h0M985.7 250.2h0M763.1 471.8h0M1156.9 82.7h0M959.5 277.2h0M1047.0 187.9h0M786.3 455.1h0M1070.9 164.1h0M959.1 280.0h0M1043.6 192.7h0M1100.8 136.8h0M886.1 351.1h0M1031.0 210.1h0M915.3 321.2h0M1152.5 86.6h0M882.3 357.5h0M993.5 248.4h0M1046.8 194.8h0M908.6 326.9h0M856.2 386.0h0M1044.9 193.2h0M925.5 317.0h0M809.2 429.4h0M1147.2 95.6h0M776.5 464.2h0M945.5 292.4h0M857.7 378.8h0M1084.3 156.2h0M1003.6 230.7h0M1057.5 175.8h0M869.8 370.1h0M1126.5 112.1h0M751.1 488.7h0M1038.0 199.9h0M750.3 487.9h0M1059.2 177.9h0M1106.7 129.7h0M1010.4 233.0h0M950.7 287.2h0M963.3 275.4h0M926.6 310.6h0M1088.7 150.6h0M985.1 250.9h0M967.9 269.9h0M1017.3 223.2h0M869.3 367.0h0M1134.6 104.4h0M859.5 380.1h0M961.8 284.2h0M1045.5 192.1h0M1138.8 98.9h0M1104.1 131.7h0M1116.5 124.0h0M839.5 398.8h0M949.0 293.2h0M893.0 347.7h0M1067.8 170.1h0M1147.9 84.8h0M1070.4 172.3h0M844.4 395.8h0M843.4 392.5h0M977.7 261.0h0M851.3 388.0h0M863.6 375.2h0M960.8 279.0h0M811.9 424.8h0M1028.9 207.8h0M1093.4 149.6h0M1065.9 174.3h0M873.6 366.0h0M1115.5 124.0h0M1155.3 85.7h0M1083.2 158.1h0M894.5 342.4h0M831.9 407.6h0M1041.1 197.1h0M1030.8 207.4h0M890.0 346.9h0M1144.4 95.3h0M749.8 491.0h0M835.7 402.2h0M906.4 332.4h0M796.4 442.2h0M1049.5 186.8h0M889.9 347.2h0M759.0 479.3h0M900.1 344.9h0M907.4 329.1h0M910.3 326.8h0M905.9 334.9h0M1025.0 211.9h0M991.0 245.7h0M1108.8 125.8h0M797.3 439.9h0M1150.2 90.6h0M746.0 496.9h0M913.0 330.6h0M995.1 245.4h0M909.7 328.2h0M1038.9 200.8h0M934.7 309.6h0M774.9 464.8h0M1141.3 96.1h0M904.3 334.8h0M1129.6 105.2h0M843.4 398.2h0M915.9 317.0h0M1091.4 147.2h0M978.0 261.0h0M822.8 416.4h0M1131.9 112.6h0M998.3 236.8h0M980.8 253.8h0M852.8 390.2h0M887.2 350.1h0M1016.5 221.4h0M950.4 293.2h0M973.3 268.3h0M863.3 383.1h0M938.2 305.6h0M811.2 427.7h0M846.5 392.9h0M1095.4 146.2h0M837.5 401.7h0M1119.9 116.8h0M957.6 277.4h0M921.4 317.2h0M993.9 246.5h0M972.4 265.7h0M934.8 302.3h0M1048.4 187.9h0M1163.3 74.6h0M908.8 332.8h0M812.8 425.4h0M930.3 312.5h0M750.1 489.3h0M831.4 406.6h0M1065.0 175.0h0M959.5 272.2h0M841.5 392.8h0M1011.1 225.7h0M1156.3 86.6h0M961.0 280.8h0M747.6 490.9h0M1147.2 90.4h0M1024.6 211.0h0M1135.6 105.1h0M866.5 369.1h0M843.9 392.2h0M952.4 290.9h0M1005.7 233.3h0M829.3 410.7h0M936.2 307.5h0M999.3 242.0h0M952.8 285.2h0M937.3 302.3h0M932.7 302.6h0M1105.4 131.5h0M1095.4 144.9h0M763.4 475.1h0M1031.5 203.4h0M771.0 468.3h0M1095.0 144.8h0M1122.0 117.0h0M823.2 412.2h0M1096.2 142.7h0M890.7 348.8h0M867.4 374.7h0M965.5 275.4h0M962.8 275.0h0M1054.2 184.7h0M786.5 453.1h0M1044.0 193.1h0M1027.7 208.5h0M1007.9 231.3h0M782.4 454.9h0M1080.0 160.4h0M1143.1 94.2h0M748.4 492.0h0M831.8 402.2h0M749.2 492.3h0M771.7 468.1h0M1047.2 190.3h0M1029.6 209.6h0M820.0 421.2h0M857.2 383.7h0M1078.0 161.9h0M1014.8 225.3h0M977.4 259.4h0M899.9 340.1h0M861.1 364.1h0M870.9 355.9h0M877.2 347.2h0M887.9 340.1h0M867.4 360.6h0M1168.9 73.7h0M1169.9 73.8h0M1167.7 70.2h0M1173.8 68.4h0"/>
</g>
<line class="dg" clip-path="url(#cl)" x1="122.20" y1="521.3" x2="559.20" y2="84.3"/>
<line class="dg" clip-path="url(#cr)" x1="717.40" y1="521.3" x2="1154.40" y2="84.3"/>
<rect x="125.4" y="86.3" width="432.90" height="433.00" class="sp"/>
<rect x="721.4" y="86.3" width="433.10" height="433.00" class="sp"/>
<text transform="translate(368.05,33.80) scale(1.0105,1)" x="-1.25 17.95 35.11 52.92 63.33 80.65 96.42 105.26 122.89 129.96 145.47 156.29 166.89 174.65 191.81 210.00 220.13 227.40 244.57 261.66 269.80 281.21 299.48 309.61 317.25 334.79 350.39 359.89 377.46 395.00 411.86 420.91 428.95 449.34" y="0" style="font-size:29.45px;">Energy distribution (gtinv-174, V)</text>
<text transform="translate(217.11,585.50) scale(0.9951,1)" x="0.14 16.41 29.74 43.62 50.83 64.78 78.76 93.23 101.77 115.85 128.64 135.34 144.57 157.71 173.74 180.22 195.54 203.53 218.08 239.73" y="0" style="font-size:23.55px;">DFT energy (eV/atom)</text>
<text transform="translate(813.41,585.50) scale(0.9951,1)" x="0.14 16.41 29.74 43.62 50.83 64.78 78.76 93.23 101.77 115.85 128.64 135.34 144.57 157.71 173.74 180.22 195.54 203.53 218.08 239.73" y="0" style="font-size:23.55px;">DFT energy (eV/atom)</text>
<text transform="translate(59.60,426.49) rotate(-90) scale(0.9888,1)" x="-0.11 19.59 31.25 45.82 53.09 67.13 81.20 95.75 104.35 118.52 131.38 138.12 147.43 160.66 176.76 183.30 198.69 206.76 221.42 243.17" y="0" style="font-size:23.55px;">MLP energy (eV/atom)</text>
<text transform="translate(639.60,426.49) rotate(-90) scale(0.9888,1)" x="-0.11 19.59 31.25 45.82 53.09 67.13 81.20 95.75 104.35 118.52 131.38 138.12 147.43 160.66 176.76 183.30 198.69 206.76 221.42 243.17" y="0" style="font-size:23.55px;">MLP energy (eV/atom)</text>
<rect x="114.56" y="547.95" width="9.94" height="1.3" fill="#262626"/><text transform="translate(126.18,553.70) scale(0.9675,1)" x="0.48" y="0" style="font-size:16.85px;">7</text>
<rect x="176.62" y="547.95" width="9.94" height="1.3" fill="#262626"/><text transform="translate(188.24,553.70) scale(1.0323,1)" x="0.21" y="0" style="font-size:16.85px;">6</text>
<rect x="237.84" y="547.95" width="9.94" height="1.3" fill="#262626"/><text transform="translate(249.46,553.70) scale(0.9297,1)" x="0.66" y="0" style="font-size:16.85px;">5</text>
<rect x="299.59" y="547.95" width="9.94" height="1.3" fill="#262626"/><text transform="translate(311.21,553.70) scale(0.9926,1)" x="0.38" y="0" style="font-size:16.85px;">4</text>
<rect x="361.78" y="547.95" width="9.94" height="1.3" fill="#262626"/><text transform="translate(373.40,553.70) scale(0.9531,1)" x="0.62" y="0" style="font-size:16.85px;">3</text>
<rect x="423.94" y="547.95" width="9.94" height="1.3" fill="#262626"/><text transform="translate(435.55,553.70) scale(0.9512,1)" x="0.37" y="0" style="font-size:16.85px;">2</text>
<rect x="485.88" y="547.95" width="9.94" height="1.3" fill="#262626"/><text transform="translate(497.49,553.70) scale(0.9483,1)" x="0.53" y="0" style="font-size:16.85px;">1</text>
<text transform="translate(553.24,553.70) scale(0.9922,1)" x="0.38" y="0" style="font-size:16.85px;">0</text>
<rect x="80.03" y="519.00" width="9.94" height="1.3" fill="#262626"/><text transform="translate(91.64,524.75) scale(0.9675,1)" x="0.48" y="0" style="font-size:16.85px;">7</text>
<rect x="79.65" y="457.00" width="9.94" height="1.3" fill="#262626"/><text transform="translate(91.26,462.75) scale(1.0323,1)" x="0.21" y="0" style="font-size:16.85px;">6</text>
<rect x="80.09" y="395.00" width="9.94" height="1.3" fill="#262626"/><text transform="translate(91.70,400.75) scale(0.9297,1)" x="0.66" y="0" style="font-size:16.85px;">5</text>
<rect x="79.59" y="333.00" width="9.94" height="1.3" fill="#262626"/><text transform="translate(91.20,338.75) scale(0.9926,1)" x="0.38" y="0" style="font-size:16.85px;">4</text>
<rect x="79.96" y="271.00" width="9.94" height="1.3" fill="#262626"/><text transform="translate(91.58,276.75) scale(0.9531,1)" x="0.62" y="0" style="font-size:16.85px;">3</text>
<rect x="80.28" y="209.00" width="9.94" height="1.3" fill="#262626"/><text transform="translate(91.89,214.75) scale(0.9512,1)" x="0.37" y="0" style="font-size:16.85px;">2</text>
<rect x="80.15" y="147.00" width="9.94" height="1.3" fill="#262626"/><text transform="translate(91.76,152.75) scale(0.9483,1)" x="0.53" y="0" style="font-size:16.85px;">1</text>
<text transform="translate(91.34,92.05) scale(0.9922,1)" x="0.38" y="0" style="font-size:16.85px;">0</text>
<rect x="748.03" y="547.95" width="9.94" height="1.3" fill="#262626"/><text transform="translate(759.65,553.70) scale(1.0140,1)" x="0.30 10.08 15.21" y="0" style="font-size:16.85px;">6.4</text>
<rect x="827.38" y="547.95" width="9.94" height="1.3" fill="#262626"/><text transform="translate(838.99,553.70) scale(0.9963,1)" x="0.39 10.30 15.35" y="0" style="font-size:16.85px;">6.2</text>
<rect x="906.09" y="547.95" width="9.94" height="1.3" fill="#262626"/><text transform="translate(917.71,553.70) scale(1.0144,1)" x="0.30 10.08 15.20" y="0" style="font-size:16.85px;">6.0</text>
<rect x="984.12" y="547.95" width="9.94" height="1.3" fill="#262626"/><text transform="translate(995.74,553.70) scale(0.9749,1)" x="0.41 10.58 16.01" y="0" style="font-size:16.85px;">5.8</text>
<rect x="1063.06" y="547.95" width="9.94" height="1.3" fill="#262626"/><text transform="translate(1074.68,553.70) scale(0.9856,1)" x="0.35 10.44 15.82" y="0" style="font-size:16.85px;">5.6</text>
<rect x="660.23" y="159.00" width="9.94" height="1.3" fill="#262626"/><text transform="translate(671.84,164.75) scale(0.9856,1)" x="0.35 10.44 15.82" y="0" style="font-size:16.85px;">5.6</text>
<rect x="660.35" y="238.00" width="9.94" height="1.3" fill="#262626"/><text transform="translate(671.96,243.75) scale(0.9749,1)" x="0.41 10.58 16.01" y="0" style="font-size:16.85px;">5.8</text>
<rect x="660.29" y="317.00" width="9.94" height="1.3" fill="#262626"/><text transform="translate(671.90,322.75) scale(1.0144,1)" x="0.30 10.08 15.20" y="0" style="font-size:16.85px;">6.0</text>
<rect x="660.85" y="396.00" width="9.94" height="1.3" fill="#262626"/><text transform="translate(672.46,401.75) scale(0.9963,1)" x="0.39 10.30 15.35" y="0" style="font-size:16.85px;">6.2</text>
<rect x="660.16" y="474.00" width="9.94" height="1.3" fill="#262626"/><text transform="translate(671.78,479.75) scale(1.0140,1)" x="0.30 10.08 15.21" y="0" style="font-size:16.85px;">6.4</text>
<rect x="136.9" y="97.6" width="183.3" height="80.2" rx="4.5" fill="#fff" fill-opacity="0.8" stroke="#c8c8c8" stroke-width="1.9"/>
<circle cx="171.5" cy="120.4" r="1.85" fill="#000"/>
<circle cx="171.5" cy="156.5" r="3.2" fill="#ff8c00"/>
<text transform="translate(216.68,126.50) scale(1.0246,1)" x="0.98 10.20 18.02 33.62 40.09 54.97 61.44 76.11" y="0" style="font-size:25.44px;">training</text>
<text transform="translate(216.68,162.80) scale(1.0712,1)" x="0.78 8.67 22.18 35.02" y="0" style="font-size:25.44px;">test</text>
<rect x="732.9" y="97.6" width="183.3" height="80.2" rx="4.5" fill="#fff" fill-opacity="0.8" stroke="#c8c8c8" stroke-width="1.9"/>
<circle cx="767.5" cy="120.4" r="1.85" fill="#000"/>
<circle cx="767.5" cy="156.5" r="3.2" fill="#ff8c00"/>
<text transform="translate(812.67,126.50) scale(1.0246,1)" x="0.98 10.20 18.02 33.62 40.09 54.97 61.44 76.11" y="0" style="font-size:25.44px;">training</text>
<text transform="translate(812.67,162.80) scale(1.0712,1)" x="0.78 8.67 22.18 35.02" y="0" style="font-size:25.44px;">test</text>
</svg></body></html>
